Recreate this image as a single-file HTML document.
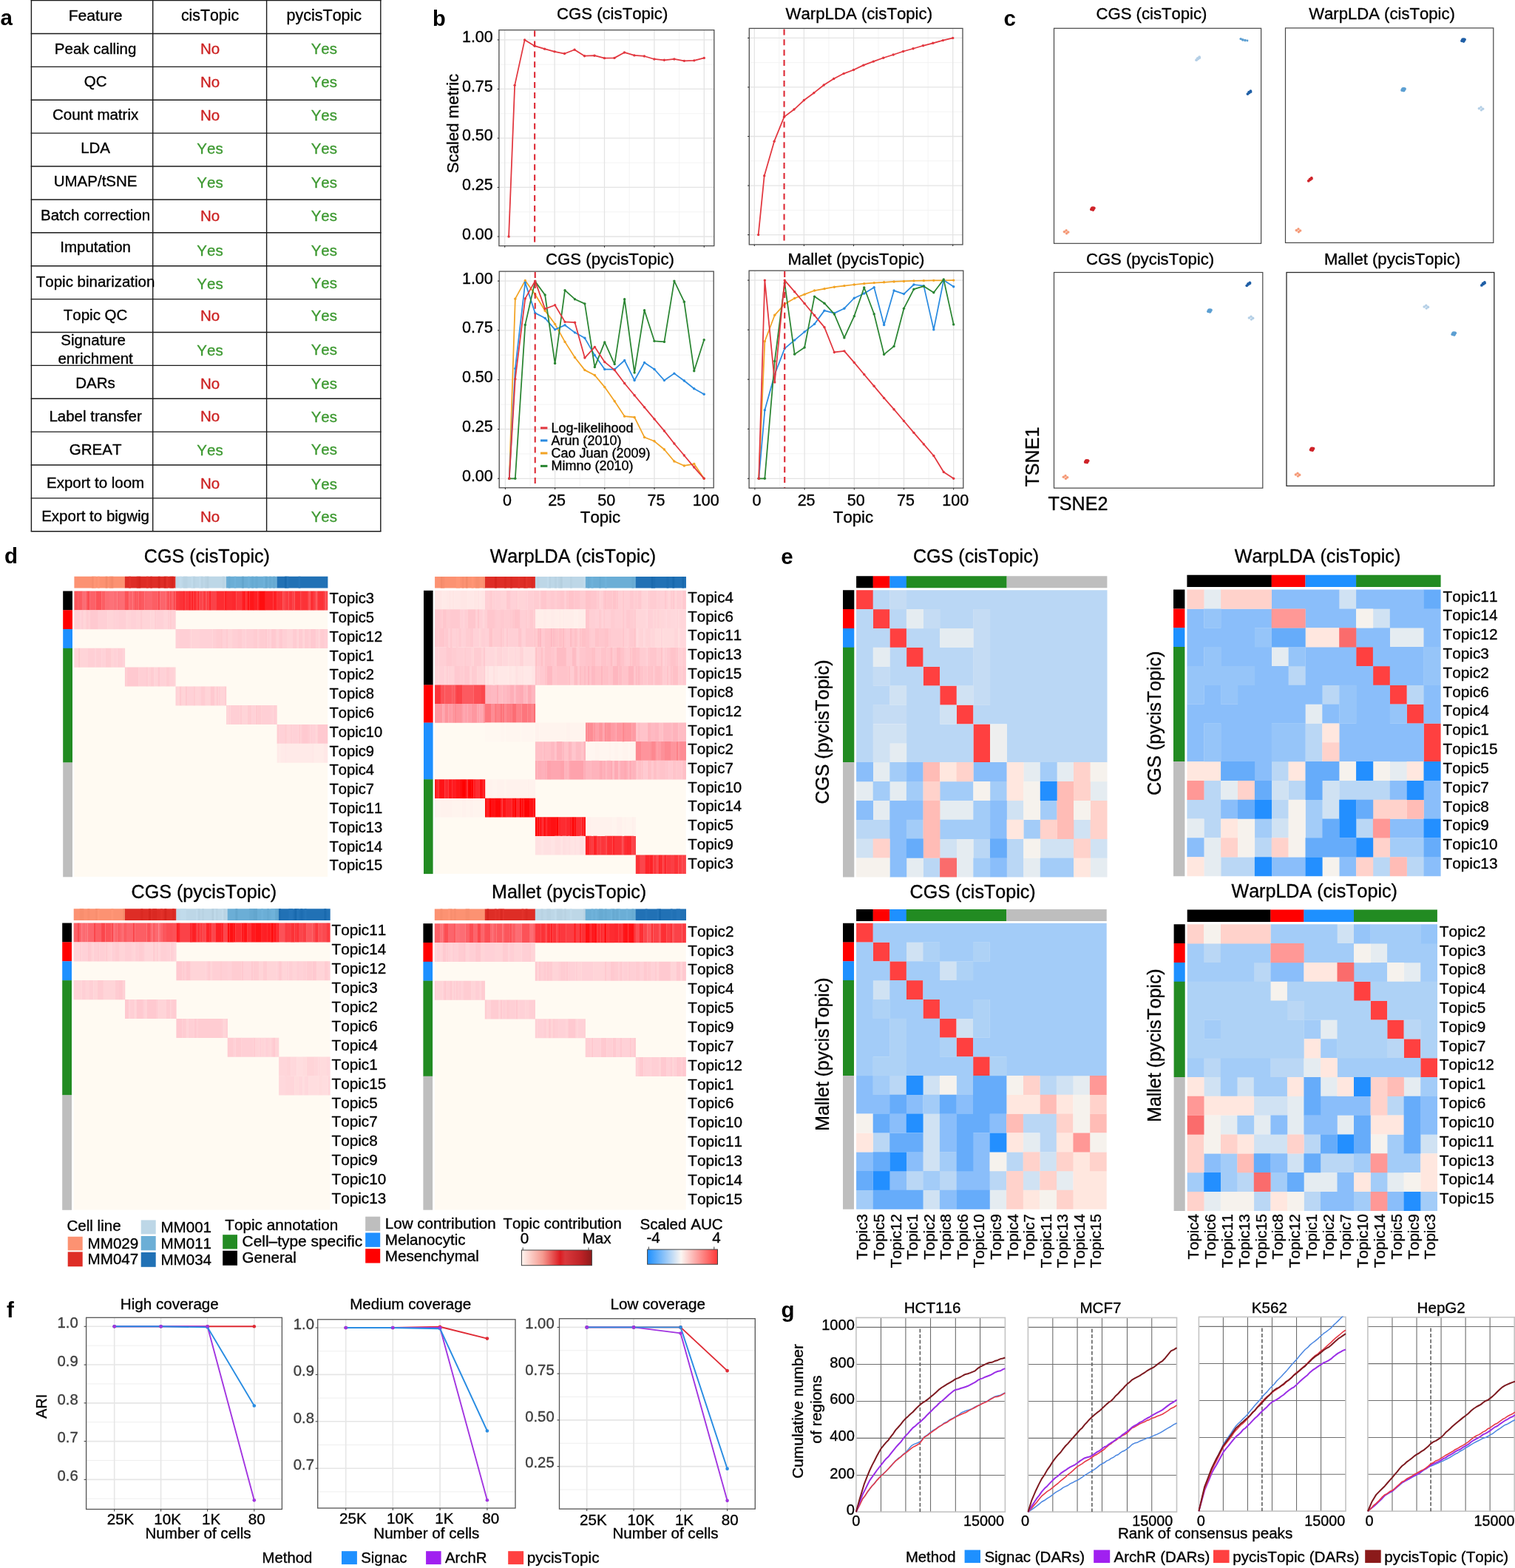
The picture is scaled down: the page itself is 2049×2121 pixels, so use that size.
<!DOCTYPE html>
<html lang="en"><head><meta charset="utf-8"><title>pycisTopic benchmark figure</title>
<style>
html,body{margin:0;padding:0;background:#fff}
body{width:2049px;height:2121px;overflow:hidden}
svg{display:block}
svg text{font-family:"Liberation Sans",sans-serif;font-kerning:none;stroke:#000;stroke-width:.35px;stroke-linejoin:round}
</style></head><body>
<svg width="2049" height="2121" viewBox="0 0 2049 2121">
<rect width="2049" height="2121" fill="#fff"/>
<g id="panel_a">
<text x="0.5" y="33.5" font-size="29.5" font-weight="bold" style="stroke:none">a</text>
<line x1="41.7" y1="0.6" x2="515.5" y2="0.6" stroke="#1a1a1a" stroke-width="1.4"/>
<line x1="41.7" y1="45.49" x2="515.5" y2="45.49" stroke="#1a1a1a" stroke-width="1.4"/>
<line x1="41.7" y1="90.37" x2="515.5" y2="90.37" stroke="#1a1a1a" stroke-width="1.4"/>
<line x1="41.7" y1="135.26" x2="515.5" y2="135.26" stroke="#1a1a1a" stroke-width="1.4"/>
<line x1="41.7" y1="180.15" x2="515.5" y2="180.15" stroke="#1a1a1a" stroke-width="1.4"/>
<line x1="41.7" y1="225.04" x2="515.5" y2="225.04" stroke="#1a1a1a" stroke-width="1.4"/>
<line x1="41.7" y1="269.93" x2="515.5" y2="269.93" stroke="#1a1a1a" stroke-width="1.4"/>
<line x1="41.7" y1="314.81" x2="515.5" y2="314.81" stroke="#1a1a1a" stroke-width="1.4"/>
<line x1="41.7" y1="359.7" x2="515.5" y2="359.7" stroke="#1a1a1a" stroke-width="1.4"/>
<line x1="41.7" y1="404.59" x2="515.5" y2="404.59" stroke="#1a1a1a" stroke-width="1.4"/>
<line x1="41.7" y1="449.47" x2="515.5" y2="449.47" stroke="#1a1a1a" stroke-width="1.4"/>
<line x1="41.7" y1="494.36" x2="515.5" y2="494.36" stroke="#1a1a1a" stroke-width="1.4"/>
<line x1="41.7" y1="539.25" x2="515.5" y2="539.25" stroke="#1a1a1a" stroke-width="1.4"/>
<line x1="41.7" y1="584.14" x2="515.5" y2="584.14" stroke="#1a1a1a" stroke-width="1.4"/>
<line x1="41.7" y1="629.02" x2="515.5" y2="629.02" stroke="#1a1a1a" stroke-width="1.4"/>
<line x1="41.7" y1="673.91" x2="515.5" y2="673.91" stroke="#1a1a1a" stroke-width="1.4"/>
<line x1="41.7" y1="718.8" x2="515.5" y2="718.8" stroke="#1a1a1a" stroke-width="1.4"/>
<line x1="42.4" y1="0" x2="42.4" y2="718.8" stroke="#1a1a1a" stroke-width="1.4"/>
<line x1="206.7" y1="0" x2="206.7" y2="718.8" stroke="#1a1a1a" stroke-width="1.4"/>
<line x1="360.6" y1="0" x2="360.6" y2="718.8" stroke="#1a1a1a" stroke-width="1.4"/>
<line x1="514.8" y1="0" x2="514.8" y2="718.8" stroke="#1a1a1a" stroke-width="1.4"/>
<text x="129.1" y="27.92" font-size="21.1" text-anchor="middle">Feature</text>
<text x="284" y="28.29" font-size="21.3" text-anchor="middle">cisTopic</text>
<text x="438.3" y="28.29" font-size="21.5" text-anchor="middle">pycisTopic</text>
<text x="129.1" y="72.6" font-size="20.5" text-anchor="middle">Peak calling</text>
<text x="284" y="72.6" font-size="20.5" text-anchor="middle" style="fill:#cc2222;stroke:#cc2222">No</text>
<text x="438.3" y="72.6" font-size="20.5" text-anchor="middle" style="fill:#3f9a33;stroke:#3f9a33">Yes</text>
<text x="129.1" y="116.53" font-size="20.5" text-anchor="middle">QC</text>
<text x="284" y="118.39" font-size="20.5" text-anchor="middle" style="fill:#cc2222;stroke:#cc2222">No</text>
<text x="438.3" y="118.39" font-size="20.5" text-anchor="middle" style="fill:#3f9a33;stroke:#3f9a33">Yes</text>
<text x="129.1" y="162.32" font-size="20.5" text-anchor="middle">Count matrix</text>
<text x="284" y="162.7" font-size="20.5" text-anchor="middle" style="fill:#cc2222;stroke:#cc2222">No</text>
<text x="438.3" y="162.7" font-size="20.5" text-anchor="middle" style="fill:#3f9a33;stroke:#3f9a33">Yes</text>
<text x="129.1" y="207" font-size="20.5" text-anchor="middle">LDA</text>
<text x="284" y="207.74" font-size="20.5" text-anchor="middle" style="fill:#3f9a33;stroke:#3f9a33">Yes</text>
<text x="438.3" y="208.49" font-size="20.5" text-anchor="middle" style="fill:#3f9a33;stroke:#3f9a33">Yes</text>
<text x="129.1" y="252.05" font-size="20.5" text-anchor="middle">UMAP/tSNE</text>
<text x="284" y="253.54" font-size="20.5" text-anchor="middle" style="fill:#3f9a33;stroke:#3f9a33">Yes</text>
<text x="438.3" y="253.54" font-size="20.5" text-anchor="middle" style="fill:#3f9a33;stroke:#3f9a33">Yes</text>
<text x="129.1" y="298.21" font-size="20.5" text-anchor="middle">Batch correction</text>
<text x="284" y="298.59" font-size="20.5" text-anchor="middle" style="fill:#cc2222;stroke:#cc2222">No</text>
<text x="438.3" y="298.59" font-size="20.5" text-anchor="middle" style="fill:#3f9a33;stroke:#3f9a33">Yes</text>
<text x="129.1" y="340.66" font-size="20.5" text-anchor="middle">Imputation</text>
<text x="284" y="345.5" font-size="20.5" text-anchor="middle" style="fill:#3f9a33;stroke:#3f9a33">Yes</text>
<text x="438.3" y="345.5" font-size="20.5" text-anchor="middle" style="fill:#3f9a33;stroke:#3f9a33">Yes</text>
<text x="129.1" y="388.31" font-size="20.5" text-anchor="middle">Topic binarization</text>
<text x="284" y="390.92" font-size="20.5" text-anchor="middle" style="fill:#3f9a33;stroke:#3f9a33">Yes</text>
<text x="438.3" y="390.17" font-size="20.5" text-anchor="middle" style="fill:#3f9a33;stroke:#3f9a33">Yes</text>
<text x="129.1" y="432.99" font-size="20.5" text-anchor="middle">Topic QC</text>
<text x="284" y="433.73" font-size="20.5" text-anchor="middle" style="fill:#cc2222;stroke:#cc2222">No</text>
<text x="438.3" y="433.73" font-size="20.5" text-anchor="middle" style="fill:#3f9a33;stroke:#3f9a33">Yes</text>
<text x="126.1" y="467.24" font-size="20.5" text-anchor="middle">Signature</text>
<text x="129.1" y="491.81" font-size="20.5" text-anchor="middle">enrichment</text>
<text x="284" y="481.01" font-size="20.5" text-anchor="middle" style="fill:#3f9a33;stroke:#3f9a33">Yes</text>
<text x="438.3" y="480.27" font-size="20.5" text-anchor="middle" style="fill:#3f9a33;stroke:#3f9a33">Yes</text>
<text x="129.1" y="524.94" font-size="20.5" text-anchor="middle">DARs</text>
<text x="284" y="525.69" font-size="20.5" text-anchor="middle" style="fill:#cc2222;stroke:#cc2222">No</text>
<text x="438.3" y="525.69" font-size="20.5" text-anchor="middle" style="fill:#3f9a33;stroke:#3f9a33">Yes</text>
<text x="129.1" y="569.62" font-size="20.5" text-anchor="middle">Label transfer</text>
<text x="284" y="570.36" font-size="20.5" text-anchor="middle" style="fill:#cc2222;stroke:#cc2222">No</text>
<text x="438.3" y="571.11" font-size="20.5" text-anchor="middle" style="fill:#3f9a33;stroke:#3f9a33">Yes</text>
<text x="129.1" y="615.04" font-size="20.5" text-anchor="middle">GREAT</text>
<text x="284" y="616.16" font-size="20.5" text-anchor="middle" style="fill:#3f9a33;stroke:#3f9a33">Yes</text>
<text x="438.3" y="615.41" font-size="20.5" text-anchor="middle" style="fill:#3f9a33;stroke:#3f9a33">Yes</text>
<text x="129.1" y="659.72" font-size="20.5" text-anchor="middle">Export to loom</text>
<text x="284" y="660.83" font-size="20.5" text-anchor="middle" style="fill:#cc2222;stroke:#cc2222">No</text>
<text x="438.3" y="661.58" font-size="20.5" text-anchor="middle" style="fill:#3f9a33;stroke:#3f9a33">Yes</text>
<text x="129.1" y="704.77" font-size="20.5" text-anchor="middle">Export to bigwig</text>
<text x="284" y="705.51" font-size="20.5" text-anchor="middle" style="fill:#cc2222;stroke:#cc2222">No</text>
<text x="438.3" y="706.25" font-size="20.5" text-anchor="middle" style="fill:#3f9a33;stroke:#3f9a33">Yes</text>
</g>
<g id="panel_b">
<text x="585" y="35" font-size="29" font-weight="bold" style="stroke:none">b</text>
<rect x="674.9" y="40.6" width="290.9" height="292" fill="#fff"/>
<line x1="716.4" y1="40.6" x2="716.4" y2="332.6" stroke="#f0f0f0" stroke-width="0.8"/>
<line x1="783.8" y1="40.6" x2="783.8" y2="332.6" stroke="#f0f0f0" stroke-width="0.8"/>
<line x1="851.2" y1="40.6" x2="851.2" y2="332.6" stroke="#f0f0f0" stroke-width="0.8"/>
<line x1="918.6" y1="40.6" x2="918.6" y2="332.6" stroke="#f0f0f0" stroke-width="0.8"/>
<line x1="674.9" y1="286.74" x2="965.8" y2="286.74" stroke="#f0f0f0" stroke-width="0.8"/>
<line x1="674.9" y1="220.21" x2="965.8" y2="220.21" stroke="#f0f0f0" stroke-width="0.8"/>
<line x1="674.9" y1="153.69" x2="965.8" y2="153.69" stroke="#f0f0f0" stroke-width="0.8"/>
<line x1="674.9" y1="87.16" x2="965.8" y2="87.16" stroke="#f0f0f0" stroke-width="0.8"/>
<line x1="682.7" y1="40.6" x2="682.7" y2="332.6" stroke="#e4e4e4" stroke-width="1.3"/>
<line x1="750.1" y1="40.6" x2="750.1" y2="332.6" stroke="#e4e4e4" stroke-width="1.3"/>
<line x1="817.5" y1="40.6" x2="817.5" y2="332.6" stroke="#e4e4e4" stroke-width="1.3"/>
<line x1="884.9" y1="40.6" x2="884.9" y2="332.6" stroke="#e4e4e4" stroke-width="1.3"/>
<line x1="952.3" y1="40.6" x2="952.3" y2="332.6" stroke="#e4e4e4" stroke-width="1.3"/>
<line x1="674.9" y1="320" x2="965.8" y2="320" stroke="#e4e4e4" stroke-width="1.3"/>
<line x1="674.9" y1="253.47" x2="965.8" y2="253.47" stroke="#e4e4e4" stroke-width="1.3"/>
<line x1="674.9" y1="186.95" x2="965.8" y2="186.95" stroke="#e4e4e4" stroke-width="1.3"/>
<line x1="674.9" y1="120.42" x2="965.8" y2="120.42" stroke="#e4e4e4" stroke-width="1.3"/>
<line x1="674.9" y1="53.9" x2="965.8" y2="53.9" stroke="#e4e4e4" stroke-width="1.3"/>
<polyline points="688.09,320 696.18,115.37 709.66,53.9 723.14,62.15 736.62,66.14 750.1,69.87 763.58,72.53 777.06,67.2 790.54,75.72 804.02,75.19 817.5,78.65 830.98,78.38 844.46,70.93 857.94,74.92 871.42,75.99 884.9,79.98 898.38,81.31 911.86,79.98 925.34,82.37 938.82,81.84 952.3,78.38" fill="none" stroke="#e2373f" stroke-width="1.75" stroke-linejoin="round"/>
<circle cx="688.09" cy="320" r="1.7" fill="#e2373f"/>
<circle cx="696.18" cy="115.37" r="1.7" fill="#e2373f"/>
<circle cx="709.66" cy="53.9" r="1.7" fill="#e2373f"/>
<circle cx="723.14" cy="62.15" r="1.7" fill="#e2373f"/>
<circle cx="736.62" cy="66.14" r="1.7" fill="#e2373f"/>
<circle cx="750.1" cy="69.87" r="1.7" fill="#e2373f"/>
<circle cx="763.58" cy="72.53" r="1.7" fill="#e2373f"/>
<circle cx="777.06" cy="67.2" r="1.7" fill="#e2373f"/>
<circle cx="790.54" cy="75.72" r="1.7" fill="#e2373f"/>
<circle cx="804.02" cy="75.19" r="1.7" fill="#e2373f"/>
<circle cx="817.5" cy="78.65" r="1.7" fill="#e2373f"/>
<circle cx="830.98" cy="78.38" r="1.7" fill="#e2373f"/>
<circle cx="844.46" cy="70.93" r="1.7" fill="#e2373f"/>
<circle cx="857.94" cy="74.92" r="1.7" fill="#e2373f"/>
<circle cx="871.42" cy="75.99" r="1.7" fill="#e2373f"/>
<circle cx="884.9" cy="79.98" r="1.7" fill="#e2373f"/>
<circle cx="898.38" cy="81.31" r="1.7" fill="#e2373f"/>
<circle cx="911.86" cy="79.98" r="1.7" fill="#e2373f"/>
<circle cx="925.34" cy="82.37" r="1.7" fill="#e2373f"/>
<circle cx="938.82" cy="81.84" r="1.7" fill="#e2373f"/>
<circle cx="952.3" cy="78.38" r="1.7" fill="#e2373f"/>
<line x1="723.14" y1="41.6" x2="723.14" y2="332.6" stroke="#dd2a35" stroke-width="2.1" stroke-dasharray="8 5.9"/>
<rect x="674.9" y="40.6" width="290.9" height="292" fill="none" stroke="#4d4d4d" stroke-width="1.3"/>
<line x1="682.7" y1="332.6" x2="682.7" y2="334.8" stroke="#333" stroke-width="1.1"/>
<line x1="750.1" y1="332.6" x2="750.1" y2="334.8" stroke="#333" stroke-width="1.1"/>
<line x1="817.5" y1="332.6" x2="817.5" y2="334.8" stroke="#333" stroke-width="1.1"/>
<line x1="884.9" y1="332.6" x2="884.9" y2="334.8" stroke="#333" stroke-width="1.1"/>
<line x1="952.3" y1="332.6" x2="952.3" y2="334.8" stroke="#333" stroke-width="1.1"/>
<line x1="672.7" y1="320" x2="674.9" y2="320" stroke="#333" stroke-width="1.1"/>
<line x1="672.7" y1="253.47" x2="674.9" y2="253.47" stroke="#333" stroke-width="1.1"/>
<line x1="672.7" y1="186.95" x2="674.9" y2="186.95" stroke="#333" stroke-width="1.1"/>
<line x1="672.7" y1="120.42" x2="674.9" y2="120.42" stroke="#333" stroke-width="1.1"/>
<line x1="672.7" y1="53.9" x2="674.9" y2="53.9" stroke="#333" stroke-width="1.1"/>
<text x="828.1" y="25.5" font-size="22.2" text-anchor="middle">CGS (cisTopic)</text>
<text x="666.8" y="323.5" font-size="21.5" text-anchor="end">0.00</text>
<text x="666.8" y="256.98" font-size="21.5" text-anchor="end">0.25</text>
<text x="666.8" y="190.45" font-size="21.5" text-anchor="end">0.50</text>
<text x="666.8" y="123.92" font-size="21.5" text-anchor="end">0.75</text>
<text x="666.8" y="57.4" font-size="21.5" text-anchor="end">1.00</text>
<text text-anchor="middle" transform="translate(620 167) rotate(-90)" font-size="22.2">Scaled metric</text>
<rect x="1013.3" y="38.4" width="288.7" height="292.5" fill="#fff"/>
<line x1="1053.85" y1="38.4" x2="1053.85" y2="330.9" stroke="#f0f0f0" stroke-width="0.8"/>
<line x1="1120.95" y1="38.4" x2="1120.95" y2="330.9" stroke="#f0f0f0" stroke-width="0.8"/>
<line x1="1188.05" y1="38.4" x2="1188.05" y2="330.9" stroke="#f0f0f0" stroke-width="0.8"/>
<line x1="1255.15" y1="38.4" x2="1255.15" y2="330.9" stroke="#f0f0f0" stroke-width="0.8"/>
<line x1="1013.3" y1="284.33" x2="1302" y2="284.33" stroke="#f0f0f0" stroke-width="0.8"/>
<line x1="1013.3" y1="217.78" x2="1302" y2="217.78" stroke="#f0f0f0" stroke-width="0.8"/>
<line x1="1013.3" y1="151.22" x2="1302" y2="151.22" stroke="#f0f0f0" stroke-width="0.8"/>
<line x1="1013.3" y1="84.67" x2="1302" y2="84.67" stroke="#f0f0f0" stroke-width="0.8"/>
<line x1="1020.3" y1="38.4" x2="1020.3" y2="330.9" stroke="#e4e4e4" stroke-width="1.3"/>
<line x1="1087.4" y1="38.4" x2="1087.4" y2="330.9" stroke="#e4e4e4" stroke-width="1.3"/>
<line x1="1154.5" y1="38.4" x2="1154.5" y2="330.9" stroke="#e4e4e4" stroke-width="1.3"/>
<line x1="1221.6" y1="38.4" x2="1221.6" y2="330.9" stroke="#e4e4e4" stroke-width="1.3"/>
<line x1="1288.7" y1="38.4" x2="1288.7" y2="330.9" stroke="#e4e4e4" stroke-width="1.3"/>
<line x1="1013.3" y1="317.6" x2="1302" y2="317.6" stroke="#e4e4e4" stroke-width="1.3"/>
<line x1="1013.3" y1="251.05" x2="1302" y2="251.05" stroke="#e4e4e4" stroke-width="1.3"/>
<line x1="1013.3" y1="184.5" x2="1302" y2="184.5" stroke="#e4e4e4" stroke-width="1.3"/>
<line x1="1013.3" y1="117.95" x2="1302" y2="117.95" stroke="#e4e4e4" stroke-width="1.3"/>
<line x1="1013.3" y1="51.4" x2="1302" y2="51.4" stroke="#e4e4e4" stroke-width="1.3"/>
<polyline points="1025.67,317.6 1033.72,237.74 1047.14,191.16 1060.56,158.15 1073.98,148.03 1087.4,135.52 1100.82,125.67 1114.24,115.02 1127.66,106.5 1141.08,99.58 1154.5,94.52 1167.92,88.14 1181.34,83.08 1194.76,78.29 1208.18,74.03 1221.6,69.5 1235.02,65.77 1248.44,61.78 1261.86,58.32 1275.28,54.59 1288.7,51.4" fill="none" stroke="#e2373f" stroke-width="1.75" stroke-linejoin="round"/>
<circle cx="1025.67" cy="317.6" r="1.7" fill="#e2373f"/>
<circle cx="1033.72" cy="237.74" r="1.7" fill="#e2373f"/>
<circle cx="1047.14" cy="191.16" r="1.7" fill="#e2373f"/>
<circle cx="1060.56" cy="158.15" r="1.7" fill="#e2373f"/>
<circle cx="1073.98" cy="148.03" r="1.7" fill="#e2373f"/>
<circle cx="1087.4" cy="135.52" r="1.7" fill="#e2373f"/>
<circle cx="1100.82" cy="125.67" r="1.7" fill="#e2373f"/>
<circle cx="1114.24" cy="115.02" r="1.7" fill="#e2373f"/>
<circle cx="1127.66" cy="106.5" r="1.7" fill="#e2373f"/>
<circle cx="1141.08" cy="99.58" r="1.7" fill="#e2373f"/>
<circle cx="1154.5" cy="94.52" r="1.7" fill="#e2373f"/>
<circle cx="1167.92" cy="88.14" r="1.7" fill="#e2373f"/>
<circle cx="1181.34" cy="83.08" r="1.7" fill="#e2373f"/>
<circle cx="1194.76" cy="78.29" r="1.7" fill="#e2373f"/>
<circle cx="1208.18" cy="74.03" r="1.7" fill="#e2373f"/>
<circle cx="1221.6" cy="69.5" r="1.7" fill="#e2373f"/>
<circle cx="1235.02" cy="65.77" r="1.7" fill="#e2373f"/>
<circle cx="1248.44" cy="61.78" r="1.7" fill="#e2373f"/>
<circle cx="1261.86" cy="58.32" r="1.7" fill="#e2373f"/>
<circle cx="1275.28" cy="54.59" r="1.7" fill="#e2373f"/>
<circle cx="1288.7" cy="51.4" r="1.7" fill="#e2373f"/>
<line x1="1060.56" y1="39.4" x2="1060.56" y2="330.9" stroke="#dd2a35" stroke-width="2.1" stroke-dasharray="8 5.9"/>
<rect x="1013.3" y="38.4" width="288.7" height="292.5" fill="none" stroke="#4d4d4d" stroke-width="1.3"/>
<line x1="1020.3" y1="330.9" x2="1020.3" y2="333.1" stroke="#333" stroke-width="1.1"/>
<line x1="1087.4" y1="330.9" x2="1087.4" y2="333.1" stroke="#333" stroke-width="1.1"/>
<line x1="1154.5" y1="330.9" x2="1154.5" y2="333.1" stroke="#333" stroke-width="1.1"/>
<line x1="1221.6" y1="330.9" x2="1221.6" y2="333.1" stroke="#333" stroke-width="1.1"/>
<line x1="1288.7" y1="330.9" x2="1288.7" y2="333.1" stroke="#333" stroke-width="1.1"/>
<line x1="1011.1" y1="317.6" x2="1013.3" y2="317.6" stroke="#333" stroke-width="1.1"/>
<line x1="1011.1" y1="251.05" x2="1013.3" y2="251.05" stroke="#333" stroke-width="1.1"/>
<line x1="1011.1" y1="184.5" x2="1013.3" y2="184.5" stroke="#333" stroke-width="1.1"/>
<line x1="1011.1" y1="117.95" x2="1013.3" y2="117.95" stroke="#333" stroke-width="1.1"/>
<line x1="1011.1" y1="51.4" x2="1013.3" y2="51.4" stroke="#333" stroke-width="1.1"/>
<text x="1161.8" y="25.5" font-size="22.2" text-anchor="middle">WarpLDA (cisTopic)</text>
<rect x="675.2" y="367.1" width="290" height="292.7" fill="#fff"/>
<line x1="717" y1="367.1" x2="717" y2="659.8" stroke="#f0f0f0" stroke-width="0.8"/>
<line x1="784.2" y1="367.1" x2="784.2" y2="659.8" stroke="#f0f0f0" stroke-width="0.8"/>
<line x1="851.4" y1="367.1" x2="851.4" y2="659.8" stroke="#f0f0f0" stroke-width="0.8"/>
<line x1="918.6" y1="367.1" x2="918.6" y2="659.8" stroke="#f0f0f0" stroke-width="0.8"/>
<line x1="675.2" y1="613.9" x2="965.2" y2="613.9" stroke="#f0f0f0" stroke-width="0.8"/>
<line x1="675.2" y1="547.1" x2="965.2" y2="547.1" stroke="#f0f0f0" stroke-width="0.8"/>
<line x1="675.2" y1="480.3" x2="965.2" y2="480.3" stroke="#f0f0f0" stroke-width="0.8"/>
<line x1="675.2" y1="413.5" x2="965.2" y2="413.5" stroke="#f0f0f0" stroke-width="0.8"/>
<line x1="683.4" y1="367.1" x2="683.4" y2="659.8" stroke="#e4e4e4" stroke-width="1.3"/>
<line x1="750.6" y1="367.1" x2="750.6" y2="659.8" stroke="#e4e4e4" stroke-width="1.3"/>
<line x1="817.8" y1="367.1" x2="817.8" y2="659.8" stroke="#e4e4e4" stroke-width="1.3"/>
<line x1="885" y1="367.1" x2="885" y2="659.8" stroke="#e4e4e4" stroke-width="1.3"/>
<line x1="952.2" y1="367.1" x2="952.2" y2="659.8" stroke="#e4e4e4" stroke-width="1.3"/>
<line x1="675.2" y1="647.3" x2="965.2" y2="647.3" stroke="#e4e4e4" stroke-width="1.3"/>
<line x1="675.2" y1="580.5" x2="965.2" y2="580.5" stroke="#e4e4e4" stroke-width="1.3"/>
<line x1="675.2" y1="513.7" x2="965.2" y2="513.7" stroke="#e4e4e4" stroke-width="1.3"/>
<line x1="675.2" y1="446.9" x2="965.2" y2="446.9" stroke="#e4e4e4" stroke-width="1.3"/>
<line x1="675.2" y1="380.1" x2="965.2" y2="380.1" stroke="#e4e4e4" stroke-width="1.3"/>
<polyline points="688.78,647.3 696.84,404.15 710.28,379.57 723.72,398.27 737.16,420.18 750.6,438.35 764.04,462.4 777.48,483.51 790.92,500.61 804.36,507.55 817.8,523.59 831.24,542.82 844.68,563.13 858.12,564.47 871.56,591.46 885,596.8 898.44,608.02 911.88,624.05 925.32,629.93 938.76,627.53 952.2,647.3" fill="none" stroke="#f2a324" stroke-width="1.75" stroke-linejoin="round"/>
<circle cx="688.78" cy="647.3" r="1.7" fill="#f2a324"/>
<circle cx="696.84" cy="404.15" r="1.7" fill="#f2a324"/>
<circle cx="710.28" cy="379.57" r="1.7" fill="#f2a324"/>
<circle cx="723.72" cy="398.27" r="1.7" fill="#f2a324"/>
<circle cx="737.16" cy="420.18" r="1.7" fill="#f2a324"/>
<circle cx="750.6" cy="438.35" r="1.7" fill="#f2a324"/>
<circle cx="764.04" cy="462.4" r="1.7" fill="#f2a324"/>
<circle cx="777.48" cy="483.51" r="1.7" fill="#f2a324"/>
<circle cx="790.92" cy="500.61" r="1.7" fill="#f2a324"/>
<circle cx="804.36" cy="507.55" r="1.7" fill="#f2a324"/>
<circle cx="817.8" cy="523.59" r="1.7" fill="#f2a324"/>
<circle cx="831.24" cy="542.82" r="1.7" fill="#f2a324"/>
<circle cx="844.68" cy="563.13" r="1.7" fill="#f2a324"/>
<circle cx="858.12" cy="564.47" r="1.7" fill="#f2a324"/>
<circle cx="871.56" cy="591.46" r="1.7" fill="#f2a324"/>
<circle cx="885" cy="596.8" r="1.7" fill="#f2a324"/>
<circle cx="898.44" cy="608.02" r="1.7" fill="#f2a324"/>
<circle cx="911.88" cy="624.05" r="1.7" fill="#f2a324"/>
<circle cx="925.32" cy="629.93" r="1.7" fill="#f2a324"/>
<circle cx="938.76" cy="627.53" r="1.7" fill="#f2a324"/>
<circle cx="952.2" cy="647.3" r="1.7" fill="#f2a324"/>
<polyline points="688.78,647.3 696.84,498.47 710.28,382.24 723.72,423.39 737.16,430.33 750.6,445.83 764.04,439.69 777.48,449.84 790.92,457.32 804.36,480.57 817.8,499.54 831.24,499.54 844.68,487.51 858.12,514.5 871.56,490.45 885,499.54 898.44,514.5 911.88,505.15 925.32,515.04 938.76,525.72 952.2,533.21" fill="none" stroke="#2b8be0" stroke-width="1.75" stroke-linejoin="round"/>
<circle cx="688.78" cy="647.3" r="1.7" fill="#2b8be0"/>
<circle cx="696.84" cy="498.47" r="1.7" fill="#2b8be0"/>
<circle cx="710.28" cy="382.24" r="1.7" fill="#2b8be0"/>
<circle cx="723.72" cy="423.39" r="1.7" fill="#2b8be0"/>
<circle cx="737.16" cy="430.33" r="1.7" fill="#2b8be0"/>
<circle cx="750.6" cy="445.83" r="1.7" fill="#2b8be0"/>
<circle cx="764.04" cy="439.69" r="1.7" fill="#2b8be0"/>
<circle cx="777.48" cy="449.84" r="1.7" fill="#2b8be0"/>
<circle cx="790.92" cy="457.32" r="1.7" fill="#2b8be0"/>
<circle cx="804.36" cy="480.57" r="1.7" fill="#2b8be0"/>
<circle cx="817.8" cy="499.54" r="1.7" fill="#2b8be0"/>
<circle cx="831.24" cy="499.54" r="1.7" fill="#2b8be0"/>
<circle cx="844.68" cy="487.51" r="1.7" fill="#2b8be0"/>
<circle cx="858.12" cy="514.5" r="1.7" fill="#2b8be0"/>
<circle cx="871.56" cy="490.45" r="1.7" fill="#2b8be0"/>
<circle cx="885" cy="499.54" r="1.7" fill="#2b8be0"/>
<circle cx="898.44" cy="514.5" r="1.7" fill="#2b8be0"/>
<circle cx="911.88" cy="505.15" r="1.7" fill="#2b8be0"/>
<circle cx="925.32" cy="515.04" r="1.7" fill="#2b8be0"/>
<circle cx="938.76" cy="525.72" r="1.7" fill="#2b8be0"/>
<circle cx="952.2" cy="533.21" r="1.7" fill="#2b8be0"/>
<polyline points="688.78,647.3 696.84,647.3 710.28,439.42 723.72,380.63 737.16,399.07 750.6,491.52 764.04,392.66 777.48,404.68 790.92,410.83 804.36,496.6 817.8,462.93 831.24,492.59 844.68,404.68 858.12,504.08 871.56,419.65 885,461.33 898.44,462.4 911.88,380.1 925.32,408.16 938.76,501.68 952.2,459.73" fill="none" stroke="#2a8532" stroke-width="1.75" stroke-linejoin="round"/>
<circle cx="688.78" cy="647.3" r="1.7" fill="#2a8532"/>
<circle cx="696.84" cy="647.3" r="1.7" fill="#2a8532"/>
<circle cx="710.28" cy="439.42" r="1.7" fill="#2a8532"/>
<circle cx="723.72" cy="380.63" r="1.7" fill="#2a8532"/>
<circle cx="737.16" cy="399.07" r="1.7" fill="#2a8532"/>
<circle cx="750.6" cy="491.52" r="1.7" fill="#2a8532"/>
<circle cx="764.04" cy="392.66" r="1.7" fill="#2a8532"/>
<circle cx="777.48" cy="404.68" r="1.7" fill="#2a8532"/>
<circle cx="790.92" cy="410.83" r="1.7" fill="#2a8532"/>
<circle cx="804.36" cy="496.6" r="1.7" fill="#2a8532"/>
<circle cx="817.8" cy="462.93" r="1.7" fill="#2a8532"/>
<circle cx="831.24" cy="492.59" r="1.7" fill="#2a8532"/>
<circle cx="844.68" cy="404.68" r="1.7" fill="#2a8532"/>
<circle cx="858.12" cy="504.08" r="1.7" fill="#2a8532"/>
<circle cx="871.56" cy="419.65" r="1.7" fill="#2a8532"/>
<circle cx="885" cy="461.33" r="1.7" fill="#2a8532"/>
<circle cx="898.44" cy="462.4" r="1.7" fill="#2a8532"/>
<circle cx="911.88" cy="380.1" r="1.7" fill="#2a8532"/>
<circle cx="925.32" cy="408.16" r="1.7" fill="#2a8532"/>
<circle cx="938.76" cy="501.68" r="1.7" fill="#2a8532"/>
<circle cx="952.2" cy="459.73" r="1.7" fill="#2a8532"/>
<polyline points="688.78,647.3 696.84,512.63 710.28,403.88 723.72,380.1 737.16,417.78 750.6,412.7 764.04,435.41 777.48,436.21 790.92,484.04 804.36,469.34 817.8,489.65 831.24,500.61 844.68,518.51 858.12,534.81 871.56,550.84 885,566.87 898.44,582.9 911.88,600.01 925.32,616.04 938.76,632.07 952.2,647.3" fill="none" stroke="#e2373f" stroke-width="1.75" stroke-linejoin="round"/>
<circle cx="688.78" cy="647.3" r="1.7" fill="#e2373f"/>
<circle cx="696.84" cy="512.63" r="1.7" fill="#e2373f"/>
<circle cx="710.28" cy="403.88" r="1.7" fill="#e2373f"/>
<circle cx="723.72" cy="380.1" r="1.7" fill="#e2373f"/>
<circle cx="737.16" cy="417.78" r="1.7" fill="#e2373f"/>
<circle cx="750.6" cy="412.7" r="1.7" fill="#e2373f"/>
<circle cx="764.04" cy="435.41" r="1.7" fill="#e2373f"/>
<circle cx="777.48" cy="436.21" r="1.7" fill="#e2373f"/>
<circle cx="790.92" cy="484.04" r="1.7" fill="#e2373f"/>
<circle cx="804.36" cy="469.34" r="1.7" fill="#e2373f"/>
<circle cx="817.8" cy="489.65" r="1.7" fill="#e2373f"/>
<circle cx="831.24" cy="500.61" r="1.7" fill="#e2373f"/>
<circle cx="844.68" cy="518.51" r="1.7" fill="#e2373f"/>
<circle cx="858.12" cy="534.81" r="1.7" fill="#e2373f"/>
<circle cx="871.56" cy="550.84" r="1.7" fill="#e2373f"/>
<circle cx="885" cy="566.87" r="1.7" fill="#e2373f"/>
<circle cx="898.44" cy="582.9" r="1.7" fill="#e2373f"/>
<circle cx="911.88" cy="600.01" r="1.7" fill="#e2373f"/>
<circle cx="925.32" cy="616.04" r="1.7" fill="#e2373f"/>
<circle cx="938.76" cy="632.07" r="1.7" fill="#e2373f"/>
<circle cx="952.2" cy="647.3" r="1.7" fill="#e2373f"/>
<line x1="723.72" y1="368.1" x2="723.72" y2="659.8" stroke="#dd2a35" stroke-width="2.1" stroke-dasharray="8 5.9"/>
<rect x="675.2" y="367.1" width="290" height="292.7" fill="none" stroke="#4d4d4d" stroke-width="1.3"/>
<line x1="683.4" y1="659.8" x2="683.4" y2="662" stroke="#333" stroke-width="1.1"/>
<line x1="750.6" y1="659.8" x2="750.6" y2="662" stroke="#333" stroke-width="1.1"/>
<line x1="817.8" y1="659.8" x2="817.8" y2="662" stroke="#333" stroke-width="1.1"/>
<line x1="885" y1="659.8" x2="885" y2="662" stroke="#333" stroke-width="1.1"/>
<line x1="952.2" y1="659.8" x2="952.2" y2="662" stroke="#333" stroke-width="1.1"/>
<line x1="673" y1="647.3" x2="675.2" y2="647.3" stroke="#333" stroke-width="1.1"/>
<line x1="673" y1="580.5" x2="675.2" y2="580.5" stroke="#333" stroke-width="1.1"/>
<line x1="673" y1="513.7" x2="675.2" y2="513.7" stroke="#333" stroke-width="1.1"/>
<line x1="673" y1="446.9" x2="675.2" y2="446.9" stroke="#333" stroke-width="1.1"/>
<line x1="673" y1="380.1" x2="675.2" y2="380.1" stroke="#333" stroke-width="1.1"/>
<text x="825" y="357.5" font-size="22.2" text-anchor="middle">CGS (pycisTopic)</text>
<text x="666.8" y="650.8" font-size="21.5" text-anchor="end">0.00</text>
<text x="666.8" y="584" font-size="21.5" text-anchor="end">0.25</text>
<text x="666.8" y="517.2" font-size="21.5" text-anchor="end">0.50</text>
<text x="666.8" y="450.4" font-size="21.5" text-anchor="end">0.75</text>
<text x="666.8" y="383.6" font-size="21.5" text-anchor="end">1.00</text>
<text x="685.9" y="684" font-size="21.5" text-anchor="middle">0</text>
<text x="753.1" y="684" font-size="21.5" text-anchor="middle">25</text>
<text x="820.3" y="684" font-size="21.5" text-anchor="middle">50</text>
<text x="887.5" y="684" font-size="21.5" text-anchor="middle">75</text>
<text x="954.7" y="684" font-size="21.5" text-anchor="middle">100</text>
<text x="812" y="707" font-size="22.2" text-anchor="middle">Topic</text>
<line x1="731" y1="578.9" x2="740.4" y2="578.9" stroke="#e2373f" stroke-width="3"/>
<text x="745.5" y="584.9" font-size="18">Log-likelihood</text>
<line x1="731" y1="595.9" x2="740.4" y2="595.9" stroke="#2b8be0" stroke-width="3"/>
<text x="745.5" y="601.9" font-size="18">Arun (2010)</text>
<line x1="731" y1="613" x2="740.4" y2="613" stroke="#f2a324" stroke-width="3"/>
<text x="745.5" y="619" font-size="18">Cao Juan (2009)</text>
<line x1="731" y1="630.4" x2="740.4" y2="630.4" stroke="#2a8532" stroke-width="3"/>
<text x="745.5" y="636.4" font-size="18">Mimno (2010)</text>
<rect x="1013.1" y="366.1" width="289.7" height="294.1" fill="#fff"/>
<line x1="1054.5" y1="366.1" x2="1054.5" y2="660.2" stroke="#f0f0f0" stroke-width="0.8"/>
<line x1="1121.7" y1="366.1" x2="1121.7" y2="660.2" stroke="#f0f0f0" stroke-width="0.8"/>
<line x1="1188.9" y1="366.1" x2="1188.9" y2="660.2" stroke="#f0f0f0" stroke-width="0.8"/>
<line x1="1256.1" y1="366.1" x2="1256.1" y2="660.2" stroke="#f0f0f0" stroke-width="0.8"/>
<line x1="1013.1" y1="613.77" x2="1302.8" y2="613.77" stroke="#f0f0f0" stroke-width="0.8"/>
<line x1="1013.1" y1="546.73" x2="1302.8" y2="546.73" stroke="#f0f0f0" stroke-width="0.8"/>
<line x1="1013.1" y1="479.68" x2="1302.8" y2="479.68" stroke="#f0f0f0" stroke-width="0.8"/>
<line x1="1013.1" y1="412.62" x2="1302.8" y2="412.62" stroke="#f0f0f0" stroke-width="0.8"/>
<line x1="1020.9" y1="366.1" x2="1020.9" y2="660.2" stroke="#e4e4e4" stroke-width="1.3"/>
<line x1="1088.1" y1="366.1" x2="1088.1" y2="660.2" stroke="#e4e4e4" stroke-width="1.3"/>
<line x1="1155.3" y1="366.1" x2="1155.3" y2="660.2" stroke="#e4e4e4" stroke-width="1.3"/>
<line x1="1222.5" y1="366.1" x2="1222.5" y2="660.2" stroke="#e4e4e4" stroke-width="1.3"/>
<line x1="1289.7" y1="366.1" x2="1289.7" y2="660.2" stroke="#e4e4e4" stroke-width="1.3"/>
<line x1="1013.1" y1="647.3" x2="1302.8" y2="647.3" stroke="#e4e4e4" stroke-width="1.3"/>
<line x1="1013.1" y1="580.25" x2="1302.8" y2="580.25" stroke="#e4e4e4" stroke-width="1.3"/>
<line x1="1013.1" y1="513.2" x2="1302.8" y2="513.2" stroke="#e4e4e4" stroke-width="1.3"/>
<line x1="1013.1" y1="446.15" x2="1302.8" y2="446.15" stroke="#e4e4e4" stroke-width="1.3"/>
<line x1="1013.1" y1="379.1" x2="1302.8" y2="379.1" stroke="#e4e4e4" stroke-width="1.3"/>
<polyline points="1026.28,647.3 1034.34,461.71 1047.78,426.3 1061.22,411.28 1074.66,403.51 1088.1,398.14 1101.54,393.05 1114.98,390.63 1128.42,388.22 1141.86,386.61 1155.3,385 1168.74,383.66 1182.18,382.59 1195.62,381.78 1209.06,380.98 1222.5,380.44 1235.94,379.9 1249.38,379.64 1262.82,379.37 1276.26,379.37 1289.7,379.1" fill="none" stroke="#f2a324" stroke-width="1.75" stroke-linejoin="round"/>
<circle cx="1026.28" cy="647.3" r="1.7" fill="#f2a324"/>
<circle cx="1034.34" cy="461.71" r="1.7" fill="#f2a324"/>
<circle cx="1047.78" cy="426.3" r="1.7" fill="#f2a324"/>
<circle cx="1061.22" cy="411.28" r="1.7" fill="#f2a324"/>
<circle cx="1074.66" cy="403.51" r="1.7" fill="#f2a324"/>
<circle cx="1088.1" cy="398.14" r="1.7" fill="#f2a324"/>
<circle cx="1101.54" cy="393.05" r="1.7" fill="#f2a324"/>
<circle cx="1114.98" cy="390.63" r="1.7" fill="#f2a324"/>
<circle cx="1128.42" cy="388.22" r="1.7" fill="#f2a324"/>
<circle cx="1141.86" cy="386.61" r="1.7" fill="#f2a324"/>
<circle cx="1155.3" cy="385" r="1.7" fill="#f2a324"/>
<circle cx="1168.74" cy="383.66" r="1.7" fill="#f2a324"/>
<circle cx="1182.18" cy="382.59" r="1.7" fill="#f2a324"/>
<circle cx="1195.62" cy="381.78" r="1.7" fill="#f2a324"/>
<circle cx="1209.06" cy="380.98" r="1.7" fill="#f2a324"/>
<circle cx="1222.5" cy="380.44" r="1.7" fill="#f2a324"/>
<circle cx="1235.94" cy="379.9" r="1.7" fill="#f2a324"/>
<circle cx="1249.38" cy="379.64" r="1.7" fill="#f2a324"/>
<circle cx="1262.82" cy="379.37" r="1.7" fill="#f2a324"/>
<circle cx="1276.26" cy="379.37" r="1.7" fill="#f2a324"/>
<circle cx="1289.7" cy="379.1" r="1.7" fill="#f2a324"/>
<polyline points="1026.28,647.3 1034.34,554.77 1047.78,506.5 1061.22,471.36 1074.66,460.1 1088.1,448.83 1101.54,438.37 1114.98,420.13 1128.42,423.62 1141.86,417.18 1155.3,403.24 1168.74,397.07 1182.18,388.76 1195.62,439.44 1209.06,393.05 1222.5,397.61 1235.94,385 1249.38,386.61 1262.82,445.88 1276.26,379.1 1289.7,387.68" fill="none" stroke="#2b8be0" stroke-width="1.75" stroke-linejoin="round"/>
<circle cx="1026.28" cy="647.3" r="1.7" fill="#2b8be0"/>
<circle cx="1034.34" cy="554.77" r="1.7" fill="#2b8be0"/>
<circle cx="1047.78" cy="506.5" r="1.7" fill="#2b8be0"/>
<circle cx="1061.22" cy="471.36" r="1.7" fill="#2b8be0"/>
<circle cx="1074.66" cy="460.1" r="1.7" fill="#2b8be0"/>
<circle cx="1088.1" cy="448.83" r="1.7" fill="#2b8be0"/>
<circle cx="1101.54" cy="438.37" r="1.7" fill="#2b8be0"/>
<circle cx="1114.98" cy="420.13" r="1.7" fill="#2b8be0"/>
<circle cx="1128.42" cy="423.62" r="1.7" fill="#2b8be0"/>
<circle cx="1141.86" cy="417.18" r="1.7" fill="#2b8be0"/>
<circle cx="1155.3" cy="403.24" r="1.7" fill="#2b8be0"/>
<circle cx="1168.74" cy="397.07" r="1.7" fill="#2b8be0"/>
<circle cx="1182.18" cy="388.76" r="1.7" fill="#2b8be0"/>
<circle cx="1195.62" cy="439.44" r="1.7" fill="#2b8be0"/>
<circle cx="1209.06" cy="393.05" r="1.7" fill="#2b8be0"/>
<circle cx="1222.5" cy="397.61" r="1.7" fill="#2b8be0"/>
<circle cx="1235.94" cy="385" r="1.7" fill="#2b8be0"/>
<circle cx="1249.38" cy="386.61" r="1.7" fill="#2b8be0"/>
<circle cx="1262.82" cy="445.88" r="1.7" fill="#2b8be0"/>
<circle cx="1276.26" cy="379.1" r="1.7" fill="#2b8be0"/>
<circle cx="1289.7" cy="387.68" r="1.7" fill="#2b8be0"/>
<polyline points="1026.28,647.3 1034.34,647.3 1047.78,488.53 1061.22,383.12 1074.66,479.14 1088.1,470.02 1101.54,401.09 1114.98,410.21 1128.42,424.96 1141.86,456.88 1155.3,427.64 1168.74,389.02 1182.18,424.69 1195.62,479.41 1209.06,468.41 1222.5,417.18 1235.94,391.17 1249.38,387.15 1262.82,395.73 1276.26,378.03 1289.7,438.91" fill="none" stroke="#2a8532" stroke-width="1.75" stroke-linejoin="round"/>
<circle cx="1026.28" cy="647.3" r="1.7" fill="#2a8532"/>
<circle cx="1034.34" cy="647.3" r="1.7" fill="#2a8532"/>
<circle cx="1047.78" cy="488.53" r="1.7" fill="#2a8532"/>
<circle cx="1061.22" cy="383.12" r="1.7" fill="#2a8532"/>
<circle cx="1074.66" cy="479.14" r="1.7" fill="#2a8532"/>
<circle cx="1088.1" cy="470.02" r="1.7" fill="#2a8532"/>
<circle cx="1101.54" cy="401.09" r="1.7" fill="#2a8532"/>
<circle cx="1114.98" cy="410.21" r="1.7" fill="#2a8532"/>
<circle cx="1128.42" cy="424.96" r="1.7" fill="#2a8532"/>
<circle cx="1141.86" cy="456.88" r="1.7" fill="#2a8532"/>
<circle cx="1155.3" cy="427.64" r="1.7" fill="#2a8532"/>
<circle cx="1168.74" cy="389.02" r="1.7" fill="#2a8532"/>
<circle cx="1182.18" cy="424.69" r="1.7" fill="#2a8532"/>
<circle cx="1195.62" cy="479.41" r="1.7" fill="#2a8532"/>
<circle cx="1209.06" cy="468.41" r="1.7" fill="#2a8532"/>
<circle cx="1222.5" cy="417.18" r="1.7" fill="#2a8532"/>
<circle cx="1235.94" cy="391.17" r="1.7" fill="#2a8532"/>
<circle cx="1249.38" cy="387.15" r="1.7" fill="#2a8532"/>
<circle cx="1262.82" cy="395.73" r="1.7" fill="#2a8532"/>
<circle cx="1276.26" cy="378.03" r="1.7" fill="#2a8532"/>
<circle cx="1289.7" cy="438.91" r="1.7" fill="#2a8532"/>
<polyline points="1026.28,647.3 1034.34,379.1 1047.78,516.95 1061.22,379.1 1074.66,394.66 1088.1,410.48 1101.54,426.57 1114.98,442.66 1128.42,476.46 1141.86,474.85 1155.3,490.4 1168.74,506.5 1182.18,522.32 1195.62,538.41 1209.06,553.7 1222.5,569.52 1235.94,585.35 1249.38,600.9 1262.82,616.46 1276.26,638.45 1289.7,647.3" fill="none" stroke="#e2373f" stroke-width="1.75" stroke-linejoin="round"/>
<circle cx="1026.28" cy="647.3" r="1.7" fill="#e2373f"/>
<circle cx="1034.34" cy="379.1" r="1.7" fill="#e2373f"/>
<circle cx="1047.78" cy="516.95" r="1.7" fill="#e2373f"/>
<circle cx="1061.22" cy="379.1" r="1.7" fill="#e2373f"/>
<circle cx="1074.66" cy="394.66" r="1.7" fill="#e2373f"/>
<circle cx="1088.1" cy="410.48" r="1.7" fill="#e2373f"/>
<circle cx="1101.54" cy="426.57" r="1.7" fill="#e2373f"/>
<circle cx="1114.98" cy="442.66" r="1.7" fill="#e2373f"/>
<circle cx="1128.42" cy="476.46" r="1.7" fill="#e2373f"/>
<circle cx="1141.86" cy="474.85" r="1.7" fill="#e2373f"/>
<circle cx="1155.3" cy="490.4" r="1.7" fill="#e2373f"/>
<circle cx="1168.74" cy="506.5" r="1.7" fill="#e2373f"/>
<circle cx="1182.18" cy="522.32" r="1.7" fill="#e2373f"/>
<circle cx="1195.62" cy="538.41" r="1.7" fill="#e2373f"/>
<circle cx="1209.06" cy="553.7" r="1.7" fill="#e2373f"/>
<circle cx="1222.5" cy="569.52" r="1.7" fill="#e2373f"/>
<circle cx="1235.94" cy="585.35" r="1.7" fill="#e2373f"/>
<circle cx="1249.38" cy="600.9" r="1.7" fill="#e2373f"/>
<circle cx="1262.82" cy="616.46" r="1.7" fill="#e2373f"/>
<circle cx="1276.26" cy="638.45" r="1.7" fill="#e2373f"/>
<circle cx="1289.7" cy="647.3" r="1.7" fill="#e2373f"/>
<line x1="1061.22" y1="367.1" x2="1061.22" y2="660.2" stroke="#dd2a35" stroke-width="2.1" stroke-dasharray="8 5.9"/>
<rect x="1013.1" y="366.1" width="289.7" height="294.1" fill="none" stroke="#4d4d4d" stroke-width="1.3"/>
<line x1="1020.9" y1="660.2" x2="1020.9" y2="662.4" stroke="#333" stroke-width="1.1"/>
<line x1="1088.1" y1="660.2" x2="1088.1" y2="662.4" stroke="#333" stroke-width="1.1"/>
<line x1="1155.3" y1="660.2" x2="1155.3" y2="662.4" stroke="#333" stroke-width="1.1"/>
<line x1="1222.5" y1="660.2" x2="1222.5" y2="662.4" stroke="#333" stroke-width="1.1"/>
<line x1="1289.7" y1="660.2" x2="1289.7" y2="662.4" stroke="#333" stroke-width="1.1"/>
<line x1="1010.9" y1="647.3" x2="1013.1" y2="647.3" stroke="#333" stroke-width="1.1"/>
<line x1="1010.9" y1="580.25" x2="1013.1" y2="580.25" stroke="#333" stroke-width="1.1"/>
<line x1="1010.9" y1="513.2" x2="1013.1" y2="513.2" stroke="#333" stroke-width="1.1"/>
<line x1="1010.9" y1="446.15" x2="1013.1" y2="446.15" stroke="#333" stroke-width="1.1"/>
<line x1="1010.9" y1="379.1" x2="1013.1" y2="379.1" stroke="#333" stroke-width="1.1"/>
<text x="1158" y="357.5" font-size="22.2" text-anchor="middle">Mallet (pycisTopic)</text>
<text x="1023.4" y="684" font-size="21.5" text-anchor="middle">0</text>
<text x="1090.6" y="684" font-size="21.5" text-anchor="middle">25</text>
<text x="1157.8" y="684" font-size="21.5" text-anchor="middle">50</text>
<text x="1225" y="684" font-size="21.5" text-anchor="middle">75</text>
<text x="1292.2" y="684" font-size="21.5" text-anchor="middle">100</text>
<text x="1154" y="707" font-size="22.2" text-anchor="middle">Topic</text>
</g>
<g id="panel_c">
<text x="1357.5" y="35" font-size="29.5" font-weight="bold" style="stroke:none">c</text>
<rect x="1425.5" y="38.3" width="280.1" height="291" fill="#fff" stroke="#474747" stroke-width="1.2"/>
<rect x="1738.5" y="37.9" width="281.3" height="290.5" fill="#fff" stroke="#474747" stroke-width="1.2"/>
<rect x="1425.5" y="368.5" width="282.3" height="291.7" fill="#fff" stroke="#474747" stroke-width="1.2"/>
<rect x="1740" y="368.5" width="280.8" height="288.8" fill="#fff" stroke="#2a2a2a" stroke-width="1.3"/>
<text x="1557.5" y="25.6" font-size="22.1" text-anchor="middle">CGS (cisTopic)</text>
<text x="1869" y="25.6" font-size="22.1" text-anchor="middle">WarpLDA (cisTopic)</text>
<text x="1555.5" y="357.6" font-size="22.1" text-anchor="middle">CGS (pycisTopic)</text>
<text x="1883" y="357.6" font-size="22.1" text-anchor="middle">Mallet (pycisTopic)</text>
<circle cx="1618.1" cy="81.2" r="1.9" fill="#b4cfe6"/>
<circle cx="1620.1" cy="79.2" r="2.3" fill="#b4cfe6"/>
<circle cx="1622.1" cy="77.2" r="1.9" fill="#b4cfe6"/>
<circle cx="1622.7" cy="78.6" r="1.4" fill="#b4cfe6"/>
<circle cx="1678.1" cy="52.6" r="1.7" fill="#5c9fd2"/>
<circle cx="1680.8" cy="53.8" r="1.9" fill="#5c9fd2"/>
<circle cx="1684" cy="54.6" r="1.8" fill="#5c9fd2"/>
<circle cx="1687" cy="55" r="1.4" fill="#5c9fd2"/>
<circle cx="1687.4" cy="127.1" r="1.9" fill="#1f5fa6"/>
<circle cx="1689.4" cy="125.1" r="2.3" fill="#1f5fa6"/>
<circle cx="1691.4" cy="123.1" r="1.9" fill="#1f5fa6"/>
<circle cx="1692" cy="124.5" r="1.4" fill="#1f5fa6"/>
<circle cx="1477.8" cy="282.3" r="3" fill="#cf2329"/>
<circle cx="1476" cy="283.3" r="2" fill="#cf2329"/>
<circle cx="1479.7" cy="281.5" r="2" fill="#cf2329"/>
<circle cx="1478.4" cy="284.1" r="1.8" fill="#cf2329"/>
<circle cx="1439.5" cy="313.6" r="1.8" fill="#f59a78"/>
<circle cx="1442.1" cy="311.8" r="1.7" fill="#f59a78"/>
<circle cx="1444.7" cy="314" r="1.8" fill="#f59a78"/>
<circle cx="1442.5" cy="315.7" r="1.7" fill="#f59a78"/>
<circle cx="1979" cy="54.3" r="3" fill="#1f5fa6"/>
<circle cx="1977.2" cy="55.3" r="2" fill="#1f5fa6"/>
<circle cx="1980.9" cy="53.5" r="2" fill="#1f5fa6"/>
<circle cx="1979.6" cy="56.1" r="1.8" fill="#1f5fa6"/>
<circle cx="1898" cy="121" r="3" fill="#5c9fd2"/>
<circle cx="1896.2" cy="122" r="2" fill="#5c9fd2"/>
<circle cx="1899.9" cy="120.2" r="2" fill="#5c9fd2"/>
<circle cx="1898.6" cy="122.8" r="1.8" fill="#5c9fd2"/>
<circle cx="2000.4" cy="146.8" r="1.8" fill="#b4cfe6"/>
<circle cx="2003" cy="145" r="1.7" fill="#b4cfe6"/>
<circle cx="2005.6" cy="147.2" r="1.8" fill="#b4cfe6"/>
<circle cx="2003.4" cy="148.9" r="1.7" fill="#b4cfe6"/>
<circle cx="1769.8" cy="244.7" r="1.9" fill="#cf2329"/>
<circle cx="1771.8" cy="242.7" r="2.3" fill="#cf2329"/>
<circle cx="1773.8" cy="240.7" r="1.9" fill="#cf2329"/>
<circle cx="1774.4" cy="242.1" r="1.4" fill="#cf2329"/>
<circle cx="1753.4" cy="311.6" r="1.8" fill="#f59a78"/>
<circle cx="1756" cy="309.8" r="1.7" fill="#f59a78"/>
<circle cx="1758.6" cy="312" r="1.8" fill="#f59a78"/>
<circle cx="1756.4" cy="313.7" r="1.7" fill="#f59a78"/>
<circle cx="1686.3" cy="386.3" r="1.9" fill="#1f5fa6"/>
<circle cx="1688.3" cy="384.3" r="2.3" fill="#1f5fa6"/>
<circle cx="1690.3" cy="382.3" r="1.9" fill="#1f5fa6"/>
<circle cx="1690.9" cy="383.7" r="1.4" fill="#1f5fa6"/>
<circle cx="1635.9" cy="420.2" r="3" fill="#5c9fd2"/>
<circle cx="1634.1" cy="421.2" r="2" fill="#5c9fd2"/>
<circle cx="1637.8" cy="419.4" r="2" fill="#5c9fd2"/>
<circle cx="1636.5" cy="422" r="1.8" fill="#5c9fd2"/>
<circle cx="1689.4" cy="430" r="1.8" fill="#b4cfe6"/>
<circle cx="1692" cy="428.2" r="1.7" fill="#b4cfe6"/>
<circle cx="1694.6" cy="430.4" r="1.8" fill="#b4cfe6"/>
<circle cx="1692.4" cy="432.1" r="1.7" fill="#b4cfe6"/>
<circle cx="1469.6" cy="624" r="3" fill="#cf2329"/>
<circle cx="1467.8" cy="625" r="2" fill="#cf2329"/>
<circle cx="1471.5" cy="623.2" r="2" fill="#cf2329"/>
<circle cx="1470.2" cy="625.8" r="1.8" fill="#cf2329"/>
<circle cx="1438.4" cy="645.3" r="1.8" fill="#f59a78"/>
<circle cx="1441" cy="643.5" r="1.7" fill="#f59a78"/>
<circle cx="1443.6" cy="645.7" r="1.8" fill="#f59a78"/>
<circle cx="1441.4" cy="647.4" r="1.7" fill="#f59a78"/>
<circle cx="2003.9" cy="385.9" r="1.9" fill="#1f5fa6"/>
<circle cx="2005.9" cy="383.9" r="2.3" fill="#1f5fa6"/>
<circle cx="2007.9" cy="381.9" r="1.9" fill="#1f5fa6"/>
<circle cx="2008.5" cy="383.3" r="1.4" fill="#1f5fa6"/>
<circle cx="1926.2" cy="415" r="1.8" fill="#b4cfe6"/>
<circle cx="1928.8" cy="413.2" r="1.7" fill="#b4cfe6"/>
<circle cx="1931.4" cy="415.4" r="1.8" fill="#b4cfe6"/>
<circle cx="1929.2" cy="417.1" r="1.7" fill="#b4cfe6"/>
<circle cx="1966.2" cy="451.3" r="3" fill="#5c9fd2"/>
<circle cx="1964.4" cy="452.3" r="2" fill="#5c9fd2"/>
<circle cx="1968.1" cy="450.5" r="2" fill="#5c9fd2"/>
<circle cx="1966.8" cy="453.1" r="1.8" fill="#5c9fd2"/>
<circle cx="1774.5" cy="607.5" r="3" fill="#cf2329"/>
<circle cx="1772.7" cy="608.5" r="2" fill="#cf2329"/>
<circle cx="1776.4" cy="606.7" r="2" fill="#cf2329"/>
<circle cx="1775.1" cy="609.3" r="1.8" fill="#cf2329"/>
<circle cx="1752.4" cy="642" r="1.8" fill="#f59a78"/>
<circle cx="1755" cy="640.2" r="1.7" fill="#f59a78"/>
<circle cx="1757.6" cy="642.4" r="1.8" fill="#f59a78"/>
<circle cx="1755.4" cy="644.1" r="1.7" fill="#f59a78"/>
<text transform="translate(1405.2 658.5) rotate(-90)" font-size="25.1">TSNE1</text>
<text x="1417.5" y="690" font-size="25.1">TSNE2</text>
</g>
<g id="panel_d">
<text x="6" y="762.2" font-size="29.5" font-weight="bold" style="stroke:none">d</text>
<path fill="#fc9272" d="M100.4 779.7h68.8v15.8h-68.8zM116.2 779.7h2.8v15.8h-2.8z"/>
<path fill="#f88e6e" d="M124.1 779.7h2.8v15.8h-2.8zM147.9 779.7h2.8v15.8h-2.8z"/>
<path fill="#ff9676" d="M126.8 779.7h2.8v15.8h-2.8zM132 779.7h2.8v15.8h-2.8z"/>
<path fill="#f48a6a" d="M142.6 779.7h2.8v15.8h-2.8zM150.5 779.7h2.8v15.8h-2.8z"/>
<path fill="#de2d26" d="M168.9 779.7h68.8v15.8h-68.8z"/>
<path fill="#e2312a" d="M174.2 779.7h2.8v15.8h-2.8zM197.9 779.7h2.8v15.8h-2.8zM224.3 779.7h2.8v15.8h-2.8z"/>
<path fill="#da2922" d="M184.8 779.7h2.8v15.8h-2.8zM203.2 779.7h2.8v15.8h-2.8zM229.6 779.7h2.8v15.8h-2.8z"/>
<path fill="#d6251e" d="M187.4 779.7h2.8v15.8h-2.8zM213.8 779.7h2.8v15.8h-2.8zM221.7 779.7h2.8v15.8h-2.8zM232.2 779.7h2.8v15.8h-2.8z"/>
<path fill="#bdd7e7" d="M237.5 779.7h68.8v15.8h-68.8zM237.5 779.7h2.8v15.8h-2.8zM245.4 779.7h2.8v15.8h-2.8zM284.9 779.7h2.8v15.8h-2.8zM287.6 779.7h2.8v15.8h-2.8z"/>
<path fill="#c1dbeb" d="M242.8 779.7h2.8v15.8h-2.8zM258.6 779.7h2.8v15.8h-2.8zM269.1 779.7h2.8v15.8h-2.8z"/>
<path fill="#b9d3e3" d="M248 779.7h2.8v15.8h-2.8zM250.7 779.7h2.8v15.8h-2.8zM261.2 779.7h2.8v15.8h-2.8zM271.8 779.7h2.8v15.8h-2.8zM277 779.7h2.8v15.8h-2.8zM300.7 779.7h2.8v15.8h-2.8z"/>
<path fill="#b5cfdf" d="M279.7 779.7h2.8v15.8h-2.8z"/>
<path fill="#6baed6" d="M306 779.7h68.8v15.8h-68.8zM332.4 779.7h2.8v15.8h-2.8zM361.4 779.7h2.8v15.8h-2.8zM366.7 779.7h2.8v15.8h-2.8z"/>
<path fill="#67aad2" d="M308.7 779.7h2.8v15.8h-2.8zM340.3 779.7h2.8v15.8h-2.8zM345.6 779.7h2.8v15.8h-2.8zM364 779.7h2.8v15.8h-2.8zM369.3 779.7h2.8v15.8h-2.8z"/>
<path fill="#6fb2da" d="M316.6 779.7h2.8v15.8h-2.8zM335 779.7h2.8v15.8h-2.8zM356.1 779.7h2.8v15.8h-2.8z"/>
<path fill="#63a6ce" d="M327.1 779.7h2.8v15.8h-2.8zM358.7 779.7h2.8v15.8h-2.8z"/>
<path fill="#2171b5" d="M374.6 779.7h68.8v15.8h-68.8zM395.6 779.7h2.8v15.8h-2.8zM406.2 779.7h2.8v15.8h-2.8zM424.6 779.7h2.8v15.8h-2.8z"/>
<path fill="#1969ad" d="M385.1 779.7h2.8v15.8h-2.8z"/>
<path fill="#2575b9" d="M387.7 779.7h2.8v15.8h-2.8zM403.6 779.7h2.8v15.8h-2.8z"/>
<path fill="#fffaf2" d="M100.4 799.5h342.7v386.6h-342.7z"/>
<path fill="#fc565c" d="M100.4 799.5h5.5v26h-5.5zM116.2 799.5h2.8v26h-2.8z"/>
<path fill="#fc5a60" d="M105.7 799.5h5.5v26h-5.5zM184.8 799.5h2.8v26h-2.8zM190 799.5h5.5v26h-5.5zM224.3 799.5h2.8v26h-2.8z"/>
<path fill="#fc6d74" d="M110.9 799.5h5.5v26h-5.5zM142.6 799.5h5.5v26h-5.5zM153.1 799.5h5.5v26h-5.5zM161 799.5h8.1v26h-8.1z"/>
<path fill="#fb4a50" d="M118.9 799.5h2.8v26h-2.8zM213.8 799.5h2.8v26h-2.8zM234.8 799.5h2.8v26h-2.8z"/>
<path fill="#fc6168" d="M121.5 799.5h8.1v26h-8.1zM179.5 799.5h2.8v26h-2.8zM195.3 799.5h2.8v26h-2.8z"/>
<path fill="#fc5258" d="M129.4 799.5h8.1v26h-8.1zM168.9 799.5h5.5v26h-5.5zM182.1 799.5h2.8v26h-2.8zM187.4 799.5h2.8v26h-2.8zM226.9 799.5h2.8v26h-2.8z"/>
<path fill="#fc5e64" d="M137.3 799.5h5.5v26h-5.5zM205.8 799.5h8.1v26h-8.1zM232.2 799.5h2.8v26h-2.8z"/>
<path fill="#fd7178" d="M147.9 799.5h5.5v26h-5.5z"/>
<path fill="#fc6970" d="M158.4 799.5h2.8v26h-2.8z"/>
<path fill="#fc656c" d="M174.2 799.5h5.5v26h-5.5zM197.9 799.5h8.1v26h-8.1zM216.4 799.5h5.5v26h-5.5zM221.7 799.5h2.8v26h-2.8z"/>
<path fill="#fc4e54" d="M229.6 799.5h2.8v26h-2.8zM416.7 799.5h2.8v26h-2.8zM427.3 799.5h2.8v26h-2.8z"/>
<path fill="#fc383e" d="M237.5 799.5h5.5v26h-5.5zM406.2 799.5h2.8v26h-2.8z"/>
<path fill="#fc3237" d="M242.8 799.5h5.5v26h-5.5zM374.6 799.5h8.1v26h-8.1zM408.8 799.5h8.1v26h-8.1zM429.9 799.5h8.1v26h-8.1z"/>
<path fill="#fd282e" d="M248 799.5h2.8v26h-2.8zM313.9 799.5h5.5v26h-5.5z"/>
<path fill="#fc353b" d="M250.7 799.5h5.5v26h-5.5zM274.4 799.5h2.8v26h-2.8zM319.2 799.5h8.1v26h-8.1zM390.4 799.5h5.5v26h-5.5z"/>
<path fill="#fe252b" d="M255.9 799.5h2.8v26h-2.8zM282.3 799.5h2.8v26h-2.8z"/>
<path fill="#fe2227" d="M258.6 799.5h2.8v26h-2.8zM348.2 799.5h2.8v26h-2.8zM358.7 799.5h2.8v26h-2.8zM361.4 799.5h8.1v26h-8.1z"/>
<path fill="#fd2c31" d="M261.2 799.5h2.8v26h-2.8zM266.5 799.5h2.8v26h-2.8zM292.8 799.5h2.8v26h-2.8zM295.5 799.5h8.1v26h-8.1zM306 799.5h8.1v26h-8.1zM332.4 799.5h2.8v26h-2.8z"/>
<path fill="#fd2f34" d="M263.8 799.5h2.8v26h-2.8zM398.3 799.5h8.1v26h-8.1zM419.4 799.5h5.5v26h-5.5z"/>
<path fill="#fb464c" d="M269.1 799.5h5.5v26h-5.5zM277 799.5h2.8v26h-2.8zM382.5 799.5h2.8v26h-2.8zM440.5 799.5h2.8v26h-2.8z"/>
<path fill="#fb3b41" d="M279.7 799.5h2.8v26h-2.8zM385.1 799.5h5.5v26h-5.5z"/>
<path fill="#fb4248" d="M284.9 799.5h8.1v26h-8.1zM395.6 799.5h2.8v26h-2.8zM437.8 799.5h2.8v26h-2.8z"/>
<path fill="#fe1f24" d="M303.4 799.5h2.8v26h-2.8zM342.9 799.5h5.5v26h-5.5zM369.3 799.5h5.5v26h-5.5z"/>
<path fill="#ff1c21" d="M327.1 799.5h5.5v26h-5.5z"/>
<path fill="#ff1316" d="M335 799.5h2.8v26h-2.8z"/>
<path fill="#ff161a" d="M337.7 799.5h5.5v26h-5.5z"/>
<path fill="#ff0d0f" d="M350.8 799.5h8.1v26h-8.1z"/>
<path fill="#fb3e44" d="M424.6 799.5h2.8v26h-2.8z"/>
<path fill="#ffcfd5" d="M100.4 825.3h5.5v26h-5.5zM105.7 825.3h2.8v26h-2.8zM110.9 825.3h2.8v26h-2.8zM118.9 825.3h2.8v26h-2.8zM132 825.3h8.1v26h-8.1zM139.9 825.3h5.5v26h-5.5zM153.1 825.3h2.8v26h-2.8zM161 825.3h8.1v26h-8.1zM208.5 825.3h2.8v26h-2.8zM226.9 825.3h2.8v26h-2.8zM242.8 851h5.5v26h-5.5zM248 851h2.8v26h-2.8zM250.7 851h5.5v26h-5.5zM287.6 851h5.5v26h-5.5zM313.9 851h8.1v26h-8.1zM332.4 851h8.1v26h-8.1zM340.3 851h2.8v26h-2.8zM361.4 851h2.8v26h-2.8zM382.5 851h5.5v26h-5.5zM416.7 851h2.8v26h-2.8zM427.3 851h2.8v26h-2.8zM437.8 851h5.5v26h-5.5zM118.9 876.8h8.1v26h-8.1zM129.4 876.8h5.5v26h-5.5zM134.7 876.8h2.8v26h-2.8zM158.4 876.8h2.8v26h-2.8zM161 876.8h2.8v26h-2.8zM163.7 876.8h2.8v26h-2.8zM187.4 902.6h5.5v26h-5.5zM192.7 902.6h5.5v26h-5.5zM295.5 928.4h2.8v26h-2.8zM311.3 954.1h2.8v26h-2.8zM313.9 954.1h5.5v26h-5.5zM319.2 954.1h5.5v26h-5.5zM353.5 954.1h2.8v26h-2.8zM356.1 954.1h5.5v26h-5.5zM361.4 954.1h5.5v26h-5.5zM369.3 954.1h2.8v26h-2.8zM371.9 954.1h2.8v26h-2.8zM393 979.9h2.8v26h-2.8zM406.2 979.9h2.8v26h-2.8zM419.4 979.9h2.8v26h-2.8z"/>
<path fill="#ffd1d7" d="M108.3 825.3h2.8v26h-2.8zM155.8 825.3h5.5v26h-5.5zM168.9 825.3h2.8v26h-2.8zM176.8 825.3h8.1v26h-8.1zM211.1 825.3h2.8v26h-2.8zM213.8 825.3h2.8v26h-2.8zM216.4 825.3h5.5v26h-5.5zM232.2 825.3h5.5v26h-5.5zM237.5 851h5.5v26h-5.5zM255.9 851h2.8v26h-2.8zM269.1 851h2.8v26h-2.8zM271.8 851h8.1v26h-8.1zM279.7 851h8.1v26h-8.1zM300.7 851h5.5v26h-5.5zM327.1 851h5.5v26h-5.5zM348.2 851h2.8v26h-2.8zM364 851h2.8v26h-2.8zM374.6 851h2.8v26h-2.8zM126.8 876.8h2.8v26h-2.8zM137.3 876.8h5.5v26h-5.5zM153.1 876.8h5.5v26h-5.5zM166.3 876.8h2.8v26h-2.8zM200.6 902.6h2.8v26h-2.8zM216.4 902.6h8.1v26h-8.1zM229.6 902.6h5.5v26h-5.5zM237.5 928.4h2.8v26h-2.8zM253.3 928.4h8.1v26h-8.1zM269.1 928.4h2.8v26h-2.8zM308.7 954.1h2.8v26h-2.8zM340.3 954.1h2.8v26h-2.8zM342.9 954.1h2.8v26h-2.8zM366.7 954.1h2.8v26h-2.8zM377.2 979.9h8.1v26h-8.1zM395.6 979.9h8.1v26h-8.1zM422 979.9h5.5v26h-5.5z"/>
<path fill="#ffd4d8" d="M113.6 825.3h2.8v26h-2.8zM145.2 825.3h8.1v26h-8.1zM171.6 825.3h5.5v26h-5.5zM184.8 825.3h5.5v26h-5.5zM192.7 825.3h5.5v26h-5.5zM197.9 825.3h5.5v26h-5.5zM258.6 851h5.5v26h-5.5zM263.8 851h2.8v26h-2.8zM266.5 851h2.8v26h-2.8zM308.7 851h5.5v26h-5.5zM387.7 851h8.1v26h-8.1zM400.9 851h2.8v26h-2.8zM408.8 851h2.8v26h-2.8zM429.9 851h2.8v26h-2.8zM100.4 876.8h2.8v26h-2.8zM103 876.8h2.8v26h-2.8zM108.3 876.8h8.1v26h-8.1zM116.2 876.8h2.8v26h-2.8zM150.5 876.8h2.8v26h-2.8zM208.5 902.6h5.5v26h-5.5zM234.8 902.6h2.8v26h-2.8zM240.1 928.4h2.8v26h-2.8zM245.4 928.4h5.5v26h-5.5zM263.8 928.4h5.5v26h-5.5zM277 928.4h8.1v26h-8.1zM290.2 928.4h2.8v26h-2.8zM298.1 928.4h5.5v26h-5.5zM306 954.1h2.8v26h-2.8zM327.1 954.1h8.1v26h-8.1zM387.7 979.9h5.5v26h-5.5zM427.3 979.9h2.8v26h-2.8z"/>
<path fill="#ffccd2" d="M116.2 825.3h2.8v26h-2.8zM190 825.3h2.8v26h-2.8zM229.6 825.3h2.8v26h-2.8zM292.8 851h5.5v26h-5.5zM306 851h2.8v26h-2.8zM321.8 851h5.5v26h-5.5zM342.9 851h5.5v26h-5.5zM350.8 851h8.1v26h-8.1zM371.9 851h2.8v26h-2.8zM395.6 851h5.5v26h-5.5zM403.6 851h5.5v26h-5.5zM411.5 851h5.5v26h-5.5zM432.6 851h5.5v26h-5.5zM142.6 876.8h8.1v26h-8.1zM168.9 902.6h2.8v26h-2.8zM197.9 902.6h2.8v26h-2.8zM203.2 902.6h2.8v26h-2.8zM205.8 902.6h2.8v26h-2.8zM224.3 902.6h5.5v26h-5.5zM261.2 928.4h2.8v26h-2.8zM271.8 928.4h5.5v26h-5.5zM292.8 928.4h2.8v26h-2.8zM303.4 928.4h2.8v26h-2.8zM324.5 954.1h2.8v26h-2.8zM335 954.1h5.5v26h-5.5zM348.2 954.1h5.5v26h-5.5zM374.6 979.9h2.8v26h-2.8zM385.1 979.9h2.8v26h-2.8zM403.6 979.9h2.8v26h-2.8zM416.7 979.9h2.8v26h-2.8z"/>
<path fill="#ffc9d0" d="M121.5 825.3h5.5v26h-5.5zM126.8 825.3h5.5v26h-5.5zM298.1 851h2.8v26h-2.8zM358.7 851h2.8v26h-2.8zM366.7 851h2.8v26h-2.8zM369.3 851h2.8v26h-2.8zM377.2 851h5.5v26h-5.5zM419.4 851h8.1v26h-8.1zM105.7 876.8h2.8v26h-2.8zM171.6 902.6h8.1v26h-8.1zM179.5 902.6h8.1v26h-8.1zM213.8 902.6h2.8v26h-2.8zM242.8 928.4h2.8v26h-2.8zM250.7 928.4h2.8v26h-2.8zM284.9 928.4h5.5v26h-5.5zM345.6 954.1h2.8v26h-2.8zM408.8 979.9h8.1v26h-8.1zM429.9 979.9h2.8v26h-2.8zM432.6 979.9h8.1v26h-8.1zM440.5 979.9h2.8v26h-2.8z"/>
<path fill="#ffd6da" d="M203.2 825.3h5.5v26h-5.5zM221.7 825.3h5.5v26h-5.5z"/>
<path fill="#ffeae8" d="M374.6 1005.7h2.8v26h-2.8zM379.8 1005.7h5.5v26h-5.5zM387.7 1005.7h2.8v26h-2.8zM390.4 1005.7h2.8v26h-2.8zM393 1005.7h2.8v26h-2.8zM395.6 1005.7h5.5v26h-5.5zM400.9 1005.7h8.1v26h-8.1zM408.8 1005.7h5.5v26h-5.5zM414.1 1005.7h8.1v26h-8.1z"/>
<path fill="#ffece9" d="M377.2 1005.7h2.8v26h-2.8zM424.6 1005.7h8.1v26h-8.1zM432.6 1005.7h5.5v26h-5.5z"/>
<path fill="#ffe8e7" d="M385.1 1005.7h2.8v26h-2.8zM422 1005.7h2.8v26h-2.8zM437.8 1005.7h2.8v26h-2.8zM440.5 1005.7h2.8v26h-2.8z"/>
<text x="445.5" y="816.1" font-size="20.2">Topic3</text>
<text x="445.5" y="841.91" font-size="20.2">Topic5</text>
<text x="445.5" y="867.73" font-size="20.2">Topic12</text>
<text x="445.5" y="893.54" font-size="20.2">Topic1</text>
<text x="445.5" y="919.35" font-size="20.2">Topic2</text>
<text x="445.5" y="945.17" font-size="20.2">Topic8</text>
<text x="445.5" y="970.98" font-size="20.2">Topic6</text>
<text x="445.5" y="996.79" font-size="20.2">Topic10</text>
<text x="445.5" y="1022.61" font-size="20.2">Topic9</text>
<text x="445.5" y="1048.42" font-size="20.2">Topic4</text>
<text x="445.5" y="1074.23" font-size="20.2">Topic7</text>
<text x="445.5" y="1100.05" font-size="20.2">Topic11</text>
<text x="445.5" y="1125.86" font-size="20.2">Topic13</text>
<text x="445.5" y="1151.67" font-size="20.2">Topic14</text>
<text x="445.5" y="1177.49" font-size="20.2">Topic15</text>
<rect x="85.2" y="799.5" width="12.8" height="25.97" fill="#000000"/>
<rect x="85.2" y="825.27" width="12.8" height="25.97" fill="#ff0000"/>
<rect x="85.2" y="851.05" width="12.8" height="25.97" fill="#1e90ff"/>
<rect x="85.2" y="876.82" width="12.8" height="154.84" fill="#228b22"/>
<rect x="85.2" y="1031.46" width="12.8" height="154.84" fill="#bebebe"/>
<text x="279.9" y="761.2" font-size="25.1" text-anchor="middle">CGS (cisTopic)</text>
<path fill="#fc9272" d="M588.1 780.1h68.2v15.4h-68.2zM614.2 780.1h2.8v15.4h-2.8zM622.1 780.1h2.8v15.4h-2.8zM650.8 780.1h2.8v15.4h-2.8z"/>
<path fill="#f48a6a" d="M595.9 780.1h2.8v15.4h-2.8zM629.9 780.1h2.8v15.4h-2.8z"/>
<path fill="#f88e6e" d="M598.5 780.1h2.8v15.4h-2.8zM624.7 780.1h2.8v15.4h-2.8zM643 780.1h2.8v15.4h-2.8zM645.6 780.1h2.8v15.4h-2.8zM653.4 780.1h2.8v15.4h-2.8z"/>
<path fill="#ff9676" d="M616.8 780.1h2.8v15.4h-2.8zM619.4 780.1h2.8v15.4h-2.8zM637.7 780.1h2.8v15.4h-2.8z"/>
<path fill="#de2d26" d="M656 780.1h68.2v15.4h-68.2zM692.6 780.1h2.8v15.4h-2.8zM713.5 780.1h2.8v15.4h-2.8zM716.1 780.1h2.8v15.4h-2.8zM721.3 780.1h2.8v15.4h-2.8z"/>
<path fill="#d6251e" d="M669.1 780.1h2.8v15.4h-2.8z"/>
<path fill="#da2922" d="M682.1 780.1h2.8v15.4h-2.8zM690 780.1h2.8v15.4h-2.8zM708.3 780.1h2.8v15.4h-2.8zM718.7 780.1h2.8v15.4h-2.8z"/>
<path fill="#e2312a" d="M700.4 780.1h2.8v15.4h-2.8zM710.9 780.1h2.8v15.4h-2.8z"/>
<path fill="#bdd7e7" d="M723.9 780.1h68.2v15.4h-68.2zM723.9 780.1h2.8v15.4h-2.8zM781.4 780.1h2.8v15.4h-2.8z"/>
<path fill="#b9d3e3" d="M726.6 780.1h2.8v15.4h-2.8zM742.2 780.1h2.8v15.4h-2.8zM750.1 780.1h2.8v15.4h-2.8zM755.3 780.1h2.8v15.4h-2.8zM771 780.1h2.8v15.4h-2.8z"/>
<path fill="#c1dbeb" d="M739.6 780.1h2.8v15.4h-2.8zM789.2 780.1h2.8v15.4h-2.8z"/>
<path fill="#b5cfdf" d="M757.9 780.1h2.8v15.4h-2.8z"/>
<path fill="#6baed6" d="M791.9 780.1h68.2v15.4h-68.2zM812.8 780.1h2.8v15.4h-2.8zM823.2 780.1h2.8v15.4h-2.8z"/>
<path fill="#67aad2" d="M794.5 780.1h2.8v15.4h-2.8zM810.1 780.1h2.8v15.4h-2.8zM854.6 780.1h2.8v15.4h-2.8z"/>
<path fill="#6fb2da" d="M799.7 780.1h2.8v15.4h-2.8zM818 780.1h2.8v15.4h-2.8z"/>
<path fill="#2171b5" d="M859.8 780.1h68.2v15.4h-68.2zM862.4 780.1h2.8v15.4h-2.8zM896.4 780.1h2.8v15.4h-2.8zM906.8 780.1h2.8v15.4h-2.8zM912 780.1h2.8v15.4h-2.8z"/>
<path fill="#1969ad" d="M880.7 780.1h2.8v15.4h-2.8zM909.4 780.1h2.8v15.4h-2.8zM922.5 780.1h2.8v15.4h-2.8z"/>
<path fill="#1d6db1" d="M883.3 780.1h2.8v15.4h-2.8zM901.6 780.1h2.8v15.4h-2.8z"/>
<path fill="#fffaf2" d="M588.1 798.8h339.6v383.1h-339.6z"/>
<path fill="#ffe6e5" d="M588.1 798.8h5.4v25.7h-5.4zM593.3 798.8h2.8v25.7h-2.8zM606.4 798.8h2.8v25.7h-2.8zM611.6 798.8h2.8v25.7h-2.8zM622.1 798.8h5.4v25.7h-5.4zM627.3 798.8h5.4v25.7h-5.4zM640.3 798.8h5.4v25.7h-5.4zM650.8 798.8h5.4v25.7h-5.4zM656 901h2.8v25.7h-2.8zM669.1 901h5.4v25.7h-5.4zM687.4 901h5.4v25.7h-5.4zM695.2 901h2.8v25.7h-2.8zM700.4 901h2.8v25.7h-2.8zM703 901h2.8v25.7h-2.8z"/>
<path fill="#ffe8e7" d="M595.9 798.8h2.8v25.7h-2.8zM603.8 798.8h2.8v25.7h-2.8zM609 798.8h2.8v25.7h-2.8zM614.2 798.8h8v25.7h-8zM632.5 798.8h8v25.7h-8zM648.2 798.8h2.8v25.7h-2.8zM661.2 901h5.4v25.7h-5.4zM674.3 901h5.4v25.7h-5.4zM679.5 901h8v25.7h-8zM692.6 901h2.8v25.7h-2.8zM708.3 901h8v25.7h-8zM716.1 901h2.8v25.7h-2.8z"/>
<path fill="#ffeae8" d="M598.5 798.8h2.8v25.7h-2.8zM601.2 798.8h2.8v25.7h-2.8z"/>
<path fill="#ffe4e4" d="M645.6 798.8h2.8v25.7h-2.8zM705.7 901h2.8v25.7h-2.8zM718.7 901h5.4v25.7h-5.4zM731.8 1130.8h2.8v25.7h-2.8zM744.8 1130.8h5.4v25.7h-5.4zM757.9 1130.8h2.8v25.7h-2.8zM771 1130.8h5.4v25.7h-5.4zM778.8 1130.8h5.4v25.7h-5.4zM789.2 1130.8h2.8v25.7h-2.8z"/>
<path fill="#ffcfd5" d="M656 798.8h5.4v25.7h-5.4zM666.5 798.8h2.8v25.7h-2.8zM697.8 798.8h2.8v25.7h-2.8zM713.5 798.8h8v25.7h-8zM729.2 798.8h2.8v25.7h-2.8zM763.1 798.8h2.8v25.7h-2.8zM812.8 798.8h2.8v25.7h-2.8zM836.3 798.8h5.4v25.7h-5.4zM844.1 798.8h8v25.7h-8zM875.5 798.8h2.8v25.7h-2.8zM888.5 798.8h5.4v25.7h-5.4zM914.6 798.8h8v25.7h-8zM627.3 824.3h5.4v25.7h-5.4zM656 824.3h2.8v25.7h-2.8zM703 824.3h8v25.7h-8zM713.5 824.3h2.8v25.7h-2.8zM797.1 824.3h8v25.7h-8zM831 824.3h5.4v25.7h-5.4zM836.3 824.3h5.4v25.7h-5.4zM844.1 824.3h2.8v25.7h-2.8zM616.8 849.9h2.8v25.7h-2.8zM650.8 849.9h5.4v25.7h-5.4zM687.4 849.9h5.4v25.7h-5.4zM692.6 849.9h2.8v25.7h-2.8zM695.2 849.9h5.4v25.7h-5.4zM844.1 849.9h5.4v25.7h-5.4zM593.3 875.4h8v25.7h-8zM601.2 875.4h2.8v25.7h-2.8zM616.8 875.4h8v25.7h-8zM624.7 875.4h2.8v25.7h-2.8zM629.9 875.4h8v25.7h-8zM872.8 875.4h2.8v25.7h-2.8zM917.3 875.4h5.4v25.7h-5.4zM603.8 901h2.8v25.7h-2.8zM653.4 901h2.8v25.7h-2.8z"/>
<path fill="#ffccd2" d="M661.2 798.8h5.4v25.7h-5.4zM721.3 798.8h2.8v25.7h-2.8zM723.9 798.8h5.4v25.7h-5.4zM739.6 798.8h5.4v25.7h-5.4zM750.1 798.8h2.8v25.7h-2.8zM784 798.8h8v25.7h-8zM857.2 798.8h2.8v25.7h-2.8zM859.8 798.8h2.8v25.7h-2.8zM878.1 798.8h2.8v25.7h-2.8zM880.7 798.8h8v25.7h-8zM906.8 798.8h2.8v25.7h-2.8zM595.9 824.3h2.8v25.7h-2.8zM603.8 824.3h5.4v25.7h-5.4zM671.7 824.3h5.4v25.7h-5.4zM682.1 824.3h5.4v25.7h-5.4zM687.4 824.3h2.8v25.7h-2.8zM710.9 824.3h2.8v25.7h-2.8zM721.3 824.3h2.8v25.7h-2.8zM815.4 824.3h2.8v25.7h-2.8zM825.8 824.3h2.8v25.7h-2.8zM828.4 824.3h2.8v25.7h-2.8zM851.9 824.3h5.4v25.7h-5.4zM619.4 849.9h5.4v25.7h-5.4zM629.9 849.9h5.4v25.7h-5.4zM666.5 849.9h5.4v25.7h-5.4zM671.7 849.9h5.4v25.7h-5.4zM679.5 849.9h2.8v25.7h-2.8zM781.4 849.9h2.8v25.7h-2.8zM799.7 849.9h5.4v25.7h-5.4zM825.8 849.9h8v25.7h-8zM833.7 849.9h8v25.7h-8zM849.3 849.9h2.8v25.7h-2.8zM611.6 875.4h5.4v25.7h-5.4zM627.3 875.4h2.8v25.7h-2.8zM640.3 875.4h5.4v25.7h-5.4zM645.6 875.4h5.4v25.7h-5.4zM734.4 875.4h2.8v25.7h-2.8zM781.4 875.4h2.8v25.7h-2.8zM846.7 875.4h5.4v25.7h-5.4zM865 875.4h8v25.7h-8zM888.5 875.4h5.4v25.7h-5.4zM899 875.4h2.8v25.7h-2.8zM922.5 875.4h5.4v25.7h-5.4zM622.1 901h5.4v25.7h-5.4zM637.7 901h8v25.7h-8zM726.6 901h2.8v25.7h-2.8zM771 901h5.4v25.7h-5.4zM896.4 901h5.4v25.7h-5.4zM904.2 901h2.8v25.7h-2.8zM917.3 901h5.4v25.7h-5.4z"/>
<path fill="#ffd1d7" d="M669.1 798.8h8v25.7h-8zM690 798.8h8v25.7h-8zM710.9 798.8h2.8v25.7h-2.8zM810.1 798.8h2.8v25.7h-2.8zM893.7 798.8h5.4v25.7h-5.4zM901.6 798.8h2.8v25.7h-2.8zM622.1 824.3h5.4v25.7h-5.4zM643 824.3h2.8v25.7h-2.8zM648.2 824.3h5.4v25.7h-5.4zM804.9 824.3h5.4v25.7h-5.4zM812.8 824.3h2.8v25.7h-2.8zM818 824.3h8v25.7h-8zM875.5 824.3h8v25.7h-8zM888.5 824.3h2.8v25.7h-2.8zM606.4 849.9h2.8v25.7h-2.8zM611.6 849.9h5.4v25.7h-5.4zM624.7 849.9h5.4v25.7h-5.4zM640.3 849.9h8v25.7h-8zM656 849.9h5.4v25.7h-5.4zM682.1 849.9h2.8v25.7h-2.8zM705.7 849.9h5.4v25.7h-5.4zM588.1 875.4h2.8v25.7h-2.8zM590.7 875.4h2.8v25.7h-2.8zM896.4 875.4h2.8v25.7h-2.8zM593.3 901h5.4v25.7h-5.4zM598.5 901h2.8v25.7h-2.8zM606.4 901h2.8v25.7h-2.8z"/>
<path fill="#ffd4d8" d="M676.9 798.8h8v25.7h-8zM700.4 798.8h5.4v25.7h-5.4zM705.7 798.8h5.4v25.7h-5.4zM867.6 798.8h5.4v25.7h-5.4zM872.8 798.8h2.8v25.7h-2.8zM904.2 798.8h2.8v25.7h-2.8zM912 798.8h2.8v25.7h-2.8zM653.4 824.3h2.8v25.7h-2.8zM883.3 824.3h5.4v25.7h-5.4zM891.1 824.3h2.8v25.7h-2.8zM648.2 849.9h2.8v25.7h-2.8zM865 849.9h5.4v25.7h-5.4zM872.8 849.9h8v25.7h-8zM637.7 875.4h2.8v25.7h-2.8zM650.8 875.4h2.8v25.7h-2.8zM676.9 875.4h2.8v25.7h-2.8zM703 875.4h5.4v25.7h-5.4zM588.1 901h5.4v25.7h-5.4zM601.2 901h2.8v25.7h-2.8zM609 901h5.4v25.7h-5.4zM635.1 901h2.8v25.7h-2.8zM645.6 901h8v25.7h-8z"/>
<path fill="#ffc9d0" d="M684.8 798.8h5.4v25.7h-5.4zM744.8 798.8h5.4v25.7h-5.4zM752.7 798.8h5.4v25.7h-5.4zM807.5 798.8h2.8v25.7h-2.8zM841.5 798.8h2.8v25.7h-2.8zM851.9 798.8h5.4v25.7h-5.4zM862.4 798.8h5.4v25.7h-5.4zM899 798.8h2.8v25.7h-2.8zM909.4 798.8h2.8v25.7h-2.8zM922.5 798.8h5.4v25.7h-5.4zM588.1 824.3h8v25.7h-8zM609 824.3h5.4v25.7h-5.4zM614.2 824.3h5.4v25.7h-5.4zM619.4 824.3h2.8v25.7h-2.8zM669.1 824.3h2.8v25.7h-2.8zM676.9 824.3h5.4v25.7h-5.4zM690 824.3h2.8v25.7h-2.8zM716.1 824.3h5.4v25.7h-5.4zM810.1 824.3h2.8v25.7h-2.8zM841.5 824.3h2.8v25.7h-2.8zM846.7 824.3h5.4v25.7h-5.4zM857.2 824.3h2.8v25.7h-2.8zM590.7 849.9h2.8v25.7h-2.8zM601.2 849.9h5.4v25.7h-5.4zM609 849.9h2.8v25.7h-2.8zM635.1 849.9h5.4v25.7h-5.4zM684.8 849.9h2.8v25.7h-2.8zM710.9 849.9h8v25.7h-8zM718.7 849.9h2.8v25.7h-2.8zM723.9 849.9h2.8v25.7h-2.8zM731.8 849.9h2.8v25.7h-2.8zM734.4 849.9h2.8v25.7h-2.8zM765.7 849.9h5.4v25.7h-5.4zM797.1 849.9h2.8v25.7h-2.8zM823.2 849.9h2.8v25.7h-2.8zM851.9 849.9h2.8v25.7h-2.8zM854.6 849.9h2.8v25.7h-2.8zM603.8 875.4h5.4v25.7h-5.4zM609 875.4h2.8v25.7h-2.8zM653.4 875.4h2.8v25.7h-2.8zM726.6 875.4h5.4v25.7h-5.4zM750.1 875.4h2.8v25.7h-2.8zM765.7 875.4h5.4v25.7h-5.4zM771 875.4h2.8v25.7h-2.8zM778.8 875.4h2.8v25.7h-2.8zM804.9 875.4h8v25.7h-8zM828.4 875.4h2.8v25.7h-2.8zM844.1 875.4h2.8v25.7h-2.8zM875.5 875.4h2.8v25.7h-2.8zM901.6 875.4h5.4v25.7h-5.4zM614.2 901h8v25.7h-8zM627.3 901h8v25.7h-8zM729.2 901h8v25.7h-8zM781.4 901h2.8v25.7h-2.8zM883.3 901h2.8v25.7h-2.8zM922.5 901h2.8v25.7h-2.8zM925.1 901h2.8v25.7h-2.8zM870.2 1028.7h5.4v25.7h-5.4zM880.7 1028.7h2.8v25.7h-2.8zM904.2 1028.7h2.8v25.7h-2.8zM906.8 1028.7h2.8v25.7h-2.8z"/>
<path fill="#ffc6cd" d="M731.8 798.8h2.8v25.7h-2.8zM734.4 798.8h5.4v25.7h-5.4zM757.9 798.8h5.4v25.7h-5.4zM765.7 798.8h2.8v25.7h-2.8zM776.2 798.8h8v25.7h-8zM799.7 798.8h2.8v25.7h-2.8zM802.3 798.8h2.8v25.7h-2.8zM804.9 798.8h2.8v25.7h-2.8zM815.4 798.8h2.8v25.7h-2.8zM820.6 798.8h2.8v25.7h-2.8zM823.2 798.8h5.4v25.7h-5.4zM833.7 798.8h2.8v25.7h-2.8zM598.5 824.3h5.4v25.7h-5.4zM632.5 824.3h2.8v25.7h-2.8zM635.1 824.3h8v25.7h-8zM645.6 824.3h2.8v25.7h-2.8zM658.6 824.3h5.4v25.7h-5.4zM663.9 824.3h5.4v25.7h-5.4zM692.6 824.3h2.8v25.7h-2.8zM791.9 824.3h5.4v25.7h-5.4zM588.1 849.9h2.8v25.7h-2.8zM593.3 849.9h5.4v25.7h-5.4zM598.5 849.9h2.8v25.7h-2.8zM676.9 849.9h2.8v25.7h-2.8zM700.4 849.9h5.4v25.7h-5.4zM721.3 849.9h2.8v25.7h-2.8zM763.1 849.9h2.8v25.7h-2.8zM773.6 849.9h2.8v25.7h-2.8zM810.1 849.9h8v25.7h-8zM841.5 849.9h2.8v25.7h-2.8zM744.8 875.4h5.4v25.7h-5.4zM784 875.4h2.8v25.7h-2.8zM786.6 875.4h5.4v25.7h-5.4zM820.6 875.4h5.4v25.7h-5.4zM831 875.4h2.8v25.7h-2.8zM878.1 875.4h2.8v25.7h-2.8zM880.7 875.4h8v25.7h-8zM914.6 875.4h2.8v25.7h-2.8zM723.9 901h2.8v25.7h-2.8zM747.5 901h5.4v25.7h-5.4zM857.2 901h2.8v25.7h-2.8zM870.2 901h5.4v25.7h-5.4zM773.6 1003.1h5.4v25.7h-5.4zM888.5 1028.7h2.8v25.7h-2.8zM899 1028.7h2.8v25.7h-2.8zM901.6 1028.7h2.8v25.7h-2.8zM914.6 1028.7h8v25.7h-8z"/>
<path fill="#ffc3ca" d="M768.3 798.8h2.8v25.7h-2.8zM771 798.8h5.4v25.7h-5.4zM791.9 798.8h8v25.7h-8zM818 798.8h2.8v25.7h-2.8zM828.4 798.8h5.4v25.7h-5.4zM695.2 824.3h8v25.7h-8zM661.2 849.9h5.4v25.7h-5.4zM737 849.9h5.4v25.7h-5.4zM742.2 849.9h2.8v25.7h-2.8zM752.7 849.9h2.8v25.7h-2.8zM778.8 849.9h2.8v25.7h-2.8zM784 849.9h2.8v25.7h-2.8zM791.9 849.9h5.4v25.7h-5.4zM804.9 849.9h2.8v25.7h-2.8zM807.5 849.9h2.8v25.7h-2.8zM818 849.9h2.8v25.7h-2.8zM820.6 849.9h2.8v25.7h-2.8zM857.2 849.9h2.8v25.7h-2.8zM737 875.4h8v25.7h-8zM791.9 875.4h8v25.7h-8zM812.8 875.4h8v25.7h-8zM838.9 875.4h5.4v25.7h-5.4zM851.9 875.4h2.8v25.7h-2.8zM859.8 875.4h5.4v25.7h-5.4zM893.7 875.4h2.8v25.7h-2.8zM906.8 875.4h8v25.7h-8zM737 901h2.8v25.7h-2.8zM752.7 901h5.4v25.7h-5.4zM757.9 901h5.4v25.7h-5.4zM763.1 901h5.4v25.7h-5.4zM786.6 901h2.8v25.7h-2.8zM791.9 901h2.8v25.7h-2.8zM797.1 901h2.8v25.7h-2.8zM823.2 901h5.4v25.7h-5.4zM841.5 901h8v25.7h-8zM865 901h5.4v25.7h-5.4zM875.5 901h5.4v25.7h-5.4zM893.7 901h2.8v25.7h-2.8zM901.6 901h2.8v25.7h-2.8zM906.8 901h2.8v25.7h-2.8zM859.8 977.6h2.8v25.7h-2.8zM865 977.6h5.4v25.7h-5.4zM870.2 977.6h5.4v25.7h-5.4zM750.1 1003.1h2.8v25.7h-2.8zM763.1 1003.1h5.4v25.7h-5.4zM786.6 1003.1h2.8v25.7h-2.8zM859.8 1028.7h2.8v25.7h-2.8zM867.6 1028.7h2.8v25.7h-2.8zM891.1 1028.7h8v25.7h-8zM909.4 1028.7h2.8v25.7h-2.8zM912 1028.7h2.8v25.7h-2.8z"/>
<path fill="#ffece9" d="M723.9 824.3h2.8v25.7h-2.8zM734.4 824.3h2.8v25.7h-2.8zM737 824.3h2.8v25.7h-2.8zM744.8 824.3h2.8v25.7h-2.8zM747.5 824.3h2.8v25.7h-2.8zM755.3 824.3h2.8v25.7h-2.8zM760.5 824.3h2.8v25.7h-2.8z"/>
<path fill="#ffeeea" d="M726.6 824.3h5.4v25.7h-5.4zM731.8 824.3h2.8v25.7h-2.8zM739.6 824.3h5.4v25.7h-5.4zM750.1 824.3h5.4v25.7h-5.4zM757.9 824.3h2.8v25.7h-2.8zM763.1 824.3h8v25.7h-8zM771 824.3h5.4v25.7h-5.4zM781.4 824.3h8v25.7h-8zM789.2 824.3h2.8v25.7h-2.8z"/>
<path fill="#fff0ec" d="M776.2 824.3h5.4v25.7h-5.4zM656 1054.2h2.8v25.7h-2.8zM713.5 1054.2h2.8v25.7h-2.8zM794.5 1105.3h5.4v25.7h-5.4zM833.7 1105.3h8v25.7h-8zM854.6 1105.3h2.8v25.7h-2.8z"/>
<path fill="#ffd6da" d="M859.8 824.3h8v25.7h-8zM867.6 824.3h5.4v25.7h-5.4zM893.7 824.3h5.4v25.7h-5.4zM901.6 824.3h5.4v25.7h-5.4zM914.6 824.3h2.8v25.7h-2.8zM919.9 824.3h5.4v25.7h-5.4zM925.1 824.3h2.8v25.7h-2.8zM862.4 849.9h2.8v25.7h-2.8zM880.7 849.9h5.4v25.7h-5.4zM893.7 849.9h2.8v25.7h-2.8zM912 849.9h5.4v25.7h-5.4zM671.7 875.4h5.4v25.7h-5.4z"/>
<path fill="#ffd8dc" d="M872.8 824.3h2.8v25.7h-2.8zM899 824.3h2.8v25.7h-2.8zM906.8 824.3h2.8v25.7h-2.8zM909.4 824.3h5.4v25.7h-5.4zM917.3 824.3h2.8v25.7h-2.8zM859.8 849.9h2.8v25.7h-2.8zM870.2 849.9h2.8v25.7h-2.8zM919.9 849.9h8v25.7h-8zM656 875.4h5.4v25.7h-5.4zM661.2 875.4h8v25.7h-8zM679.5 875.4h5.4v25.7h-5.4zM684.8 875.4h2.8v25.7h-2.8zM695.2 875.4h2.8v25.7h-2.8z"/>
<path fill="#febcc4" d="M726.6 849.9h2.8v25.7h-2.8zM747.5 849.9h2.8v25.7h-2.8zM760.5 849.9h2.8v25.7h-2.8zM771 849.9h2.8v25.7h-2.8zM752.7 875.4h8v25.7h-8zM760.5 875.4h5.4v25.7h-5.4zM773.6 875.4h2.8v25.7h-2.8zM776.2 875.4h2.8v25.7h-2.8zM825.8 875.4h2.8v25.7h-2.8zM833.7 875.4h2.8v25.7h-2.8zM836.3 875.4h2.8v25.7h-2.8zM776.2 901h5.4v25.7h-5.4zM784 901h2.8v25.7h-2.8zM789.2 901h2.8v25.7h-2.8zM836.3 901h5.4v25.7h-5.4zM859.8 901h2.8v25.7h-2.8zM674.3 926.5h5.4v25.7h-5.4zM695.2 926.5h2.8v25.7h-2.8zM710.9 926.5h2.8v25.7h-2.8zM862.4 977.6h2.8v25.7h-2.8zM917.3 977.6h8v25.7h-8zM734.4 1003.1h2.8v25.7h-2.8zM778.8 1003.1h8v25.7h-8zM828.4 1028.7h2.8v25.7h-2.8zM925.1 1028.7h2.8v25.7h-2.8z"/>
<path fill="#feb9c2" d="M729.2 849.9h2.8v25.7h-2.8zM744.8 849.9h2.8v25.7h-2.8zM739.6 901h8v25.7h-8zM799.7 901h5.4v25.7h-5.4zM862.4 901h2.8v25.7h-2.8zM663.9 926.5h8v25.7h-8zM679.5 926.5h2.8v25.7h-2.8zM682.1 926.5h2.8v25.7h-2.8zM880.7 977.6h5.4v25.7h-5.4zM906.8 977.6h2.8v25.7h-2.8zM925.1 977.6h2.8v25.7h-2.8zM744.8 1003.1h5.4v25.7h-5.4zM760.5 1003.1h2.8v25.7h-2.8zM771 1003.1h2.8v25.7h-2.8zM836.3 1028.7h2.8v25.7h-2.8z"/>
<path fill="#ffc0c7" d="M750.1 849.9h2.8v25.7h-2.8zM755.3 849.9h5.4v25.7h-5.4zM776.2 849.9h2.8v25.7h-2.8zM786.6 849.9h5.4v25.7h-5.4zM723.9 875.4h2.8v25.7h-2.8zM731.8 875.4h2.8v25.7h-2.8zM799.7 875.4h5.4v25.7h-5.4zM854.6 875.4h5.4v25.7h-5.4zM768.3 901h2.8v25.7h-2.8zM804.9 901h8v25.7h-8zM815.4 901h8v25.7h-8zM880.7 901h2.8v25.7h-2.8zM885.9 901h8v25.7h-8zM909.4 901h5.4v25.7h-5.4zM914.6 901h2.8v25.7h-2.8zM891.1 977.6h5.4v25.7h-5.4zM723.9 1003.1h8v25.7h-8zM731.8 1003.1h2.8v25.7h-2.8zM737 1003.1h8v25.7h-8zM862.4 1028.7h5.4v25.7h-5.4zM875.5 1028.7h5.4v25.7h-5.4zM883.3 1028.7h5.4v25.7h-5.4zM922.5 1028.7h2.8v25.7h-2.8z"/>
<path fill="#ffdbdd" d="M885.9 849.9h8v25.7h-8zM896.4 849.9h8v25.7h-8zM904.2 849.9h8v25.7h-8zM669.1 875.4h2.8v25.7h-2.8zM687.4 875.4h8v25.7h-8zM697.8 875.4h5.4v25.7h-5.4zM721.3 875.4h2.8v25.7h-2.8z"/>
<path fill="#ffdddf" d="M917.3 849.9h2.8v25.7h-2.8zM708.3 875.4h8v25.7h-8zM716.1 875.4h5.4v25.7h-5.4z"/>
<path fill="#ffe1e2" d="M658.6 901h2.8v25.7h-2.8zM666.5 901h2.8v25.7h-2.8zM697.8 901h2.8v25.7h-2.8zM723.9 1130.8h8v25.7h-8zM734.4 1130.8h2.8v25.7h-2.8zM737 1130.8h8v25.7h-8zM765.7 1130.8h2.8v25.7h-2.8zM776.2 1130.8h2.8v25.7h-2.8z"/>
<path fill="#feb6bf" d="M794.5 901h2.8v25.7h-2.8zM812.8 901h2.8v25.7h-2.8zM828.4 901h8v25.7h-8zM849.3 901h5.4v25.7h-5.4zM854.6 901h2.8v25.7h-2.8zM656 926.5h8v25.7h-8zM684.8 926.5h5.4v25.7h-5.4zM708.3 926.5h2.8v25.7h-2.8zM718.7 926.5h5.4v25.7h-5.4zM885.9 977.6h2.8v25.7h-2.8zM888.5 977.6h2.8v25.7h-2.8zM896.4 977.6h5.4v25.7h-5.4zM901.6 977.6h5.4v25.7h-5.4zM768.3 1003.1h2.8v25.7h-2.8zM791.9 1028.7h8v25.7h-8zM818 1028.7h2.8v25.7h-2.8zM849.3 1028.7h2.8v25.7h-2.8z"/>
<path fill="#fc353b" d="M588.1 926.5h8v25.7h-8zM812.8 1130.8h5.4v25.7h-5.4zM838.9 1130.8h2.8v25.7h-2.8z"/>
<path fill="#fc5258" d="M595.9 926.5h5.4v25.7h-5.4z"/>
<path fill="#fc565c" d="M601.2 926.5h5.4v25.7h-5.4zM606.4 926.5h5.4v25.7h-5.4zM614.2 926.5h2.8v25.7h-2.8z"/>
<path fill="#fc5a60" d="M611.6 926.5h2.8v25.7h-2.8zM624.7 926.5h8v25.7h-8zM632.5 926.5h2.8v25.7h-2.8zM635.1 926.5h5.4v25.7h-5.4z"/>
<path fill="#fb4248" d="M616.8 926.5h5.4v25.7h-5.4zM854.6 1130.8h5.4v25.7h-5.4zM888.5 1156.4h2.8v25.7h-2.8zM922.5 1156.4h2.8v25.7h-2.8zM925.1 1156.4h2.8v25.7h-2.8z"/>
<path fill="#fb3b41" d="M622.1 926.5h2.8v25.7h-2.8zM799.7 1130.8h2.8v25.7h-2.8zM807.5 1130.8h5.4v25.7h-5.4zM896.4 1156.4h2.8v25.7h-2.8zM917.3 1156.4h5.4v25.7h-5.4z"/>
<path fill="#fc4e54" d="M640.3 926.5h5.4v25.7h-5.4zM645.6 926.5h5.4v25.7h-5.4z"/>
<path fill="#fb464c" d="M650.8 926.5h5.4v25.7h-5.4zM841.5 1130.8h2.8v25.7h-2.8zM865 1156.4h8v25.7h-8z"/>
<path fill="#feadb7" d="M671.7 926.5h2.8v25.7h-2.8zM690 926.5h5.4v25.7h-5.4zM697.8 926.5h5.4v25.7h-5.4zM726.6 1028.7h5.4v25.7h-5.4zM737 1028.7h2.8v25.7h-2.8zM789.2 1028.7h2.8v25.7h-2.8zM815.4 1028.7h2.8v25.7h-2.8zM838.9 1028.7h5.4v25.7h-5.4zM846.7 1028.7h2.8v25.7h-2.8z"/>
<path fill="#feaab4" d="M703 926.5h5.4v25.7h-5.4zM713.5 926.5h5.4v25.7h-5.4zM723.9 1028.7h2.8v25.7h-2.8zM768.3 1028.7h2.8v25.7h-2.8zM810.1 1028.7h5.4v25.7h-5.4zM825.8 1028.7h2.8v25.7h-2.8zM831 1028.7h5.4v25.7h-5.4zM851.9 1028.7h2.8v25.7h-2.8z"/>
<path fill="#fe97a0" d="M588.1 952h5.4v25.7h-5.4zM593.3 952h2.8v25.7h-2.8zM595.9 952h2.8v25.7h-2.8zM637.7 952h8v25.7h-8zM833.7 977.6h8v25.7h-8z"/>
<path fill="#fea6b0" d="M598.5 952h2.8v25.7h-2.8zM648.2 952h5.4v25.7h-5.4zM744.8 1028.7h8v25.7h-8zM752.7 1028.7h5.4v25.7h-5.4zM844.1 1028.7h2.8v25.7h-2.8z"/>
<path fill="#fe949c" d="M601.2 952h5.4v25.7h-5.4zM611.6 952h2.8v25.7h-2.8zM616.8 952h5.4v25.7h-5.4zM802.3 977.6h2.8v25.7h-2.8zM812.8 977.6h2.8v25.7h-2.8zM846.7 977.6h2.8v25.7h-2.8zM849.3 977.6h5.4v25.7h-5.4zM867.6 1003.1h2.8v25.7h-2.8zM870.2 1003.1h2.8v25.7h-2.8zM872.8 1003.1h5.4v25.7h-5.4zM885.9 1003.1h2.8v25.7h-2.8zM906.8 1003.1h8v25.7h-8zM917.3 1003.1h2.8v25.7h-2.8z"/>
<path fill="#fe9ba4" d="M606.4 952h5.4v25.7h-5.4zM825.8 977.6h5.4v25.7h-5.4zM854.6 977.6h5.4v25.7h-5.4zM888.5 1003.1h5.4v25.7h-5.4z"/>
<path fill="#fd8c94" d="M614.2 952h2.8v25.7h-2.8zM663.9 952h2.8v25.7h-2.8zM666.5 952h2.8v25.7h-2.8zM791.9 977.6h2.8v25.7h-2.8zM797.1 977.6h5.4v25.7h-5.4zM818 977.6h2.8v25.7h-2.8zM919.9 1003.1h5.4v25.7h-5.4z"/>
<path fill="#fd9098" d="M622.1 952h2.8v25.7h-2.8zM653.4 952h2.8v25.7h-2.8zM810.1 977.6h2.8v25.7h-2.8zM820.6 977.6h5.4v25.7h-5.4zM844.1 977.6h2.8v25.7h-2.8zM878.1 1003.1h2.8v25.7h-2.8zM893.7 1003.1h5.4v25.7h-5.4z"/>
<path fill="#fe9fa8" d="M624.7 952h2.8v25.7h-2.8zM632.5 952h5.4v25.7h-5.4zM804.9 977.6h5.4v25.7h-5.4zM831 977.6h2.8v25.7h-2.8z"/>
<path fill="#fea2ac" d="M627.3 952h5.4v25.7h-5.4zM645.6 952h2.8v25.7h-2.8zM815.4 977.6h2.8v25.7h-2.8zM739.6 1028.7h5.4v25.7h-5.4zM757.9 1028.7h5.4v25.7h-5.4zM771 1028.7h8v25.7h-8zM778.8 1028.7h2.8v25.7h-2.8zM781.4 1028.7h8v25.7h-8z"/>
<path fill="#fd757c" d="M656 952h8v25.7h-8zM669.1 952h2.8v25.7h-2.8zM679.5 952h2.8v25.7h-2.8zM705.7 952h8v25.7h-8z"/>
<path fill="#fd8188" d="M671.7 952h5.4v25.7h-5.4zM697.8 952h8v25.7h-8zM914.6 1003.1h2.8v25.7h-2.8z"/>
<path fill="#fd7178" d="M676.9 952h2.8v25.7h-2.8z"/>
<path fill="#fd848c" d="M682.1 952h2.8v25.7h-2.8zM718.7 952h2.8v25.7h-2.8z"/>
<path fill="#fd7d84" d="M684.8 952h5.4v25.7h-5.4z"/>
<path fill="#fd7980" d="M690 952h2.8v25.7h-2.8zM713.5 952h5.4v25.7h-5.4z"/>
<path fill="#fc6d74" d="M692.6 952h2.8v25.7h-2.8zM695.2 952h2.8v25.7h-2.8zM721.3 952h2.8v25.7h-2.8z"/>
<path fill="#fff8f1" d="M656 977.6h5.4v25.7h-5.4zM661.2 977.6h2.8v25.7h-2.8zM663.9 977.6h5.4v25.7h-5.4zM669.1 977.6h8v25.7h-8zM682.1 977.6h2.8v25.7h-2.8zM703 977.6h2.8v25.7h-2.8zM721.3 977.6h2.8v25.7h-2.8z"/>
<path fill="#fff6f0" d="M676.9 977.6h5.4v25.7h-5.4zM684.8 977.6h5.4v25.7h-5.4zM690 977.6h8v25.7h-8zM697.8 977.6h5.4v25.7h-5.4zM705.7 977.6h8v25.7h-8zM713.5 977.6h8v25.7h-8zM791.9 1003.1h8v25.7h-8zM799.7 1003.1h5.4v25.7h-5.4zM810.1 1003.1h5.4v25.7h-5.4zM815.4 1003.1h8v25.7h-8zM825.8 1003.1h5.4v25.7h-5.4zM836.3 1003.1h5.4v25.7h-5.4zM849.3 1003.1h2.8v25.7h-2.8z"/>
<path fill="#fff2ed" d="M723.9 977.6h5.4v25.7h-5.4zM765.7 977.6h5.4v25.7h-5.4zM661.2 1054.2h5.4v25.7h-5.4zM671.7 1054.2h5.4v25.7h-5.4zM676.9 1054.2h2.8v25.7h-2.8zM679.5 1054.2h2.8v25.7h-2.8zM684.8 1054.2h2.8v25.7h-2.8zM687.4 1054.2h8v25.7h-8zM695.2 1054.2h5.4v25.7h-5.4zM700.4 1054.2h2.8v25.7h-2.8zM703 1054.2h2.8v25.7h-2.8zM705.7 1054.2h2.8v25.7h-2.8zM708.3 1054.2h2.8v25.7h-2.8zM710.9 1054.2h2.8v25.7h-2.8zM716.1 1054.2h8v25.7h-8zM588.1 1079.7h2.8v25.7h-2.8zM595.9 1079.7h2.8v25.7h-2.8zM598.5 1079.7h5.4v25.7h-5.4zM603.8 1079.7h2.8v25.7h-2.8zM606.4 1079.7h5.4v25.7h-5.4zM624.7 1079.7h5.4v25.7h-5.4zM635.1 1079.7h5.4v25.7h-5.4zM799.7 1105.3h2.8v25.7h-2.8zM802.3 1105.3h8v25.7h-8zM810.1 1105.3h8v25.7h-8zM818 1105.3h2.8v25.7h-2.8zM820.6 1105.3h8v25.7h-8zM844.1 1105.3h2.8v25.7h-2.8zM857.2 1105.3h2.8v25.7h-2.8z"/>
<path fill="#fff4ee" d="M729.2 977.6h5.4v25.7h-5.4zM734.4 977.6h8v25.7h-8zM742.2 977.6h5.4v25.7h-5.4zM747.5 977.6h2.8v25.7h-2.8zM750.1 977.6h8v25.7h-8zM757.9 977.6h8v25.7h-8zM771 977.6h2.8v25.7h-2.8zM773.6 977.6h2.8v25.7h-2.8zM776.2 977.6h2.8v25.7h-2.8zM778.8 977.6h2.8v25.7h-2.8zM781.4 977.6h8v25.7h-8zM789.2 977.6h2.8v25.7h-2.8zM804.9 1003.1h5.4v25.7h-5.4zM823.2 1003.1h2.8v25.7h-2.8zM831 1003.1h5.4v25.7h-5.4zM841.5 1003.1h5.4v25.7h-5.4zM846.7 1003.1h2.8v25.7h-2.8zM851.9 1003.1h5.4v25.7h-5.4zM857.2 1003.1h2.8v25.7h-2.8zM658.6 1054.2h2.8v25.7h-2.8zM666.5 1054.2h5.4v25.7h-5.4zM682.1 1054.2h2.8v25.7h-2.8zM590.7 1079.7h5.4v25.7h-5.4zM611.6 1079.7h2.8v25.7h-2.8zM614.2 1079.7h5.4v25.7h-5.4zM619.4 1079.7h2.8v25.7h-2.8zM622.1 1079.7h2.8v25.7h-2.8zM629.9 1079.7h2.8v25.7h-2.8zM632.5 1079.7h2.8v25.7h-2.8zM640.3 1079.7h5.4v25.7h-5.4zM645.6 1079.7h2.8v25.7h-2.8zM648.2 1079.7h8v25.7h-8zM791.9 1105.3h2.8v25.7h-2.8zM828.4 1105.3h5.4v25.7h-5.4zM841.5 1105.3h2.8v25.7h-2.8zM846.7 1105.3h5.4v25.7h-5.4zM851.9 1105.3h2.8v25.7h-2.8z"/>
<path fill="#fd8890" d="M794.5 977.6h2.8v25.7h-2.8zM841.5 977.6h2.8v25.7h-2.8zM859.8 1003.1h5.4v25.7h-5.4zM865 1003.1h2.8v25.7h-2.8zM880.7 1003.1h5.4v25.7h-5.4zM899 1003.1h8v25.7h-8zM925.1 1003.1h2.8v25.7h-2.8z"/>
<path fill="#feb3bc" d="M875.5 977.6h5.4v25.7h-5.4zM909.4 977.6h5.4v25.7h-5.4zM914.6 977.6h2.8v25.7h-2.8zM752.7 1003.1h5.4v25.7h-5.4zM757.9 1003.1h2.8v25.7h-2.8zM789.2 1003.1h2.8v25.7h-2.8zM763.1 1028.7h5.4v25.7h-5.4zM799.7 1028.7h8v25.7h-8zM807.5 1028.7h2.8v25.7h-2.8zM854.6 1028.7h2.8v25.7h-2.8zM857.2 1028.7h2.8v25.7h-2.8z"/>
<path fill="#feb0ba" d="M731.8 1028.7h5.4v25.7h-5.4zM820.6 1028.7h5.4v25.7h-5.4z"/>
<path fill="#ff1013" d="M588.1 1054.2h2.8v25.7h-2.8zM648.2 1054.2h2.8v25.7h-2.8zM663.9 1079.7h5.4v25.7h-5.4zM716.1 1079.7h5.4v25.7h-5.4zM734.4 1105.3h2.8v25.7h-2.8zM744.8 1105.3h5.4v25.7h-5.4zM750.1 1105.3h2.8v25.7h-2.8z"/>
<path fill="#fd282e" d="M590.7 1054.2h2.8v25.7h-2.8zM601.2 1054.2h2.8v25.7h-2.8zM765.7 1105.3h5.4v25.7h-5.4zM846.7 1130.8h8v25.7h-8zM899 1156.4h2.8v25.7h-2.8z"/>
<path fill="#ff1316" d="M593.3 1054.2h8v25.7h-8zM616.8 1054.2h5.4v25.7h-5.4zM650.8 1054.2h2.8v25.7h-2.8zM679.5 1079.7h2.8v25.7h-2.8zM682.1 1079.7h2.8v25.7h-2.8zM789.2 1105.3h2.8v25.7h-2.8z"/>
<path fill="#fe252b" d="M603.8 1054.2h2.8v25.7h-2.8zM676.9 1079.7h2.8v25.7h-2.8zM690 1079.7h2.8v25.7h-2.8zM697.8 1079.7h5.4v25.7h-5.4zM731.8 1105.3h2.8v25.7h-2.8zM755.3 1105.3h2.8v25.7h-2.8zM844.1 1130.8h2.8v25.7h-2.8zM872.8 1156.4h5.4v25.7h-5.4z"/>
<path fill="#ff161a" d="M606.4 1054.2h5.4v25.7h-5.4zM653.4 1054.2h2.8v25.7h-2.8zM729.2 1105.3h2.8v25.7h-2.8zM739.6 1105.3h5.4v25.7h-5.4z"/>
<path fill="#ff1c21" d="M611.6 1054.2h5.4v25.7h-5.4zM640.3 1054.2h2.8v25.7h-2.8zM658.6 1079.7h2.8v25.7h-2.8zM737 1105.3h2.8v25.7h-2.8zM771 1105.3h2.8v25.7h-2.8zM786.6 1105.3h2.8v25.7h-2.8z"/>
<path fill="#ff0304" d="M622.1 1054.2h2.8v25.7h-2.8zM637.7 1054.2h2.8v25.7h-2.8zM708.3 1079.7h8v25.7h-8zM723.9 1105.3h2.8v25.7h-2.8zM752.7 1105.3h2.8v25.7h-2.8zM773.6 1105.3h2.8v25.7h-2.8z"/>
<path fill="#ff0000" d="M624.7 1054.2h5.4v25.7h-5.4zM632.5 1054.2h2.8v25.7h-2.8zM635.1 1054.2h2.8v25.7h-2.8zM661.2 1079.7h2.8v25.7h-2.8zM695.2 1079.7h2.8v25.7h-2.8zM703 1079.7h2.8v25.7h-2.8z"/>
<path fill="#fe1f24" d="M629.9 1054.2h2.8v25.7h-2.8zM891.1 1156.4h2.8v25.7h-2.8z"/>
<path fill="#fd2c31" d="M643 1054.2h5.4v25.7h-5.4zM757.9 1105.3h8v25.7h-8zM820.6 1130.8h5.4v25.7h-5.4zM893.7 1156.4h2.8v25.7h-2.8z"/>
<path fill="#ff0d0f" d="M656 1079.7h2.8v25.7h-2.8zM692.6 1079.7h2.8v25.7h-2.8zM705.7 1079.7h2.8v25.7h-2.8zM726.6 1105.3h2.8v25.7h-2.8zM776.2 1105.3h2.8v25.7h-2.8z"/>
<path fill="#ff0608" d="M669.1 1079.7h2.8v25.7h-2.8zM671.7 1079.7h5.4v25.7h-5.4z"/>
<path fill="#fe2227" d="M684.8 1079.7h5.4v25.7h-5.4zM791.9 1130.8h5.4v25.7h-5.4zM802.3 1130.8h5.4v25.7h-5.4zM828.4 1130.8h2.8v25.7h-2.8zM878.1 1156.4h5.4v25.7h-5.4z"/>
<path fill="#ff090b" d="M721.3 1079.7h2.8v25.7h-2.8z"/>
<path fill="#fd2f34" d="M778.8 1105.3h8v25.7h-8zM825.8 1130.8h2.8v25.7h-2.8z"/>
<path fill="#ffdfe0" d="M750.1 1130.8h5.4v25.7h-5.4zM755.3 1130.8h2.8v25.7h-2.8zM760.5 1130.8h5.4v25.7h-5.4zM768.3 1130.8h2.8v25.7h-2.8zM784 1130.8h5.4v25.7h-5.4z"/>
<path fill="#fc3237" d="M797.1 1130.8h2.8v25.7h-2.8zM831 1130.8h8v25.7h-8zM859.8 1156.4h5.4v25.7h-5.4zM912 1156.4h5.4v25.7h-5.4z"/>
<path fill="#fb3e44" d="M818 1130.8h2.8v25.7h-2.8zM906.8 1156.4h5.4v25.7h-5.4z"/>
<path fill="#fc383e" d="M883.3 1156.4h2.8v25.7h-2.8zM885.9 1156.4h2.8v25.7h-2.8zM901.6 1156.4h5.4v25.7h-5.4z"/>
<text x="930.3" y="815" font-size="20.5">Topic4</text>
<text x="930.3" y="840.68" font-size="20.5">Topic6</text>
<text x="930.3" y="866.36" font-size="20.5">Topic11</text>
<text x="930.3" y="892.04" font-size="20.5">Topic13</text>
<text x="930.3" y="917.72" font-size="20.5">Topic15</text>
<text x="930.3" y="943.4" font-size="20.5">Topic8</text>
<text x="930.3" y="969.08" font-size="20.5">Topic12</text>
<text x="930.3" y="994.76" font-size="20.5">Topic1</text>
<text x="930.3" y="1020.44" font-size="20.5">Topic2</text>
<text x="930.3" y="1046.12" font-size="20.5">Topic7</text>
<text x="930.3" y="1071.8" font-size="20.5">Topic10</text>
<text x="930.3" y="1097.48" font-size="20.5">Topic14</text>
<text x="930.3" y="1123.16" font-size="20.5">Topic5</text>
<text x="930.3" y="1148.84" font-size="20.5">Topic9</text>
<text x="930.3" y="1174.52" font-size="20.5">Topic3</text>
<rect x="573" y="798.8" width="12.6" height="127.9" fill="#000000"/>
<rect x="573" y="926.5" width="12.6" height="51.28" fill="#ff0000"/>
<rect x="573" y="977.58" width="12.6" height="76.82" fill="#1e90ff"/>
<rect x="573" y="1054.2" width="12.6" height="127.9" fill="#228b22"/>
<text x="774.9" y="761.2" font-size="25.1" text-anchor="middle">WarpLDA (cisTopic)</text>
<path fill="#fc9272" d="M99.7 1229.3h69.6v15.7h-69.6zM99.7 1229.3h2.9v15.7h-2.9zM115.7 1229.3h2.9v15.7h-2.9zM163.7 1229.3h2.9v15.7h-2.9z"/>
<path fill="#f88e6e" d="M107.7 1229.3h2.9v15.7h-2.9zM110.4 1229.3h2.9v15.7h-2.9zM118.4 1229.3h2.9v15.7h-2.9zM129 1229.3h2.9v15.7h-2.9z"/>
<path fill="#ff9676" d="M131.7 1229.3h2.9v15.7h-2.9zM150.4 1229.3h2.9v15.7h-2.9z"/>
<path fill="#f48a6a" d="M166.4 1229.3h2.9v15.7h-2.9z"/>
<path fill="#de2d26" d="M169 1229.3h69.6v15.7h-69.6zM185 1229.3h2.9v15.7h-2.9zM195.7 1229.3h2.9v15.7h-2.9zM211.7 1229.3h2.9v15.7h-2.9z"/>
<path fill="#da2922" d="M190.4 1229.3h2.9v15.7h-2.9zM206.4 1229.3h2.9v15.7h-2.9zM209 1229.3h2.9v15.7h-2.9zM233 1229.3h2.9v15.7h-2.9z"/>
<path fill="#d6251e" d="M201 1229.3h2.9v15.7h-2.9zM222.4 1229.3h2.9v15.7h-2.9z"/>
<path fill="#e2312a" d="M217 1229.3h2.9v15.7h-2.9z"/>
<path fill="#bdd7e7" d="M238.4 1229.3h69.6v15.7h-69.6zM257 1229.3h2.9v15.7h-2.9zM270.4 1229.3h2.9v15.7h-2.9zM275.7 1229.3h2.9v15.7h-2.9zM283.7 1229.3h2.9v15.7h-2.9zM294.4 1229.3h2.9v15.7h-2.9zM297.1 1229.3h2.9v15.7h-2.9z"/>
<path fill="#c1dbeb" d="M243.7 1229.3h2.9v15.7h-2.9zM246.4 1229.3h2.9v15.7h-2.9zM249 1229.3h2.9v15.7h-2.9zM265 1229.3h2.9v15.7h-2.9zM289.1 1229.3h2.9v15.7h-2.9zM299.7 1229.3h2.9v15.7h-2.9z"/>
<path fill="#b9d3e3" d="M267.7 1229.3h2.9v15.7h-2.9zM273.1 1229.3h2.9v15.7h-2.9zM291.7 1229.3h2.9v15.7h-2.9zM302.4 1229.3h2.9v15.7h-2.9z"/>
<path fill="#b5cfdf" d="M286.4 1229.3h2.9v15.7h-2.9z"/>
<path fill="#6baed6" d="M307.7 1229.3h69.6v15.7h-69.6zM329.1 1229.3h2.9v15.7h-2.9zM334.4 1229.3h2.9v15.7h-2.9zM355.7 1229.3h2.9v15.7h-2.9z"/>
<path fill="#63a6ce" d="M318.4 1229.3h2.9v15.7h-2.9zM342.4 1229.3h2.9v15.7h-2.9zM345.1 1229.3h2.9v15.7h-2.9zM374.4 1229.3h2.9v15.7h-2.9z"/>
<path fill="#67aad2" d="M337.1 1229.3h2.9v15.7h-2.9zM339.7 1229.3h2.9v15.7h-2.9zM361.1 1229.3h2.9v15.7h-2.9zM371.7 1229.3h2.9v15.7h-2.9z"/>
<path fill="#6fb2da" d="M353.1 1229.3h2.9v15.7h-2.9zM366.4 1229.3h2.9v15.7h-2.9zM369.1 1229.3h2.9v15.7h-2.9z"/>
<path fill="#2171b5" d="M377.1 1229.3h69.6v15.7h-69.6zM387.7 1229.3h2.9v15.7h-2.9zM403.7 1229.3h2.9v15.7h-2.9z"/>
<path fill="#1d6db1" d="M377.1 1229.3h2.9v15.7h-2.9zM406.4 1229.3h2.9v15.7h-2.9z"/>
<path fill="#2575b9" d="M390.4 1229.3h2.9v15.7h-2.9zM393.1 1229.3h2.9v15.7h-2.9zM401.1 1229.3h2.9v15.7h-2.9zM411.7 1229.3h2.9v15.7h-2.9z"/>
<path fill="#1969ad" d="M398.4 1229.3h2.9v15.7h-2.9zM438.4 1229.3h2.9v15.7h-2.9z"/>
<path fill="#fffaf2" d="M99.7 1248.5h346.7v388.1h-346.7z"/>
<path fill="#fc6168" d="M99.7 1248.5h5.5v26.1h-5.5zM155.7 1248.5h2.9v26.1h-2.9zM217 1248.5h2.9v26.1h-2.9z"/>
<path fill="#fb4a50" d="M105 1248.5h2.9v26.1h-2.9zM150.4 1248.5h2.9v26.1h-2.9zM435.7 1248.5h5.5v26.1h-5.5z"/>
<path fill="#fc656c" d="M107.7 1248.5h2.9v26.1h-2.9zM118.4 1248.5h8.2v26.1h-8.2zM171.7 1248.5h5.5v26.1h-5.5zM177 1248.5h2.9v26.1h-2.9z"/>
<path fill="#fc6d74" d="M110.4 1248.5h2.9v26.1h-2.9zM115.7 1248.5h2.9v26.1h-2.9zM153 1248.5h2.9v26.1h-2.9zM203.7 1248.5h2.9v26.1h-2.9z"/>
<path fill="#fc6970" d="M113 1248.5h2.9v26.1h-2.9zM163.7 1248.5h2.9v26.1h-2.9zM209 1248.5h5.5v26.1h-5.5z"/>
<path fill="#fb464c" d="M126.4 1248.5h2.9v26.1h-2.9zM137 1248.5h5.5v26.1h-5.5zM179.7 1248.5h2.9v26.1h-2.9zM273.1 1248.5h5.5v26.1h-5.5zM286.4 1248.5h5.5v26.1h-5.5zM302.4 1248.5h5.5v26.1h-5.5zM403.7 1248.5h5.5v26.1h-5.5z"/>
<path fill="#fc5e64" d="M129 1248.5h8.2v26.1h-8.2zM158.4 1248.5h5.5v26.1h-5.5zM166.4 1248.5h2.9v26.1h-2.9zM182.4 1248.5h2.9v26.1h-2.9zM185 1248.5h5.5v26.1h-5.5zM190.4 1248.5h2.9v26.1h-2.9zM193 1248.5h5.5v26.1h-5.5z"/>
<path fill="#fc5258" d="M142.4 1248.5h8.2v26.1h-8.2zM198.4 1248.5h5.5v26.1h-5.5zM233 1248.5h2.9v26.1h-2.9zM235.7 1248.5h2.9v26.1h-2.9zM377.1 1248.5h8.2v26.1h-8.2z"/>
<path fill="#fc5a60" d="M169 1248.5h2.9v26.1h-2.9zM206.4 1248.5h2.9v26.1h-2.9z"/>
<path fill="#fd7178" d="M214.4 1248.5h2.9v26.1h-2.9z"/>
<path fill="#fc565c" d="M219.7 1248.5h5.5v26.1h-5.5zM414.4 1248.5h8.2v26.1h-8.2z"/>
<path fill="#fc4e54" d="M225 1248.5h8.2v26.1h-8.2zM422.4 1248.5h2.9v26.1h-2.9zM430.4 1248.5h5.5v26.1h-5.5z"/>
<path fill="#fe1f24" d="M238.4 1248.5h2.9v26.1h-2.9zM259.7 1248.5h5.5v26.1h-5.5zM291.7 1248.5h8.2v26.1h-8.2zM355.7 1248.5h5.5v26.1h-5.5z"/>
<path fill="#fe252b" d="M241 1248.5h2.9v26.1h-2.9zM374.4 1248.5h2.9v26.1h-2.9z"/>
<path fill="#fb4248" d="M243.7 1248.5h8.2v26.1h-8.2zM251.7 1248.5h5.5v26.1h-5.5z"/>
<path fill="#fd282e" d="M257 1248.5h2.9v26.1h-2.9z"/>
<path fill="#fb3e44" d="M265 1248.5h2.9v26.1h-2.9zM387.7 1248.5h5.5v26.1h-5.5zM409.1 1248.5h5.5v26.1h-5.5zM425.1 1248.5h2.9v26.1h-2.9z"/>
<path fill="#fd2f34" d="M267.7 1248.5h2.9v26.1h-2.9zM334.4 1248.5h5.5v26.1h-5.5zM401.1 1248.5h2.9v26.1h-2.9z"/>
<path fill="#fc383e" d="M270.4 1248.5h2.9v26.1h-2.9zM443.7 1248.5h2.9v26.1h-2.9z"/>
<path fill="#fe2227" d="M278.4 1248.5h5.5v26.1h-5.5zM299.7 1248.5h2.9v26.1h-2.9zM353.1 1248.5h2.9v26.1h-2.9z"/>
<path fill="#fd2c31" d="M283.7 1248.5h2.9v26.1h-2.9zM318.4 1248.5h8.2v26.1h-8.2z"/>
<path fill="#ff0d0f" d="M307.7 1248.5h2.9v26.1h-2.9z"/>
<path fill="#ff1013" d="M310.4 1248.5h5.5v26.1h-5.5z"/>
<path fill="#ff161a" d="M315.7 1248.5h2.9v26.1h-2.9zM329.1 1248.5h2.9v26.1h-2.9z"/>
<path fill="#ff191e" d="M326.4 1248.5h2.9v26.1h-2.9zM339.7 1248.5h5.5v26.1h-5.5z"/>
<path fill="#ff1316" d="M331.7 1248.5h2.9v26.1h-2.9zM345.1 1248.5h5.5v26.1h-5.5zM350.4 1248.5h2.9v26.1h-2.9z"/>
<path fill="#ff1c21" d="M361.1 1248.5h5.5v26.1h-5.5zM369.1 1248.5h5.5v26.1h-5.5z"/>
<path fill="#ff090b" d="M366.4 1248.5h2.9v26.1h-2.9z"/>
<path fill="#fb3b41" d="M385.1 1248.5h2.9v26.1h-2.9zM441.1 1248.5h2.9v26.1h-2.9z"/>
<path fill="#fc3237" d="M393.1 1248.5h5.5v26.1h-5.5z"/>
<path fill="#fc353b" d="M398.4 1248.5h2.9v26.1h-2.9zM427.7 1248.5h2.9v26.1h-2.9z"/>
<path fill="#ffd4d8" d="M99.7 1274.4h8.2v26.1h-8.2zM123.7 1274.4h2.9v26.1h-2.9zM145 1274.4h5.5v26.1h-5.5zM161 1274.4h8.2v26.1h-8.2zM179.7 1274.4h2.9v26.1h-2.9zM209 1274.4h2.9v26.1h-2.9zM257 1300.2h8.2v26.1h-8.2zM265 1300.2h5.5v26.1h-5.5zM270.4 1300.2h2.9v26.1h-2.9zM273.1 1300.2h5.5v26.1h-5.5zM283.7 1300.2h2.9v26.1h-2.9zM350.4 1300.2h5.5v26.1h-5.5zM361.1 1300.2h8.2v26.1h-8.2zM369.1 1300.2h5.5v26.1h-5.5zM382.4 1300.2h5.5v26.1h-5.5zM395.7 1300.2h5.5v26.1h-5.5zM427.7 1300.2h2.9v26.1h-2.9zM430.4 1300.2h8.2v26.1h-8.2zM99.7 1326.1h5.5v26.1h-5.5zM105 1326.1h5.5v26.1h-5.5zM115.7 1326.1h5.5v26.1h-5.5zM126.4 1326.1h5.5v26.1h-5.5zM139.7 1326.1h8.2v26.1h-8.2zM147.7 1326.1h8.2v26.1h-8.2zM182.4 1352h2.9v26.1h-2.9zM195.7 1352h2.9v26.1h-2.9zM214.4 1352h2.9v26.1h-2.9zM217 1352h2.9v26.1h-2.9zM219.7 1352h5.5v26.1h-5.5zM251.7 1377.9h2.9v26.1h-2.9zM302.4 1377.9h2.9v26.1h-2.9zM345.1 1403.7h5.5v26.1h-5.5zM353.1 1403.7h5.5v26.1h-5.5zM363.7 1403.7h2.9v26.1h-2.9zM371.7 1403.7h2.9v26.1h-2.9zM374.4 1403.7h2.9v26.1h-2.9zM387.7 1429.6h5.5v26.1h-5.5zM414.4 1429.6h8.2v26.1h-8.2zM422.4 1429.6h2.9v26.1h-2.9z"/>
<path fill="#ffcfd5" d="M107.7 1274.4h2.9v26.1h-2.9zM126.4 1274.4h5.5v26.1h-5.5zM134.4 1274.4h8.2v26.1h-8.2zM153 1274.4h2.9v26.1h-2.9zM169 1274.4h8.2v26.1h-8.2zM182.4 1274.4h5.5v26.1h-5.5zM193 1274.4h2.9v26.1h-2.9zM211.7 1274.4h2.9v26.1h-2.9zM217 1274.4h5.5v26.1h-5.5zM222.4 1274.4h2.9v26.1h-2.9zM230.4 1274.4h2.9v26.1h-2.9zM249 1300.2h2.9v26.1h-2.9zM286.4 1300.2h2.9v26.1h-2.9zM289.1 1300.2h8.2v26.1h-8.2zM299.7 1300.2h5.5v26.1h-5.5zM305.1 1300.2h2.9v26.1h-2.9zM379.7 1300.2h2.9v26.1h-2.9zM390.4 1300.2h5.5v26.1h-5.5zM401.1 1300.2h2.9v26.1h-2.9zM409.1 1300.2h5.5v26.1h-5.5zM110.4 1326.1h5.5v26.1h-5.5zM121 1326.1h5.5v26.1h-5.5zM166.4 1326.1h2.9v26.1h-2.9zM177 1352h5.5v26.1h-5.5zM193 1352h2.9v26.1h-2.9zM211.7 1352h2.9v26.1h-2.9zM230.4 1352h2.9v26.1h-2.9zM254.4 1377.9h8.2v26.1h-8.2zM265 1377.9h2.9v26.1h-2.9zM299.7 1377.9h2.9v26.1h-2.9zM305.1 1377.9h2.9v26.1h-2.9zM326.4 1403.7h2.9v26.1h-2.9zM329.1 1403.7h5.5v26.1h-5.5zM334.4 1403.7h8.2v26.1h-8.2zM366.4 1403.7h2.9v26.1h-2.9z"/>
<path fill="#ffd1d7" d="M110.4 1274.4h8.2v26.1h-8.2zM150.4 1274.4h2.9v26.1h-2.9zM177 1274.4h2.9v26.1h-2.9zM225 1274.4h5.5v26.1h-5.5zM233 1274.4h2.9v26.1h-2.9zM278.4 1300.2h2.9v26.1h-2.9zM307.7 1300.2h5.5v26.1h-5.5zM329.1 1300.2h5.5v26.1h-5.5zM334.4 1300.2h5.5v26.1h-5.5zM374.4 1300.2h2.9v26.1h-2.9zM387.7 1300.2h2.9v26.1h-2.9zM403.7 1300.2h5.5v26.1h-5.5zM443.7 1300.2h2.9v26.1h-2.9zM174.4 1352h2.9v26.1h-2.9zM315.7 1403.7h2.9v26.1h-2.9zM350.4 1403.7h2.9v26.1h-2.9zM358.4 1403.7h5.5v26.1h-5.5z"/>
<path fill="#ffc9d0" d="M118.4 1274.4h2.9v26.1h-2.9zM238.4 1300.2h8.2v26.1h-8.2zM251.7 1300.2h5.5v26.1h-5.5zM326.4 1300.2h2.9v26.1h-2.9zM339.7 1300.2h2.9v26.1h-2.9zM377.1 1300.2h2.9v26.1h-2.9zM422.4 1300.2h5.5v26.1h-5.5zM161 1326.1h5.5v26.1h-5.5zM169 1352h5.5v26.1h-5.5zM185 1352h8.2v26.1h-8.2zM198.4 1352h5.5v26.1h-5.5zM203.7 1352h8.2v26.1h-8.2zM238.4 1377.9h8.2v26.1h-8.2zM262.4 1377.9h2.9v26.1h-2.9zM369.1 1403.7h2.9v26.1h-2.9z"/>
<path fill="#ffccd2" d="M121 1274.4h2.9v26.1h-2.9zM131.7 1274.4h2.9v26.1h-2.9zM142.4 1274.4h2.9v26.1h-2.9zM155.7 1274.4h5.5v26.1h-5.5zM187.7 1274.4h5.5v26.1h-5.5zM206.4 1274.4h2.9v26.1h-2.9zM246.4 1300.2h2.9v26.1h-2.9zM281.1 1300.2h2.9v26.1h-2.9zM297.1 1300.2h2.9v26.1h-2.9zM313.1 1300.2h2.9v26.1h-2.9zM315.7 1300.2h5.5v26.1h-5.5zM321.1 1300.2h5.5v26.1h-5.5zM342.4 1300.2h5.5v26.1h-5.5zM347.7 1300.2h2.9v26.1h-2.9zM355.7 1300.2h5.5v26.1h-5.5zM414.4 1300.2h8.2v26.1h-8.2zM438.4 1300.2h5.5v26.1h-5.5zM131.7 1326.1h8.2v26.1h-8.2zM155.7 1326.1h5.5v26.1h-5.5zM225 1352h5.5v26.1h-5.5zM233 1352h2.9v26.1h-2.9zM235.7 1352h2.9v26.1h-2.9zM246.4 1377.9h5.5v26.1h-5.5zM267.7 1377.9h8.2v26.1h-8.2zM275.7 1377.9h5.5v26.1h-5.5zM281.1 1377.9h5.5v26.1h-5.5zM286.4 1377.9h5.5v26.1h-5.5zM291.7 1377.9h5.5v26.1h-5.5zM297.1 1377.9h2.9v26.1h-2.9zM307.7 1403.7h8.2v26.1h-8.2zM318.4 1403.7h8.2v26.1h-8.2zM342.4 1403.7h2.9v26.1h-2.9z"/>
<path fill="#ffd6da" d="M195.7 1274.4h2.9v26.1h-2.9zM198.4 1274.4h8.2v26.1h-8.2zM214.4 1274.4h2.9v26.1h-2.9zM235.7 1274.4h2.9v26.1h-2.9zM377.1 1429.6h8.2v26.1h-8.2zM385.1 1429.6h2.9v26.1h-2.9zM425.1 1429.6h5.5v26.1h-5.5zM385.1 1455.5h8.2v26.1h-8.2zM393.1 1455.5h5.5v26.1h-5.5zM443.7 1455.5h2.9v26.1h-2.9z"/>
<path fill="#ffd8dc" d="M393.1 1429.6h5.5v26.1h-5.5zM398.4 1429.6h2.9v26.1h-2.9zM430.4 1429.6h2.9v26.1h-2.9zM441.1 1429.6h5.5v26.1h-5.5zM377.1 1455.5h8.2v26.1h-8.2zM403.7 1455.5h5.5v26.1h-5.5zM411.7 1455.5h2.9v26.1h-2.9zM414.4 1455.5h2.9v26.1h-2.9z"/>
<path fill="#ffdddf" d="M401.1 1429.6h8.2v26.1h-8.2zM409.1 1455.5h2.9v26.1h-2.9zM417.1 1455.5h8.2v26.1h-8.2zM425.1 1455.5h5.5v26.1h-5.5zM435.7 1455.5h8.2v26.1h-8.2z"/>
<path fill="#ffdbdd" d="M409.1 1429.6h5.5v26.1h-5.5zM433.1 1429.6h2.9v26.1h-2.9zM435.7 1429.6h5.5v26.1h-5.5zM398.4 1455.5h5.5v26.1h-5.5zM430.4 1455.5h5.5v26.1h-5.5z"/>
<text x="448.6" y="1265.3" font-size="20.7">Topic11</text>
<text x="448.6" y="1291.21" font-size="20.7">Topic14</text>
<text x="448.6" y="1317.13" font-size="20.7">Topic12</text>
<text x="448.6" y="1343.04" font-size="20.7">Topic3</text>
<text x="448.6" y="1368.95" font-size="20.7">Topic2</text>
<text x="448.6" y="1394.87" font-size="20.7">Topic6</text>
<text x="448.6" y="1420.78" font-size="20.7">Topic4</text>
<text x="448.6" y="1446.69" font-size="20.7">Topic1</text>
<text x="448.6" y="1472.61" font-size="20.7">Topic15</text>
<text x="448.6" y="1498.52" font-size="20.7">Topic5</text>
<text x="448.6" y="1524.43" font-size="20.7">Topic7</text>
<text x="448.6" y="1550.35" font-size="20.7">Topic8</text>
<text x="448.6" y="1576.26" font-size="20.7">Topic9</text>
<text x="448.6" y="1602.17" font-size="20.7">Topic10</text>
<text x="448.6" y="1628.09" font-size="20.7">Topic13</text>
<rect x="84.2" y="1248.5" width="12.8" height="26.07" fill="#000000"/>
<rect x="84.2" y="1274.37" width="12.8" height="26.07" fill="#ff0000"/>
<rect x="84.2" y="1300.25" width="12.8" height="26.07" fill="#1e90ff"/>
<rect x="84.2" y="1326.12" width="12.8" height="155.44" fill="#228b22"/>
<rect x="84.2" y="1481.36" width="12.8" height="155.44" fill="#bebebe"/>
<text x="275.9" y="1214.8" font-size="25.1" text-anchor="middle">CGS (pycisTopic)</text>
<path fill="#fc9272" d="M587.8 1229.5h68.3v15.5h-68.3zM587.8 1229.5h2.8v15.5h-2.8zM603.5 1229.5h2.8v15.5h-2.8zM621.8 1229.5h2.8v15.5h-2.8zM627 1229.5h2.8v15.5h-2.8zM653.2 1229.5h2.8v15.5h-2.8z"/>
<path fill="#f88e6e" d="M595.6 1229.5h2.8v15.5h-2.8zM608.7 1229.5h2.8v15.5h-2.8zM613.9 1229.5h2.8v15.5h-2.8zM629.6 1229.5h2.8v15.5h-2.8zM632.2 1229.5h2.8v15.5h-2.8z"/>
<path fill="#ff9676" d="M606.1 1229.5h2.8v15.5h-2.8z"/>
<path fill="#de2d26" d="M655.8 1229.5h68.3v15.5h-68.3zM666.2 1229.5h2.8v15.5h-2.8zM681.9 1229.5h2.8v15.5h-2.8zM684.5 1229.5h2.8v15.5h-2.8zM702.8 1229.5h2.8v15.5h-2.8zM718.5 1229.5h2.8v15.5h-2.8z"/>
<path fill="#d6251e" d="M658.4 1229.5h2.8v15.5h-2.8z"/>
<path fill="#e2312a" d="M668.9 1229.5h2.8v15.5h-2.8zM674.1 1229.5h2.8v15.5h-2.8zM679.3 1229.5h2.8v15.5h-2.8zM705.5 1229.5h2.8v15.5h-2.8z"/>
<path fill="#da2922" d="M676.7 1229.5h2.8v15.5h-2.8zM710.7 1229.5h2.8v15.5h-2.8z"/>
<path fill="#bdd7e7" d="M723.8 1229.5h68.3v15.5h-68.3zM726.4 1229.5h2.8v15.5h-2.8zM734.2 1229.5h2.8v15.5h-2.8zM773.4 1229.5h2.8v15.5h-2.8z"/>
<path fill="#b9d3e3" d="M731.6 1229.5h2.8v15.5h-2.8zM739.4 1229.5h2.8v15.5h-2.8zM742.1 1229.5h2.8v15.5h-2.8zM752.5 1229.5h2.8v15.5h-2.8zM755.1 1229.5h2.8v15.5h-2.8zM757.8 1229.5h2.8v15.5h-2.8zM763 1229.5h2.8v15.5h-2.8zM789.1 1229.5h2.8v15.5h-2.8z"/>
<path fill="#c1dbeb" d="M749.9 1229.5h2.8v15.5h-2.8zM770.8 1229.5h2.8v15.5h-2.8z"/>
<path fill="#6baed6" d="M791.7 1229.5h68.3v15.5h-68.3zM838.8 1229.5h2.8v15.5h-2.8zM841.4 1229.5h2.8v15.5h-2.8zM857.1 1229.5h2.8v15.5h-2.8z"/>
<path fill="#6fb2da" d="M799.6 1229.5h2.8v15.5h-2.8zM804.8 1229.5h2.8v15.5h-2.8zM825.7 1229.5h2.8v15.5h-2.8zM836.2 1229.5h2.8v15.5h-2.8zM846.6 1229.5h2.8v15.5h-2.8z"/>
<path fill="#67aad2" d="M810 1229.5h2.8v15.5h-2.8zM812.7 1229.5h2.8v15.5h-2.8zM817.9 1229.5h2.8v15.5h-2.8zM828.3 1229.5h2.8v15.5h-2.8zM833.6 1229.5h2.8v15.5h-2.8zM854.5 1229.5h2.8v15.5h-2.8z"/>
<path fill="#2171b5" d="M859.7 1229.5h68.3v15.5h-68.3zM864.9 1229.5h2.8v15.5h-2.8zM893.7 1229.5h2.8v15.5h-2.8zM896.3 1229.5h2.8v15.5h-2.8zM909.4 1229.5h2.8v15.5h-2.8z"/>
<path fill="#2575b9" d="M872.8 1229.5h2.8v15.5h-2.8zM888.5 1229.5h2.8v15.5h-2.8zM906.8 1229.5h2.8v15.5h-2.8zM914.6 1229.5h2.8v15.5h-2.8zM917.2 1229.5h2.8v15.5h-2.8z"/>
<path fill="#1969ad" d="M891.1 1229.5h2.8v15.5h-2.8z"/>
<path fill="#fffaf2" d="M587.8 1249.2h339.9v387.3h-339.9z"/>
<path fill="#fc6168" d="M587.8 1249.2h5.4v26h-5.4zM593 1249.2h2.8v26h-2.8zM629.6 1249.2h5.4v26h-5.4zM650.6 1249.2h2.8v26h-2.8z"/>
<path fill="#fd7178" d="M595.6 1249.2h2.8v26h-2.8zM616.6 1249.2h5.4v26h-5.4z"/>
<path fill="#fc656c" d="M598.3 1249.2h2.8v26h-2.8zM606.1 1249.2h8v26h-8zM640.1 1249.2h5.4v26h-5.4zM666.2 1249.2h2.8v26h-2.8z"/>
<path fill="#fc4e54" d="M600.9 1249.2h5.4v26h-5.4zM634.9 1249.2h5.4v26h-5.4zM655.8 1249.2h5.4v26h-5.4zM661 1249.2h2.8v26h-2.8zM689.8 1249.2h2.8v26h-2.8zM859.7 1249.2h5.4v26h-5.4z"/>
<path fill="#fc5a60" d="M613.9 1249.2h2.8v26h-2.8zM671.5 1249.2h8v26h-8zM721.1 1249.2h2.8v26h-2.8z"/>
<path fill="#fc6d74" d="M621.8 1249.2h8v26h-8zM697.6 1249.2h8v26h-8zM715.9 1249.2h5.4v26h-5.4z"/>
<path fill="#fb464c" d="M645.3 1249.2h5.4v26h-5.4zM736.8 1249.2h2.8v26h-2.8zM752.5 1249.2h2.8v26h-2.8zM870.2 1249.2h5.4v26h-5.4z"/>
<path fill="#fc5e64" d="M653.2 1249.2h2.8v26h-2.8zM668.9 1249.2h2.8v26h-2.8zM692.4 1249.2h5.4v26h-5.4z"/>
<path fill="#fc6970" d="M663.6 1249.2h2.8v26h-2.8zM679.3 1249.2h2.8v26h-2.8z"/>
<path fill="#fc565c" d="M681.9 1249.2h8v26h-8zM875.4 1249.2h5.4v26h-5.4zM891.1 1249.2h2.8v26h-2.8z"/>
<path fill="#fc5258" d="M705.5 1249.2h2.8v26h-2.8zM708.1 1249.2h2.8v26h-2.8zM710.7 1249.2h5.4v26h-5.4zM909.4 1249.2h2.8v26h-2.8z"/>
<path fill="#fc383e" d="M723.8 1249.2h8v26h-8zM757.8 1249.2h5.4v26h-5.4zM763 1249.2h2.8v26h-2.8z"/>
<path fill="#fc3237" d="M731.6 1249.2h5.4v26h-5.4zM747.3 1249.2h2.8v26h-2.8zM749.9 1249.2h2.8v26h-2.8zM786.5 1249.2h5.4v26h-5.4zM857.1 1249.2h2.8v26h-2.8zM880.6 1249.2h2.8v26h-2.8zM906.8 1249.2h2.8v26h-2.8z"/>
<path fill="#fd2c31" d="M739.4 1249.2h5.4v26h-5.4zM755.1 1249.2h2.8v26h-2.8zM815.3 1249.2h2.8v26h-2.8zM823.1 1249.2h8v26h-8z"/>
<path fill="#fe2227" d="M744.7 1249.2h2.8v26h-2.8zM783.9 1249.2h2.8v26h-2.8z"/>
<path fill="#fb3e44" d="M765.6 1249.2h8v26h-8zM773.4 1249.2h2.8v26h-2.8zM778.7 1249.2h5.4v26h-5.4zM901.6 1249.2h5.4v26h-5.4z"/>
<path fill="#ff1c21" d="M776.1 1249.2h2.8v26h-2.8z"/>
<path fill="#ff1013" d="M791.7 1249.2h5.4v26h-5.4zM804.8 1249.2h2.8v26h-2.8zM817.9 1249.2h2.8v26h-2.8zM851.9 1249.2h5.4v26h-5.4z"/>
<path fill="#fe252b" d="M797 1249.2h2.8v26h-2.8zM812.7 1249.2h2.8v26h-2.8z"/>
<path fill="#ff191e" d="M799.6 1249.2h5.4v26h-5.4z"/>
<path fill="#fd2f34" d="M807.4 1249.2h5.4v26h-5.4zM820.5 1249.2h2.8v26h-2.8zM836.2 1249.2h5.4v26h-5.4zM864.9 1249.2h5.4v26h-5.4zM893.7 1249.2h8v26h-8z"/>
<path fill="#fd282e" d="M831 1249.2h5.4v26h-5.4z"/>
<path fill="#fe1f24" d="M841.4 1249.2h2.8v26h-2.8z"/>
<path fill="#ff1316" d="M844 1249.2h5.4v26h-5.4z"/>
<path fill="#ff161a" d="M849.3 1249.2h2.8v26h-2.8z"/>
<path fill="#fb4248" d="M883.3 1249.2h8v26h-8zM912 1249.2h5.4v26h-5.4zM917.2 1249.2h5.4v26h-5.4z"/>
<path fill="#fb3b41" d="M922.5 1249.2h5.4v26h-5.4z"/>
<path fill="#ffd4d8" d="M587.8 1275h2.8v26h-2.8zM595.6 1275h2.8v26h-2.8zM608.7 1275h2.8v26h-2.8zM629.6 1275h5.4v26h-5.4zM650.6 1275h5.4v26h-5.4zM668.9 1275h8v26h-8zM676.7 1275h2.8v26h-2.8zM687.2 1275h2.8v26h-2.8zM695 1275h2.8v26h-2.8zM697.6 1275h5.4v26h-5.4zM702.8 1275h2.8v26h-2.8zM718.5 1275h5.4v26h-5.4zM726.4 1300.8h2.8v26h-2.8zM747.3 1300.8h8v26h-8zM781.3 1300.8h5.4v26h-5.4zM802.2 1300.8h5.4v26h-5.4zM807.4 1300.8h8v26h-8zM815.3 1300.8h2.8v26h-2.8zM888.5 1300.8h2.8v26h-2.8zM906.8 1300.8h8v26h-8zM919.9 1300.8h2.8v26h-2.8zM590.4 1326.7h8v26h-8zM611.3 1326.7h2.8v26h-2.8zM637.5 1326.7h5.4v26h-5.4zM647.9 1326.7h2.8v26h-2.8zM658.4 1352.5h2.8v26h-2.8zM661 1352.5h2.8v26h-2.8zM674.1 1352.5h2.8v26h-2.8zM700.2 1352.5h2.8v26h-2.8zM710.7 1352.5h5.4v26h-5.4zM739.4 1378.3h2.8v26h-2.8zM744.7 1378.3h2.8v26h-2.8zM765.6 1378.3h2.8v26h-2.8zM778.7 1378.3h2.8v26h-2.8zM891.1 1429.9h2.8v26h-2.8zM909.4 1429.9h2.8v26h-2.8z"/>
<path fill="#ffd1d7" d="M590.4 1275h5.4v26h-5.4zM613.9 1275h2.8v26h-2.8zM616.6 1275h2.8v26h-2.8zM655.8 1275h5.4v26h-5.4zM661 1275h8v26h-8zM770.8 1300.8h8v26h-8zM786.5 1300.8h5.4v26h-5.4zM791.7 1300.8h5.4v26h-5.4zM797 1300.8h5.4v26h-5.4zM820.5 1300.8h5.4v26h-5.4zM841.4 1300.8h2.8v26h-2.8zM864.9 1300.8h5.4v26h-5.4zM880.6 1300.8h2.8v26h-2.8zM883.3 1300.8h2.8v26h-2.8zM598.3 1326.7h2.8v26h-2.8zM603.5 1326.7h2.8v26h-2.8zM624.4 1326.7h2.8v26h-2.8zM702.8 1352.5h8v26h-8zM726.4 1378.3h5.4v26h-5.4zM731.6 1378.3h2.8v26h-2.8zM755.1 1378.3h8v26h-8zM763 1378.3h2.8v26h-2.8zM781.3 1378.3h8v26h-8zM802.2 1404.1h5.4v26h-5.4zM807.4 1404.1h5.4v26h-5.4zM833.6 1404.1h5.4v26h-5.4zM841.4 1404.1h2.8v26h-2.8zM844 1404.1h8v26h-8zM859.7 1429.9h2.8v26h-2.8zM872.8 1429.9h8v26h-8zM901.6 1429.9h5.4v26h-5.4z"/>
<path fill="#ffc9d0" d="M598.3 1275h5.4v26h-5.4zM627 1275h2.8v26h-2.8zM642.7 1275h8v26h-8zM723.8 1300.8h2.8v26h-2.8zM729 1300.8h2.8v26h-2.8zM739.4 1300.8h2.8v26h-2.8zM765.6 1300.8h2.8v26h-2.8zM817.9 1300.8h2.8v26h-2.8zM825.7 1300.8h5.4v26h-5.4zM838.8 1300.8h2.8v26h-2.8zM870.2 1300.8h5.4v26h-5.4zM891.1 1300.8h8v26h-8zM898.9 1300.8h8v26h-8zM914.6 1300.8h5.4v26h-5.4zM922.5 1300.8h5.4v26h-5.4zM600.9 1326.7h2.8v26h-2.8zM608.7 1326.7h2.8v26h-2.8zM676.7 1352.5h2.8v26h-2.8zM697.6 1352.5h2.8v26h-2.8zM742.1 1378.3h2.8v26h-2.8zM768.2 1378.3h5.4v26h-5.4zM773.4 1378.3h5.4v26h-5.4zM799.6 1404.1h2.8v26h-2.8zM812.7 1404.1h8v26h-8zM828.3 1404.1h5.4v26h-5.4zM838.8 1404.1h2.8v26h-2.8zM851.9 1404.1h2.8v26h-2.8zM857.1 1404.1h2.8v26h-2.8zM864.9 1429.9h5.4v26h-5.4zM893.7 1429.9h8v26h-8zM914.6 1429.9h5.4v26h-5.4zM922.5 1429.9h5.4v26h-5.4z"/>
<path fill="#ffccd2" d="M603.5 1275h2.8v26h-2.8zM619.2 1275h8v26h-8zM679.3 1275h8v26h-8zM715.9 1275h2.8v26h-2.8zM734.2 1300.8h5.4v26h-5.4zM742.1 1300.8h5.4v26h-5.4zM757.8 1300.8h8v26h-8zM831 1300.8h5.4v26h-5.4zM849.3 1300.8h2.8v26h-2.8zM859.7 1300.8h5.4v26h-5.4zM875.4 1300.8h5.4v26h-5.4zM885.9 1300.8h2.8v26h-2.8zM616.6 1326.7h2.8v26h-2.8zM627 1326.7h5.4v26h-5.4zM632.2 1326.7h5.4v26h-5.4zM650.6 1326.7h2.8v26h-2.8zM653.2 1326.7h2.8v26h-2.8zM655.8 1352.5h2.8v26h-2.8zM663.6 1352.5h5.4v26h-5.4zM668.9 1352.5h5.4v26h-5.4zM684.5 1352.5h5.4v26h-5.4zM721.1 1352.5h2.8v26h-2.8zM747.3 1378.3h2.8v26h-2.8zM906.8 1429.9h2.8v26h-2.8zM919.9 1429.9h2.8v26h-2.8z"/>
<path fill="#ffcfd5" d="M606.1 1275h2.8v26h-2.8zM611.3 1275h2.8v26h-2.8zM634.9 1275h2.8v26h-2.8zM637.5 1275h2.8v26h-2.8zM640.1 1275h2.8v26h-2.8zM689.8 1275h5.4v26h-5.4zM705.5 1275h2.8v26h-2.8zM708.1 1275h8v26h-8zM731.6 1300.8h2.8v26h-2.8zM755.1 1300.8h2.8v26h-2.8zM768.2 1300.8h2.8v26h-2.8zM778.7 1300.8h2.8v26h-2.8zM836.2 1300.8h2.8v26h-2.8zM844 1300.8h5.4v26h-5.4zM851.9 1300.8h8v26h-8zM587.8 1326.7h2.8v26h-2.8zM606.1 1326.7h2.8v26h-2.8zM613.9 1326.7h2.8v26h-2.8zM619.2 1326.7h5.4v26h-5.4zM642.7 1326.7h5.4v26h-5.4zM679.3 1352.5h5.4v26h-5.4zM689.8 1352.5h2.8v26h-2.8zM692.4 1352.5h5.4v26h-5.4zM715.9 1352.5h5.4v26h-5.4zM723.8 1378.3h2.8v26h-2.8zM734.2 1378.3h5.4v26h-5.4zM749.9 1378.3h5.4v26h-5.4zM789.1 1378.3h2.8v26h-2.8zM791.7 1404.1h8v26h-8zM820.5 1404.1h8v26h-8zM854.5 1404.1h2.8v26h-2.8zM862.3 1429.9h2.8v26h-2.8zM870.2 1429.9h2.8v26h-2.8zM880.6 1429.9h8v26h-8zM888.5 1429.9h2.8v26h-2.8zM912 1429.9h2.8v26h-2.8z"/>
<text x="930.3" y="1266.7" font-size="20.7">Topic2</text>
<text x="930.3" y="1292.56" font-size="20.7">Topic3</text>
<text x="930.3" y="1318.42" font-size="20.7">Topic8</text>
<text x="930.3" y="1344.28" font-size="20.7">Topic4</text>
<text x="930.3" y="1370.14" font-size="20.7">Topic5</text>
<text x="930.3" y="1396" font-size="20.7">Topic9</text>
<text x="930.3" y="1421.86" font-size="20.7">Topic7</text>
<text x="930.3" y="1447.72" font-size="20.7">Topic12</text>
<text x="930.3" y="1473.58" font-size="20.7">Topic1</text>
<text x="930.3" y="1499.44" font-size="20.7">Topic6</text>
<text x="930.3" y="1525.3" font-size="20.7">Topic10</text>
<text x="930.3" y="1551.16" font-size="20.7">Topic11</text>
<text x="930.3" y="1577.02" font-size="20.7">Topic13</text>
<text x="930.3" y="1602.88" font-size="20.7">Topic14</text>
<text x="930.3" y="1628.74" font-size="20.7">Topic15</text>
<rect x="572.4" y="1249.2" width="12.7" height="26.02" fill="#000000"/>
<rect x="572.4" y="1275.02" width="12.7" height="26.02" fill="#ff0000"/>
<rect x="572.4" y="1300.84" width="12.7" height="26.02" fill="#1e90ff"/>
<rect x="572.4" y="1326.66" width="12.7" height="129.3" fill="#228b22"/>
<rect x="572.4" y="1455.76" width="12.7" height="180.94" fill="#bebebe"/>
<text x="769.6" y="1214.8" font-size="25.1" text-anchor="middle">Mallet (pycisTopic)</text>
<text x="90.4" y="1665.4" font-size="20.6">Cell line</text>
<rect x="91.7" y="1672.8" width="20" height="18.6" fill="#fc9272"/>
<text x="118.6" y="1689.2" font-size="20.6">MM029</text>
<rect x="91.7" y="1693.4" width="20" height="19.8" fill="#de2d26"/>
<text x="118.6" y="1709.8" font-size="20.6">MM047</text>
<rect x="190.7" y="1650.4" width="20" height="19" fill="#bdd7e7"/>
<text x="217.4" y="1667" font-size="20.6">MM001</text>
<rect x="190.7" y="1672" width="20" height="19.3" fill="#6baed6"/>
<text x="217.4" y="1689.2" font-size="20.6">MM011</text>
<rect x="190.7" y="1694" width="20" height="19.8" fill="#2171b5"/>
<text x="217.4" y="1710.6" font-size="20.6">MM034</text>
<text x="304.3" y="1664.1" font-size="20.7">Topic annotation</text>
<rect x="301.2" y="1670.2" width="19.8" height="19.3" fill="#228b22"/>
<text x="327.6" y="1686.2" font-size="20.9">Cell–type specific</text>
<rect x="301.2" y="1691.8" width="19.8" height="19.9" fill="#000000"/>
<text x="327.6" y="1707.7" font-size="20.6">General</text>
<rect x="494.2" y="1645.7" width="20" height="19.5" fill="#bebebe"/>
<text x="520.8" y="1662.3" font-size="20.6">Low contribution</text>
<rect x="494.2" y="1667.5" width="20" height="19.3" fill="#1e90ff"/>
<text x="520.8" y="1683.6" font-size="20.6">Melanocytic</text>
<rect x="494.2" y="1689.2" width="20" height="19.3" fill="#ff0000"/>
<text x="520.8" y="1705.8" font-size="20.6">Mesenchymal</text>
<text x="680.6" y="1662.3" font-size="20.3">Topic contribution</text>
<text x="709.6" y="1682.1" font-size="20.6" text-anchor="middle">0</text>
<text x="787.7" y="1682.1" font-size="20.6">Max</text>
<defs><linearGradient id="gr1" x1="0" x2="1" y1="0" y2="0"><stop offset="0" stop-color="#fff5f0"/><stop offset="0.3" stop-color="#f59a90"/><stop offset="0.55" stop-color="#dc1c22"/><stop offset="0.62" stop-color="#d9383c"/><stop offset="0.85" stop-color="#bd2226"/><stop offset="1" stop-color="#8e1a1a"/></linearGradient><linearGradient id="gr2" x1="0" x2="1" y1="0" y2="0"><stop offset="0" stop-color="#1e90ff"/><stop offset="0.48" stop-color="#fbf6f2"/><stop offset="1" stop-color="#ff3838"/></linearGradient></defs>
<rect x="705.4" y="1691" width="95" height="20.7" fill="url(#gr1)" stroke="#444" stroke-width="1"/>
<line x1="707.2" y1="1687.5" x2="707.2" y2="1691" stroke="#444" stroke-width="1"/>
<line x1="796" y1="1687.5" x2="796" y2="1691" stroke="#444" stroke-width="1"/>
<text x="865.5" y="1662.9" font-size="20.6">Scaled AUC</text>
<text x="874.4" y="1680.7" font-size="20.6">-4</text>
<text x="968.9" y="1680.7" font-size="20.6" text-anchor="middle">4</text>
<rect x="875.6" y="1690.1" width="94.9" height="20.1" fill="url(#gr2)" stroke="#444" stroke-width="1"/>
<line x1="877.4" y1="1686.5" x2="877.4" y2="1690" stroke="#444" stroke-width="1"/>
<line x1="965.8" y1="1686.5" x2="965.8" y2="1690" stroke="#444" stroke-width="1"/>
</g>
<g id="panel_e">
<path fill="#ff4040" d="M1158.1 798.2h22.9v26.1h-22.9zM1180.7 824.1h22.9v26.1h-22.9zM1203.3 850h22.9v26.1h-22.9zM1225.9 875.8h22.9v26.1h-22.9zM1248.5 901.7h22.9v26.1h-22.9zM1271.1 927.6h22.9v26.1h-22.9zM1293.7 953.5h22.9v26.1h-22.9zM1316.3 979.4h22.9v26.1h-22.9zM1316.3 1005.2h22.9v26.1h-22.9zM1834.1 875.1h23.1v26.1h-23.1zM1856.9 900.9h23.1v26.1h-23.1zM1879.8 926.7h23.1v26.1h-23.1zM1902.7 952.6h23.1v26.1h-23.1zM1925.5 978.4h23.1v26.1h-23.1zM1925.5 1004.2h23.1v26.1h-23.1zM1158.1 1248.7h22.8v26h-22.8zM1180.7 1274.5h22.8v26h-22.8zM1203.2 1300.3h22.8v26h-22.8zM1225.8 1326.1h22.8v26h-22.8zM1248.3 1351.9h22.8v26h-22.8zM1270.9 1377.7h22.8v26h-22.8zM1293.5 1403.5h22.8v26h-22.8zM1316 1429.3h22.8v26h-22.8zM1831 1327.8h22.8v26.1h-22.8zM1853.6 1353.6h22.8v26.1h-22.8zM1876.1 1379.4h22.8v26.1h-22.8zM1898.6 1405.3h22.8v26.1h-22.8zM1921.2 1431.1h22.8v26.1h-22.8z"/>
<path fill="#bad7f5" d="M1180.7 798.2h22.9v26.1h-22.9zM1225.9 798.2h22.9v26.1h-22.9zM1248.5 798.2h22.9v26.1h-22.9zM1271.1 798.2h22.9v26.1h-22.9zM1293.7 798.2h22.9v26.1h-22.9zM1316.3 798.2h22.9v26.1h-22.9zM1339 798.2h22.9v26.1h-22.9zM1361.6 798.2h22.9v26.1h-22.9zM1384.2 798.2h22.9v26.1h-22.9zM1406.8 798.2h22.9v26.1h-22.9zM1429.4 798.2h22.9v26.1h-22.9zM1452 798.2h22.9v26.1h-22.9zM1474.6 798.2h22.9v26.1h-22.9zM1158.1 824.1h22.9v26.1h-22.9zM1203.3 824.1h22.9v26.1h-22.9zM1271.1 824.1h22.9v26.1h-22.9zM1293.7 824.1h22.9v26.1h-22.9zM1339 824.1h22.9v26.1h-22.9zM1361.6 824.1h22.9v26.1h-22.9zM1384.2 824.1h22.9v26.1h-22.9zM1406.8 824.1h22.9v26.1h-22.9zM1429.4 824.1h22.9v26.1h-22.9zM1452 824.1h22.9v26.1h-22.9zM1474.6 824.1h22.9v26.1h-22.9zM1158.1 850h22.9v26.1h-22.9zM1180.7 850h22.9v26.1h-22.9zM1225.9 850h22.9v26.1h-22.9zM1248.5 850h22.9v26.1h-22.9zM1339 850h22.9v26.1h-22.9zM1361.6 850h22.9v26.1h-22.9zM1384.2 850h22.9v26.1h-22.9zM1406.8 850h22.9v26.1h-22.9zM1429.4 850h22.9v26.1h-22.9zM1452 850h22.9v26.1h-22.9zM1474.6 850h22.9v26.1h-22.9zM1158.1 875.8h22.9v26.1h-22.9zM1203.3 875.8h22.9v26.1h-22.9zM1248.5 875.8h22.9v26.1h-22.9zM1271.1 875.8h22.9v26.1h-22.9zM1293.7 875.8h22.9v26.1h-22.9zM1339 875.8h22.9v26.1h-22.9zM1361.6 875.8h22.9v26.1h-22.9zM1384.2 875.8h22.9v26.1h-22.9zM1406.8 875.8h22.9v26.1h-22.9zM1429.4 875.8h22.9v26.1h-22.9zM1452 875.8h22.9v26.1h-22.9zM1474.6 875.8h22.9v26.1h-22.9zM1158.1 901.7h22.9v26.1h-22.9zM1203.3 901.7h22.9v26.1h-22.9zM1225.9 901.7h22.9v26.1h-22.9zM1271.1 901.7h22.9v26.1h-22.9zM1293.7 901.7h22.9v26.1h-22.9zM1339 901.7h22.9v26.1h-22.9zM1361.6 901.7h22.9v26.1h-22.9zM1384.2 901.7h22.9v26.1h-22.9zM1406.8 901.7h22.9v26.1h-22.9zM1429.4 901.7h22.9v26.1h-22.9zM1452 901.7h22.9v26.1h-22.9zM1474.6 901.7h22.9v26.1h-22.9zM1158.1 927.6h22.9v26.1h-22.9zM1180.7 927.6h22.9v26.1h-22.9zM1225.9 927.6h22.9v26.1h-22.9zM1248.5 927.6h22.9v26.1h-22.9zM1339 927.6h22.9v26.1h-22.9zM1361.6 927.6h22.9v26.1h-22.9zM1384.2 927.6h22.9v26.1h-22.9zM1406.8 927.6h22.9v26.1h-22.9zM1429.4 927.6h22.9v26.1h-22.9zM1452 927.6h22.9v26.1h-22.9zM1474.6 927.6h22.9v26.1h-22.9zM1158.1 953.5h22.9v26.1h-22.9zM1225.9 953.5h22.9v26.1h-22.9zM1248.5 953.5h22.9v26.1h-22.9zM1316.3 953.5h22.9v26.1h-22.9zM1339 953.5h22.9v26.1h-22.9zM1361.6 953.5h22.9v26.1h-22.9zM1384.2 953.5h22.9v26.1h-22.9zM1406.8 953.5h22.9v26.1h-22.9zM1429.4 953.5h22.9v26.1h-22.9zM1452 953.5h22.9v26.1h-22.9zM1474.6 953.5h22.9v26.1h-22.9zM1158.1 979.4h22.9v26.1h-22.9zM1225.9 979.4h22.9v26.1h-22.9zM1248.5 979.4h22.9v26.1h-22.9zM1271.1 979.4h22.9v26.1h-22.9zM1293.7 979.4h22.9v26.1h-22.9zM1361.6 979.4h22.9v26.1h-22.9zM1384.2 979.4h22.9v26.1h-22.9zM1406.8 979.4h22.9v26.1h-22.9zM1429.4 979.4h22.9v26.1h-22.9zM1452 979.4h22.9v26.1h-22.9zM1474.6 979.4h22.9v26.1h-22.9zM1158.1 1005.2h22.9v26.1h-22.9zM1225.9 1005.2h22.9v26.1h-22.9zM1248.5 1005.2h22.9v26.1h-22.9zM1271.1 1005.2h22.9v26.1h-22.9zM1293.7 1005.2h22.9v26.1h-22.9zM1361.6 1005.2h22.9v26.1h-22.9zM1384.2 1005.2h22.9v26.1h-22.9zM1406.8 1005.2h22.9v26.1h-22.9zM1429.4 1005.2h22.9v26.1h-22.9zM1452 1005.2h22.9v26.1h-22.9zM1474.6 1005.2h22.9v26.1h-22.9zM1158.1 1108.8h22.9v26.1h-22.9zM1180.7 1108.8h22.9v26.1h-22.9zM1316.3 1134.6h22.9v26.1h-22.9zM1361.6 1134.6h22.9v26.1h-22.9zM1248.5 1160.5h22.9v26.1h-22.9zM1361.6 1160.5h22.9v26.1h-22.9zM1742.6 900.9h23.1v26.1h-23.1zM1788.3 926.7h23.1v26.1h-23.1zM1902.7 926.7h23.1v26.1h-23.1zM1765.5 978.4h23.1v26.1h-23.1zM1765.5 1004.2h23.1v26.1h-23.1zM1719.7 1030h23.1v26.1h-23.1zM1628.3 1055.9h23.1v26.1h-23.1zM1742.6 1055.9h23.1v26.1h-23.1zM1811.2 1055.9h23.1v26.1h-23.1zM1834.1 1055.9h23.1v26.1h-23.1zM1856.9 1055.9h23.1v26.1h-23.1zM1605.4 1081.7h23.1v26.1h-23.1zM1628.3 1081.7h23.1v26.1h-23.1zM1719.7 1081.7h23.1v26.1h-23.1zM1628.3 1107.5h23.1v26.1h-23.1zM1834.1 1107.5h23.1v26.1h-23.1zM1696.9 1133.3h23.1v26.1h-23.1zM1651.1 1159.2h23.1v26.1h-23.1zM1674 1159.2h23.1v26.1h-23.1zM1856.9 1159.2h23.1v26.1h-23.1zM1902.7 1159.2h23.1v26.1h-23.1zM1203.2 1455h22.8v26h-22.8zM1406.3 1455h22.8v26h-22.8zM1383.7 1506.6h22.8v26h-22.8zM1406.3 1506.6h22.8v26h-22.8zM1180.7 1532.4h22.8v26h-22.8zM1406.3 1532.4h22.8v26h-22.8zM1361.1 1558.2h22.8v26h-22.8zM1225.8 1584h22.8v26h-22.8zM1270.9 1584h22.8v26h-22.8zM1338.6 1584h22.8v26h-22.8zM1628.2 1276.1h22.8v26.1h-22.8zM1695.8 1302h22.8v26.1h-22.8zM1740.9 1353.6h22.8v26.1h-22.8zM1898.6 1379.4h22.8v26.1h-22.8zM1876.1 1405.3h22.8v26.1h-22.8zM1628.2 1431.1h22.8v26.1h-22.8zM1718.4 1431.1h22.8v26.1h-22.8zM1740.9 1431.1h22.8v26.1h-22.8zM1876.1 1482.7h22.8v26.1h-22.8zM1763.4 1534.4h22.8v26.1h-22.8zM1786 1560.2h22.8v26.1h-22.8zM1808.5 1560.2h22.8v26.1h-22.8zM1673.3 1586h22.8v26.1h-22.8zM1695.8 1611.9h22.8v26.1h-22.8zM1763.4 1611.9h22.8v26.1h-22.8z"/>
<path fill="#c5dcf4" d="M1203.3 798.2h22.9v26.1h-22.9zM1248.5 824.1h22.9v26.1h-22.9zM1316.3 824.1h22.9v26.1h-22.9zM1316.3 850h22.9v26.1h-22.9zM1316.3 875.8h22.9v26.1h-22.9zM1180.7 901.7h22.9v26.1h-22.9zM1316.3 901.7h22.9v26.1h-22.9zM1316.3 927.6h22.9v26.1h-22.9zM1180.7 953.5h22.9v26.1h-22.9zM1203.3 953.5h22.9v26.1h-22.9z"/>
<path fill="#e5ecf1" d="M1225.9 824.1h22.9v26.1h-22.9zM1271.1 850h22.9v26.1h-22.9zM1293.7 850h22.9v26.1h-22.9zM1180.7 875.8h22.9v26.1h-22.9zM1203.3 1005.2h22.9v26.1h-22.9zM1180.7 1031.1h22.9v26.1h-22.9zM1384.2 1031.1h22.9v26.1h-22.9zM1429.4 1031.1h22.9v26.1h-22.9zM1158.1 1057h22.9v26.1h-22.9zM1203.3 1057h22.9v26.1h-22.9zM1474.6 1057h22.9v26.1h-22.9zM1180.7 1082.9h22.9v26.1h-22.9zM1271.1 1082.9h22.9v26.1h-22.9zM1293.7 1082.9h22.9v26.1h-22.9zM1293.7 1134.6h22.9v26.1h-22.9zM1225.9 1160.5h22.9v26.1h-22.9zM1293.7 1160.5h22.9v26.1h-22.9zM1384.2 1160.5h22.9v26.1h-22.9zM1474.6 1160.5h22.9v26.1h-22.9zM1628.3 797.6h23.1v26.1h-23.1zM1879.8 849.3h23.1v26.1h-23.1zM1902.7 849.3h23.1v26.1h-23.1zM1719.7 875.1h23.1v26.1h-23.1zM1765.5 952.6h23.1v26.1h-23.1zM1879.8 1030h23.1v26.1h-23.1zM1651.1 1055.9h23.1v26.1h-23.1zM1605.4 1107.5h23.1v26.1h-23.1zM1628.3 1133.3h23.1v26.1h-23.1zM1628.3 1159.2h23.1v26.1h-23.1zM1451.4 1455h22.8v26h-22.8zM1383.7 1532.4h22.8v26h-22.8zM1428.8 1584h22.8v26h-22.8zM1338.6 1609.8h22.8v26h-22.8zM1853.6 1276.1h22.8v26.1h-22.8zM1898.6 1302h22.8v26.1h-22.8zM1786 1379.4h22.8v26.1h-22.8zM1763.4 1431.1h22.8v26.1h-22.8zM1786 1456.9h22.8v26.1h-22.8zM1898.6 1456.9h22.8v26.1h-22.8zM1740.9 1482.7h22.8v26.1h-22.8zM1650.8 1508.6h22.8v26.1h-22.8zM1695.8 1508.6h22.8v26.1h-22.8zM1740.9 1508.6h22.8v26.1h-22.8zM1808.5 1508.6h22.8v26.1h-22.8zM1763.4 1586h22.8v26.1h-22.8zM1786 1586h22.8v26.1h-22.8zM1876.1 1586h22.8v26.1h-22.8zM1628.2 1611.9h22.8v26.1h-22.8z"/>
<path fill="#d0e2f3" d="M1203.3 927.6h22.9v26.1h-22.9zM1293.7 927.6h22.9v26.1h-22.9zM1271.1 953.5h22.9v26.1h-22.9zM1180.7 979.4h22.9v26.1h-22.9zM1203.3 979.4h22.9v26.1h-22.9zM1180.7 1005.2h22.9v26.1h-22.9zM1361.6 1082.9h22.9v26.1h-22.9zM1452 1108.8h22.9v26.1h-22.9zM1158.1 1134.6h22.9v26.1h-22.9zM1271.1 1134.6h22.9v26.1h-22.9zM1406.8 1134.6h22.9v26.1h-22.9zM1429.4 1134.6h22.9v26.1h-22.9zM1474.6 1134.6h22.9v26.1h-22.9zM1811.2 797.6h23.1v26.1h-23.1zM1856.9 823.4h23.1v26.1h-23.1zM1719.7 1055.9h23.1v26.1h-23.1zM1788.3 1055.9h23.1v26.1h-23.1zM1788.3 1081.7h23.1v26.1h-23.1zM1719.7 1107.5h23.1v26.1h-23.1zM1225.8 1274.5h22.8v26h-22.8zM1270.9 1300.3h22.8v26h-22.8zM1180.7 1326.1h22.8v26h-22.8zM1293.5 1377.7h22.8v26h-22.8zM1248.3 1455h22.8v26h-22.8zM1428.8 1455h22.8v26h-22.8zM1248.3 1506.6h22.8v26h-22.8zM1248.3 1532.4h22.8v26h-22.8zM1248.3 1558.2h22.8v26h-22.8zM1406.3 1558.2h22.8v26h-22.8zM1383.7 1584h22.8v26h-22.8zM1248.3 1609.8h22.8v26h-22.8zM1808.5 1250.3h22.8v26.1h-22.8zM1628.2 1456.9h22.8v26.1h-22.8zM1673.3 1456.9h22.8v26.1h-22.8zM1695.8 1482.7h22.8v26.1h-22.8zM1718.4 1482.7h22.8v26.1h-22.8zM1695.8 1534.4h22.8v26.1h-22.8zM1718.4 1534.4h22.8v26.1h-22.8zM1921.2 1534.4h22.8v26.1h-22.8zM1740.9 1560.2h22.8v26.1h-22.8z"/>
<path fill="#eeefef" d="M1339 979.4h22.9v26.1h-22.9zM1339 1005.2h22.9v26.1h-22.9z"/>
<path fill="#8abefa" d="M1158.1 1031.1h22.9v26.1h-22.9zM1225.9 1031.1h22.9v26.1h-22.9zM1316.3 1031.1h22.9v26.1h-22.9zM1339 1031.1h22.9v26.1h-22.9zM1158.1 1082.9h22.9v26.1h-22.9zM1203.3 1082.9h22.9v26.1h-22.9zM1225.9 1082.9h22.9v26.1h-22.9zM1339 1082.9h22.9v26.1h-22.9zM1203.3 1108.8h22.9v26.1h-22.9zM1339 1108.8h22.9v26.1h-22.9zM1203.3 1134.6h22.9v26.1h-22.9zM1203.3 1160.5h22.9v26.1h-22.9zM1339 1160.5h22.9v26.1h-22.9zM1719.7 797.6h23.1v26.1h-23.1zM1742.6 797.6h23.1v26.1h-23.1zM1765.5 797.6h23.1v26.1h-23.1zM1788.3 797.6h23.1v26.1h-23.1zM1834.1 797.6h23.1v26.1h-23.1zM1856.9 797.6h23.1v26.1h-23.1zM1879.8 797.6h23.1v26.1h-23.1zM1902.7 797.6h23.1v26.1h-23.1zM1605.4 823.4h23.1v26.1h-23.1zM1651.1 823.4h23.1v26.1h-23.1zM1674 823.4h23.1v26.1h-23.1zM1696.9 823.4h23.1v26.1h-23.1zM1765.5 823.4h23.1v26.1h-23.1zM1788.3 823.4h23.1v26.1h-23.1zM1811.2 823.4h23.1v26.1h-23.1zM1879.8 823.4h23.1v26.1h-23.1zM1902.7 823.4h23.1v26.1h-23.1zM1925.5 823.4h23.1v26.1h-23.1zM1605.4 849.3h23.1v26.1h-23.1zM1628.3 849.3h23.1v26.1h-23.1zM1651.1 849.3h23.1v26.1h-23.1zM1674 849.3h23.1v26.1h-23.1zM1834.1 849.3h23.1v26.1h-23.1zM1856.9 849.3h23.1v26.1h-23.1zM1925.5 849.3h23.1v26.1h-23.1zM1605.4 875.1h23.1v26.1h-23.1zM1651.1 875.1h23.1v26.1h-23.1zM1674 875.1h23.1v26.1h-23.1zM1696.9 875.1h23.1v26.1h-23.1zM1765.5 875.1h23.1v26.1h-23.1zM1788.3 875.1h23.1v26.1h-23.1zM1811.2 875.1h23.1v26.1h-23.1zM1856.9 875.1h23.1v26.1h-23.1zM1879.8 875.1h23.1v26.1h-23.1zM1902.7 875.1h23.1v26.1h-23.1zM1696.9 900.9h23.1v26.1h-23.1zM1719.7 900.9h23.1v26.1h-23.1zM1765.5 900.9h23.1v26.1h-23.1zM1788.3 900.9h23.1v26.1h-23.1zM1811.2 900.9h23.1v26.1h-23.1zM1834.1 900.9h23.1v26.1h-23.1zM1879.8 900.9h23.1v26.1h-23.1zM1902.7 900.9h23.1v26.1h-23.1zM1628.3 926.7h23.1v26.1h-23.1zM1674 926.7h23.1v26.1h-23.1zM1696.9 926.7h23.1v26.1h-23.1zM1719.7 926.7h23.1v26.1h-23.1zM1742.6 926.7h23.1v26.1h-23.1zM1765.5 926.7h23.1v26.1h-23.1zM1834.1 926.7h23.1v26.1h-23.1zM1856.9 926.7h23.1v26.1h-23.1zM1925.5 926.7h23.1v26.1h-23.1zM1605.4 952.6h23.1v26.1h-23.1zM1628.3 952.6h23.1v26.1h-23.1zM1651.1 952.6h23.1v26.1h-23.1zM1674 952.6h23.1v26.1h-23.1zM1696.9 952.6h23.1v26.1h-23.1zM1719.7 952.6h23.1v26.1h-23.1zM1742.6 952.6h23.1v26.1h-23.1zM1788.3 952.6h23.1v26.1h-23.1zM1834.1 952.6h23.1v26.1h-23.1zM1856.9 952.6h23.1v26.1h-23.1zM1925.5 952.6h23.1v26.1h-23.1zM1605.4 978.4h23.1v26.1h-23.1zM1651.1 978.4h23.1v26.1h-23.1zM1674 978.4h23.1v26.1h-23.1zM1696.9 978.4h23.1v26.1h-23.1zM1811.2 978.4h23.1v26.1h-23.1zM1834.1 978.4h23.1v26.1h-23.1zM1856.9 978.4h23.1v26.1h-23.1zM1879.8 978.4h23.1v26.1h-23.1zM1902.7 978.4h23.1v26.1h-23.1zM1605.4 1004.2h23.1v26.1h-23.1zM1651.1 1004.2h23.1v26.1h-23.1zM1674 1004.2h23.1v26.1h-23.1zM1696.9 1004.2h23.1v26.1h-23.1zM1811.2 1004.2h23.1v26.1h-23.1zM1834.1 1004.2h23.1v26.1h-23.1zM1856.9 1004.2h23.1v26.1h-23.1zM1879.8 1004.2h23.1v26.1h-23.1zM1902.7 1004.2h23.1v26.1h-23.1zM1696.9 1030h23.1v26.1h-23.1zM1879.8 1055.9h23.1v26.1h-23.1zM1925.5 1055.9h23.1v26.1h-23.1zM1651.1 1081.7h23.1v26.1h-23.1zM1925.5 1081.7h23.1v26.1h-23.1zM1879.8 1107.5h23.1v26.1h-23.1zM1902.7 1107.5h23.1v26.1h-23.1zM1605.4 1133.3h23.1v26.1h-23.1zM1719.7 1159.2h23.1v26.1h-23.1zM1742.6 1159.2h23.1v26.1h-23.1zM1811.2 1159.2h23.1v26.1h-23.1zM1925.5 1159.2h23.1v26.1h-23.1zM1158.1 1455h22.8v26h-22.8zM1158.1 1480.8h22.8v26h-22.8zM1180.7 1480.8h22.8v26h-22.8zM1225.8 1480.8h22.8v26h-22.8zM1293.5 1480.8h22.8v26h-22.8zM1203.2 1506.6h22.8v26h-22.8zM1270.9 1506.6h22.8v26h-22.8zM1338.6 1506.6h22.8v26h-22.8zM1270.9 1532.4h22.8v26h-22.8zM1316 1532.4h22.8v26h-22.8zM1158.1 1558.2h22.8v26h-22.8zM1225.8 1558.2h22.8v26h-22.8zM1316 1558.2h22.8v26h-22.8zM1203.2 1584h22.8v26h-22.8zM1293.5 1584h22.8v26h-22.8zM1316 1584h22.8v26h-22.8zM1270.9 1609.8h22.8v26h-22.8zM1718.4 1302h22.8v26.1h-22.8zM1740.9 1302h22.8v26.1h-22.8zM1786 1482.7h22.8v26.1h-22.8zM1808.5 1482.7h22.8v26.1h-22.8zM1831 1482.7h22.8v26.1h-22.8zM1921.2 1482.7h22.8v26.1h-22.8zM1718.4 1508.6h22.8v26.1h-22.8zM1763.4 1508.6h22.8v26.1h-22.8zM1786 1508.6h22.8v26.1h-22.8zM1921.2 1508.6h22.8v26.1h-22.8zM1628.2 1560.2h22.8v26.1h-22.8zM1718.4 1560.2h22.8v26.1h-22.8zM1808.5 1586h22.8v26.1h-22.8zM1786 1611.9h22.8v26.1h-22.8zM1808.5 1611.9h22.8v26.1h-22.8zM1876.1 1611.9h22.8v26.1h-22.8z"/>
<path fill="#a3ccf8" d="M1203.3 1031.1h22.9v26.1h-22.9zM1406.8 1031.1h22.9v26.1h-22.9zM1180.7 1057h22.9v26.1h-22.9zM1225.9 1057h22.9v26.1h-22.9zM1271.1 1057h22.9v26.1h-22.9zM1293.7 1057h22.9v26.1h-22.9zM1339 1057h22.9v26.1h-22.9zM1316.3 1082.9h22.9v26.1h-22.9zM1406.8 1082.9h22.9v26.1h-22.9zM1225.9 1108.8h22.9v26.1h-22.9zM1271.1 1108.8h22.9v26.1h-22.9zM1293.7 1108.8h22.9v26.1h-22.9zM1316.3 1108.8h22.9v26.1h-22.9zM1384.2 1108.8h22.9v26.1h-22.9zM1316.3 1160.5h22.9v26.1h-22.9zM1406.8 1160.5h22.9v26.1h-22.9zM1429.4 1160.5h22.9v26.1h-22.9zM1765.5 1081.7h23.1v26.1h-23.1zM1696.9 1107.5h23.1v26.1h-23.1zM1765.5 1107.5h23.1v26.1h-23.1zM1879.8 1133.3h23.1v26.1h-23.1zM1902.7 1133.3h23.1v26.1h-23.1zM1180.7 1248.7h22.8v26h-22.8zM1203.2 1248.7h22.8v26h-22.8zM1225.8 1248.7h22.8v26h-22.8zM1248.3 1248.7h22.8v26h-22.8zM1270.9 1248.7h22.8v26h-22.8zM1293.5 1248.7h22.8v26h-22.8zM1316 1248.7h22.8v26h-22.8zM1338.6 1248.7h22.8v26h-22.8zM1361.1 1248.7h22.8v26h-22.8zM1383.7 1248.7h22.8v26h-22.8zM1406.3 1248.7h22.8v26h-22.8zM1428.8 1248.7h22.8v26h-22.8zM1451.4 1248.7h22.8v26h-22.8zM1473.9 1248.7h22.8v26h-22.8zM1158.1 1274.5h22.8v26h-22.8zM1203.2 1274.5h22.8v26h-22.8zM1270.9 1274.5h22.8v26h-22.8zM1293.5 1274.5h22.8v26h-22.8zM1338.6 1274.5h22.8v26h-22.8zM1361.1 1274.5h22.8v26h-22.8zM1383.7 1274.5h22.8v26h-22.8zM1406.3 1274.5h22.8v26h-22.8zM1428.8 1274.5h22.8v26h-22.8zM1451.4 1274.5h22.8v26h-22.8zM1473.9 1274.5h22.8v26h-22.8zM1158.1 1300.3h22.8v26h-22.8zM1180.7 1300.3h22.8v26h-22.8zM1225.8 1300.3h22.8v26h-22.8zM1248.3 1300.3h22.8v26h-22.8zM1316 1300.3h22.8v26h-22.8zM1338.6 1300.3h22.8v26h-22.8zM1361.1 1300.3h22.8v26h-22.8zM1383.7 1300.3h22.8v26h-22.8zM1406.3 1300.3h22.8v26h-22.8zM1428.8 1300.3h22.8v26h-22.8zM1451.4 1300.3h22.8v26h-22.8zM1473.9 1300.3h22.8v26h-22.8zM1158.1 1326.1h22.8v26h-22.8zM1203.2 1326.1h22.8v26h-22.8zM1248.3 1326.1h22.8v26h-22.8zM1270.9 1326.1h22.8v26h-22.8zM1293.5 1326.1h22.8v26h-22.8zM1316 1326.1h22.8v26h-22.8zM1338.6 1326.1h22.8v26h-22.8zM1361.1 1326.1h22.8v26h-22.8zM1383.7 1326.1h22.8v26h-22.8zM1406.3 1326.1h22.8v26h-22.8zM1428.8 1326.1h22.8v26h-22.8zM1451.4 1326.1h22.8v26h-22.8zM1473.9 1326.1h22.8v26h-22.8zM1158.1 1351.9h22.8v26h-22.8zM1203.2 1351.9h22.8v26h-22.8zM1225.8 1351.9h22.8v26h-22.8zM1270.9 1351.9h22.8v26h-22.8zM1293.5 1351.9h22.8v26h-22.8zM1338.6 1351.9h22.8v26h-22.8zM1361.1 1351.9h22.8v26h-22.8zM1383.7 1351.9h22.8v26h-22.8zM1406.3 1351.9h22.8v26h-22.8zM1428.8 1351.9h22.8v26h-22.8zM1451.4 1351.9h22.8v26h-22.8zM1473.9 1351.9h22.8v26h-22.8zM1158.1 1377.7h22.8v26h-22.8zM1180.7 1377.7h22.8v26h-22.8zM1225.8 1377.7h22.8v26h-22.8zM1248.3 1377.7h22.8v26h-22.8zM1338.6 1377.7h22.8v26h-22.8zM1361.1 1377.7h22.8v26h-22.8zM1383.7 1377.7h22.8v26h-22.8zM1406.3 1377.7h22.8v26h-22.8zM1428.8 1377.7h22.8v26h-22.8zM1451.4 1377.7h22.8v26h-22.8zM1473.9 1377.7h22.8v26h-22.8zM1158.1 1403.5h22.8v26h-22.8zM1180.7 1403.5h22.8v26h-22.8zM1225.8 1403.5h22.8v26h-22.8zM1248.3 1403.5h22.8v26h-22.8zM1316 1403.5h22.8v26h-22.8zM1338.6 1403.5h22.8v26h-22.8zM1361.1 1403.5h22.8v26h-22.8zM1383.7 1403.5h22.8v26h-22.8zM1406.3 1403.5h22.8v26h-22.8zM1428.8 1403.5h22.8v26h-22.8zM1451.4 1403.5h22.8v26h-22.8zM1473.9 1403.5h22.8v26h-22.8zM1158.1 1429.3h22.8v26h-22.8zM1225.8 1429.3h22.8v26h-22.8zM1248.3 1429.3h22.8v26h-22.8zM1270.9 1429.3h22.8v26h-22.8zM1293.5 1429.3h22.8v26h-22.8zM1361.1 1429.3h22.8v26h-22.8zM1383.7 1429.3h22.8v26h-22.8zM1406.3 1429.3h22.8v26h-22.8zM1428.8 1429.3h22.8v26h-22.8zM1451.4 1429.3h22.8v26h-22.8zM1473.9 1429.3h22.8v26h-22.8zM1180.7 1455h22.8v26h-22.8zM1293.5 1455h22.8v26h-22.8zM1248.3 1480.8h22.8v26h-22.8zM1270.9 1558.2h22.8v26h-22.8zM1248.3 1584h22.8v26h-22.8zM1158.1 1609.8h22.8v26h-22.8zM1718.4 1250.3h22.8v26.1h-22.8zM1740.9 1250.3h22.8v26.1h-22.8zM1763.4 1250.3h22.8v26.1h-22.8zM1786 1250.3h22.8v26.1h-22.8zM1853.6 1250.3h22.8v26.1h-22.8zM1876.1 1250.3h22.8v26.1h-22.8zM1898.6 1250.3h22.8v26.1h-22.8zM1605.7 1276.1h22.8v26.1h-22.8zM1650.8 1276.1h22.8v26.1h-22.8zM1673.3 1276.1h22.8v26.1h-22.8zM1695.8 1276.1h22.8v26.1h-22.8zM1763.4 1276.1h22.8v26.1h-22.8zM1786 1276.1h22.8v26.1h-22.8zM1808.5 1276.1h22.8v26.1h-22.8zM1876.1 1276.1h22.8v26.1h-22.8zM1898.6 1276.1h22.8v26.1h-22.8zM1921.2 1276.1h22.8v26.1h-22.8zM1605.7 1302h22.8v26.1h-22.8zM1628.2 1302h22.8v26.1h-22.8zM1650.8 1302h22.8v26.1h-22.8zM1673.3 1302h22.8v26.1h-22.8zM1831 1302h22.8v26.1h-22.8zM1853.6 1302h22.8v26.1h-22.8zM1921.2 1302h22.8v26.1h-22.8zM1628.2 1379.4h22.8v26.1h-22.8zM1763.4 1379.4h22.8v26.1h-22.8zM1786 1405.3h22.8v26.1h-22.8zM1605.7 1431.1h22.8v26.1h-22.8zM1650.8 1431.1h22.8v26.1h-22.8zM1673.3 1431.1h22.8v26.1h-22.8zM1695.8 1431.1h22.8v26.1h-22.8zM1808.5 1431.1h22.8v26.1h-22.8zM1831 1431.1h22.8v26.1h-22.8zM1853.6 1431.1h22.8v26.1h-22.8zM1876.1 1431.1h22.8v26.1h-22.8zM1898.6 1431.1h22.8v26.1h-22.8zM1650.8 1456.9h22.8v26.1h-22.8zM1695.8 1456.9h22.8v26.1h-22.8zM1718.4 1456.9h22.8v26.1h-22.8zM1921.2 1456.9h22.8v26.1h-22.8zM1673.3 1508.6h22.8v26.1h-22.8zM1876.1 1534.4h22.8v26.1h-22.8zM1650.8 1560.2h22.8v26.1h-22.8zM1831 1560.2h22.8v26.1h-22.8zM1876.1 1560.2h22.8v26.1h-22.8zM1898.6 1560.2h22.8v26.1h-22.8zM1605.7 1586h22.8v26.1h-22.8zM1650.8 1586h22.8v26.1h-22.8zM1718.4 1586h22.8v26.1h-22.8zM1853.6 1586h22.8v26.1h-22.8zM1831 1611.9h22.8v26.1h-22.8zM1921.2 1611.9h22.8v26.1h-22.8z"/>
<path fill="#ffbcb6" d="M1248.5 1031.1h22.9v26.1h-22.9zM1429.4 1057h22.9v26.1h-22.9zM1248.5 1082.9h22.9v26.1h-22.9zM1429.4 1082.9h22.9v26.1h-22.9zM1248.5 1108.8h22.9v26.1h-22.9zM1429.4 1108.8h22.9v26.1h-22.9zM1248.5 1134.6h22.9v26.1h-22.9zM1902.7 1081.7h23.1v26.1h-23.1zM1879.8 1159.2h23.1v26.1h-23.1zM1406.3 1480.8h22.8v26h-22.8zM1361.1 1506.6h22.8v26h-22.8zM1473.9 1506.6h22.8v26h-22.8zM1876.1 1456.9h22.8v26.1h-22.8zM1673.3 1560.2h22.8v26.1h-22.8z"/>
<path fill="#ffe7df" d="M1271.1 1031.1h22.9v26.1h-22.9zM1361.6 1031.1h22.9v26.1h-22.9zM1361.6 1057h22.9v26.1h-22.9zM1361.6 1108.8h22.9v26.1h-22.9zM1452 1160.5h22.9v26.1h-22.9zM1765.5 849.3h23.1v26.1h-23.1zM1788.3 849.3h23.1v26.1h-23.1zM1788.3 978.4h23.1v26.1h-23.1zM1605.4 1030h23.1v26.1h-23.1zM1628.3 1030h23.1v26.1h-23.1zM1742.6 1030h23.1v26.1h-23.1zM1902.7 1030h23.1v26.1h-23.1zM1651.1 1107.5h23.1v26.1h-23.1zM1605.4 1159.2h23.1v26.1h-23.1zM1361.1 1480.8h22.8v26h-22.8zM1383.7 1480.8h22.8v26h-22.8zM1428.8 1480.8h22.8v26h-22.8zM1158.1 1532.4h22.8v26h-22.8zM1361.1 1532.4h22.8v26h-22.8zM1428.8 1532.4h22.8v26h-22.8zM1451.4 1558.2h22.8v26h-22.8zM1451.4 1584h22.8v26h-22.8zM1473.9 1584h22.8v26h-22.8zM1383.7 1609.8h22.8v26h-22.8zM1451.4 1609.8h22.8v26h-22.8zM1473.9 1609.8h22.8v26h-22.8zM1763.4 1302h22.8v26.1h-22.8zM1786 1302h22.8v26.1h-22.8zM1763.4 1405.3h22.8v26.1h-22.8zM1786 1431.1h22.8v26.1h-22.8zM1605.7 1456.9h22.8v26.1h-22.8zM1740.9 1456.9h22.8v26.1h-22.8zM1808.5 1456.9h22.8v26.1h-22.8zM1628.2 1482.7h22.8v26.1h-22.8zM1650.8 1482.7h22.8v26.1h-22.8zM1673.3 1482.7h22.8v26.1h-22.8zM1853.6 1508.6h22.8v26.1h-22.8zM1876.1 1508.6h22.8v26.1h-22.8zM1673.3 1534.4h22.8v26.1h-22.8zM1921.2 1560.2h22.8v26.1h-22.8zM1831 1586h22.8v26.1h-22.8zM1921.2 1586h22.8v26.1h-22.8zM1718.4 1611.9h22.8v26.1h-22.8z"/>
<path fill="#ffd2cb" d="M1293.7 1031.1h22.9v26.1h-22.9zM1452 1031.1h22.9v26.1h-22.9zM1248.5 1057h22.9v26.1h-22.9zM1452 1057h22.9v26.1h-22.9zM1474.6 1082.9h22.9v26.1h-22.9zM1406.8 1108.8h22.9v26.1h-22.9zM1474.6 1108.8h22.9v26.1h-22.9zM1180.7 1134.6h22.9v26.1h-22.9zM1452 1134.6h22.9v26.1h-22.9zM1605.4 797.6h23.1v26.1h-23.1zM1651.1 797.6h23.1v26.1h-23.1zM1674 797.6h23.1v26.1h-23.1zM1696.9 797.6h23.1v26.1h-23.1zM1788.3 1004.2h23.1v26.1h-23.1zM1674 1055.9h23.1v26.1h-23.1zM1856.9 1081.7h23.1v26.1h-23.1zM1879.8 1081.7h23.1v26.1h-23.1zM1651.1 1133.3h23.1v26.1h-23.1zM1719.7 1133.3h23.1v26.1h-23.1zM1856.9 1133.3h23.1v26.1h-23.1zM1834.1 1159.2h23.1v26.1h-23.1zM1383.7 1455h22.8v26h-22.8zM1473.9 1480.8h22.8v26h-22.8zM1428.8 1506.6h22.8v26h-22.8zM1383.7 1558.2h22.8v26h-22.8zM1428.8 1558.2h22.8v26h-22.8zM1473.9 1558.2h22.8v26h-22.8zM1361.1 1584h22.8v26h-22.8zM1406.3 1584h22.8v26h-22.8zM1361.1 1609.8h22.8v26h-22.8zM1428.8 1609.8h22.8v26h-22.8zM1605.7 1250.3h22.8v26.1h-22.8zM1650.8 1250.3h22.8v26.1h-22.8zM1673.3 1250.3h22.8v26.1h-22.8zM1695.8 1250.3h22.8v26.1h-22.8zM1853.6 1456.9h22.8v26.1h-22.8zM1853.6 1482.7h22.8v26.1h-22.8zM1605.7 1534.4h22.8v26.1h-22.8zM1650.8 1534.4h22.8v26.1h-22.8zM1740.9 1534.4h22.8v26.1h-22.8zM1605.7 1560.2h22.8v26.1h-22.8zM1605.7 1611.9h22.8v26.1h-22.8z"/>
<path fill="#f6f2ed" d="M1474.6 1031.1h22.9v26.1h-22.9zM1316.3 1057h22.9v26.1h-22.9zM1384.2 1057h22.9v26.1h-22.9zM1384.2 1082.9h22.9v26.1h-22.9zM1452 1082.9h22.9v26.1h-22.9zM1384.2 1134.6h22.9v26.1h-22.9zM1158.1 1160.5h22.9v26.1h-22.9zM1180.7 1160.5h22.9v26.1h-22.9zM1834.1 823.4h23.1v26.1h-23.1zM1811.2 1030h23.1v26.1h-23.1zM1856.9 1030h23.1v26.1h-23.1zM1742.6 1081.7h23.1v26.1h-23.1zM1674 1107.5h23.1v26.1h-23.1zM1742.6 1107.5h23.1v26.1h-23.1zM1674 1133.3h23.1v26.1h-23.1zM1742.6 1133.3h23.1v26.1h-23.1zM1788.3 1159.2h23.1v26.1h-23.1zM1270.9 1455h22.8v26h-22.8zM1361.1 1455h22.8v26h-22.8zM1451.4 1480.8h22.8v26h-22.8zM1158.1 1506.6h22.8v26h-22.8zM1451.4 1506.6h22.8v26h-22.8zM1473.9 1532.4h22.8v26h-22.8zM1338.6 1558.2h22.8v26h-22.8zM1406.3 1609.8h22.8v26h-22.8zM1628.2 1250.3h22.8v26.1h-22.8zM1831 1276.1h22.8v26.1h-22.8zM1876.1 1302h22.8v26.1h-22.8zM1718.4 1327.8h22.8v26.1h-22.8zM1628.2 1508.6h22.8v26.1h-22.8zM1628.2 1534.4h22.8v26.1h-22.8zM1853.6 1534.4h22.8v26.1h-22.8zM1898.6 1586h22.8v26.1h-22.8zM1650.8 1611.9h22.8v26.1h-22.8zM1673.3 1611.9h22.8v26.1h-22.8zM1740.9 1611.9h22.8v26.1h-22.8z"/>
<path fill="#238fff" d="M1406.8 1057h22.9v26.1h-22.9zM1834.1 1030h23.1v26.1h-23.1zM1925.5 1030h23.1v26.1h-23.1zM1902.7 1055.9h23.1v26.1h-23.1zM1696.9 1081.7h23.1v26.1h-23.1zM1811.2 1081.7h23.1v26.1h-23.1zM1811.2 1107.5h23.1v26.1h-23.1zM1925.5 1107.5h23.1v26.1h-23.1zM1834.1 1133.3h23.1v26.1h-23.1zM1696.9 1159.2h23.1v26.1h-23.1zM1765.5 1159.2h23.1v26.1h-23.1zM1225.8 1455h22.8v26h-22.8zM1225.8 1506.6h22.8v26h-22.8zM1338.6 1532.4h22.8v26h-22.8zM1203.2 1558.2h22.8v26h-22.8zM1180.7 1584h22.8v26h-22.8zM1831 1456.9h22.8v26.1h-22.8zM1808.5 1534.4h22.8v26.1h-22.8zM1628.2 1586h22.8v26.1h-22.8zM1898.6 1611.9h22.8v26.1h-22.8z"/>
<path fill="#66acfa" d="M1225.9 1134.6h22.9v26.1h-22.9zM1339 1134.6h22.9v26.1h-22.9zM1925.5 797.6h23.1v26.1h-23.1zM1719.7 849.3h23.1v26.1h-23.1zM1742.6 849.3h23.1v26.1h-23.1zM1651.1 1030h23.1v26.1h-23.1zM1674 1030h23.1v26.1h-23.1zM1765.5 1030h23.1v26.1h-23.1zM1788.3 1030h23.1v26.1h-23.1zM1696.9 1055.9h23.1v26.1h-23.1zM1765.5 1055.9h23.1v26.1h-23.1zM1674 1081.7h23.1v26.1h-23.1zM1834.1 1081.7h23.1v26.1h-23.1zM1788.3 1107.5h23.1v26.1h-23.1zM1765.5 1133.3h23.1v26.1h-23.1zM1788.3 1133.3h23.1v26.1h-23.1zM1811.2 1133.3h23.1v26.1h-23.1zM1925.5 1133.3h23.1v26.1h-23.1zM1316 1455h22.8v26h-22.8zM1338.6 1455h22.8v26h-22.8zM1203.2 1480.8h22.8v26h-22.8zM1270.9 1480.8h22.8v26h-22.8zM1316 1480.8h22.8v26h-22.8zM1338.6 1480.8h22.8v26h-22.8zM1180.7 1506.6h22.8v26h-22.8zM1293.5 1506.6h22.8v26h-22.8zM1316 1506.6h22.8v26h-22.8zM1203.2 1532.4h22.8v26h-22.8zM1225.8 1532.4h22.8v26h-22.8zM1293.5 1532.4h22.8v26h-22.8zM1180.7 1558.2h22.8v26h-22.8zM1293.5 1558.2h22.8v26h-22.8zM1158.1 1584h22.8v26h-22.8zM1180.7 1609.8h22.8v26h-22.8zM1203.2 1609.8h22.8v26h-22.8zM1225.8 1609.8h22.8v26h-22.8zM1293.5 1609.8h22.8v26h-22.8zM1316 1609.8h22.8v26h-22.8zM1763.4 1456.9h22.8v26.1h-22.8zM1763.4 1482.7h22.8v26.1h-22.8zM1898.6 1482.7h22.8v26.1h-22.8zM1831 1508.6h22.8v26.1h-22.8zM1898.6 1508.6h22.8v26.1h-22.8zM1786 1534.4h22.8v26.1h-22.8zM1831 1534.4h22.8v26.1h-22.8zM1898.6 1534.4h22.8v26.1h-22.8zM1695.8 1560.2h22.8v26.1h-22.8zM1763.4 1560.2h22.8v26.1h-22.8zM1740.9 1586h22.8v26.1h-22.8z"/>
<path fill="#fa6c6c" d="M1271.1 1160.5h22.9v26.1h-22.9zM1811.2 849.3h23.1v26.1h-23.1zM1808.5 1302h22.8v26.1h-22.8zM1605.7 1508.6h22.8v26.1h-22.8zM1695.8 1586h22.8v26.1h-22.8z"/>
<path fill="#000000" d="M1158.1 779.2h22.8v16h-22.8zM1140 798.2h15.3v26.1h-15.3zM1605.4 777.8h114.5v16.2h-114.5zM1587 797.6h15.4v26h-15.4zM1158.1 1229.9h22.8v16h-22.8zM1140 1248.7h15v26h-15zM1605.7 1230.6h112.9v16.4h-112.9zM1587.6 1250.3h15.1v26h-15.1z"/>
<path fill="#ff0000" d="M1180.7 779.2h22.8v16h-22.8zM1140 824.1h15.3v26.1h-15.3zM1719.7 777.8h45.9v16.2h-45.9zM1587 823.4h15.4v26h-15.4zM1180.7 1229.9h22.8v16h-22.8zM1140 1274.5h15v26h-15zM1718.4 1230.6h45.3v16.4h-45.3zM1587.6 1276.1h15.1v26h-15.1z"/>
<path fill="#1e90ff" d="M1203.3 779.2h22.8v16h-22.8zM1140 850h15.3v26.1h-15.3zM1765.5 777.8h68.8v16.2h-68.8zM1587 849.3h15.4v26h-15.4zM1203.2 1229.9h22.8v16h-22.8zM1140 1300.3h15v26h-15zM1763.4 1230.6h67.8v16.4h-67.8zM1587.6 1302h15.1v26h-15.1z"/>
<path fill="#228b22" d="M1225.9 779.2h135.8v16h-135.8zM1140 875.8h15.3v155.5h-15.3zM1834.1 777.8h114.5v16.2h-114.5zM1587 875.1h15.4v155.2h-15.4zM1225.8 1229.9h135.6v16h-135.6zM1140 1326.1h15v129.2h-15zM1831 1230.6h112.9v16.4h-112.9zM1587.6 1327.8h15.1v129.3h-15.1z"/>
<path fill="#bebebe" d="M1361.6 779.2h135.8v16h-135.8zM1140 1031.1h15.3v155.5h-15.3zM1587 1030h15.4v155.2h-15.4zM1361.1 1229.9h135.6v16h-135.6zM1140 1455h15v180.8h-15zM1587.6 1456.9h15.1v181h-15.1z"/>
<path fill="#96c5f9" d="M1628.3 823.4h23.1v26.1h-23.1zM1696.9 849.3h23.1v26.1h-23.1zM1628.3 875.1h23.1v26.1h-23.1zM1742.6 875.1h23.1v26.1h-23.1zM1925.5 875.1h23.1v26.1h-23.1zM1605.4 900.9h23.1v26.1h-23.1zM1628.3 900.9h23.1v26.1h-23.1zM1651.1 900.9h23.1v26.1h-23.1zM1674 900.9h23.1v26.1h-23.1zM1925.5 900.9h23.1v26.1h-23.1zM1605.4 926.7h23.1v26.1h-23.1zM1651.1 926.7h23.1v26.1h-23.1zM1811.2 926.7h23.1v26.1h-23.1zM1811.2 952.6h23.1v26.1h-23.1zM1879.8 952.6h23.1v26.1h-23.1zM1628.3 978.4h23.1v26.1h-23.1zM1719.7 978.4h23.1v26.1h-23.1zM1742.6 978.4h23.1v26.1h-23.1zM1628.3 1004.2h23.1v26.1h-23.1zM1719.7 1004.2h23.1v26.1h-23.1zM1742.6 1004.2h23.1v26.1h-23.1zM1831 1250.3h22.8v26.1h-22.8zM1921.2 1250.3h22.8v26.1h-22.8z"/>
<path fill="#ff9896" d="M1719.7 823.4h23.1v26.1h-23.1zM1742.6 823.4h23.1v26.1h-23.1zM1605.4 1055.9h23.1v26.1h-23.1zM1856.9 1107.5h23.1v26.1h-23.1zM1473.9 1455h22.8v26h-22.8zM1451.4 1532.4h22.8v26h-22.8zM1718.4 1276.1h22.8v26.1h-22.8zM1740.9 1276.1h22.8v26.1h-22.8zM1605.7 1482.7h22.8v26.1h-22.8zM1853.6 1560.2h22.8v26.1h-22.8zM1853.6 1611.9h22.8v26.1h-22.8z"/>
<path fill="#aed2f6" d="M1248.3 1274.5h22.8v26h-22.8zM1316 1274.5h22.8v26h-22.8zM1293.5 1300.3h22.8v26h-22.8zM1180.7 1351.9h22.8v26h-22.8zM1316 1351.9h22.8v26h-22.8zM1203.2 1377.7h22.8v26h-22.8zM1316 1377.7h22.8v26h-22.8zM1203.2 1403.5h22.8v26h-22.8zM1270.9 1403.5h22.8v26h-22.8zM1180.7 1429.3h22.8v26h-22.8zM1203.2 1429.3h22.8v26h-22.8zM1338.6 1429.3h22.8v26h-22.8zM1605.7 1327.8h22.8v26.1h-22.8zM1628.2 1327.8h22.8v26.1h-22.8zM1650.8 1327.8h22.8v26.1h-22.8zM1673.3 1327.8h22.8v26.1h-22.8zM1695.8 1327.8h22.8v26.1h-22.8zM1740.9 1327.8h22.8v26.1h-22.8zM1763.4 1327.8h22.8v26.1h-22.8zM1786 1327.8h22.8v26.1h-22.8zM1808.5 1327.8h22.8v26.1h-22.8zM1853.6 1327.8h22.8v26.1h-22.8zM1876.1 1327.8h22.8v26.1h-22.8zM1898.6 1327.8h22.8v26.1h-22.8zM1921.2 1327.8h22.8v26.1h-22.8zM1605.7 1353.6h22.8v26.1h-22.8zM1628.2 1353.6h22.8v26.1h-22.8zM1650.8 1353.6h22.8v26.1h-22.8zM1673.3 1353.6h22.8v26.1h-22.8zM1695.8 1353.6h22.8v26.1h-22.8zM1718.4 1353.6h22.8v26.1h-22.8zM1763.4 1353.6h22.8v26.1h-22.8zM1786 1353.6h22.8v26.1h-22.8zM1808.5 1353.6h22.8v26.1h-22.8zM1831 1353.6h22.8v26.1h-22.8zM1876.1 1353.6h22.8v26.1h-22.8zM1898.6 1353.6h22.8v26.1h-22.8zM1921.2 1353.6h22.8v26.1h-22.8zM1605.7 1379.4h22.8v26.1h-22.8zM1650.8 1379.4h22.8v26.1h-22.8zM1673.3 1379.4h22.8v26.1h-22.8zM1695.8 1379.4h22.8v26.1h-22.8zM1718.4 1379.4h22.8v26.1h-22.8zM1740.9 1379.4h22.8v26.1h-22.8zM1808.5 1379.4h22.8v26.1h-22.8zM1831 1379.4h22.8v26.1h-22.8zM1853.6 1379.4h22.8v26.1h-22.8zM1921.2 1379.4h22.8v26.1h-22.8zM1605.7 1405.3h22.8v26.1h-22.8zM1628.2 1405.3h22.8v26.1h-22.8zM1650.8 1405.3h22.8v26.1h-22.8zM1673.3 1405.3h22.8v26.1h-22.8zM1695.8 1405.3h22.8v26.1h-22.8zM1718.4 1405.3h22.8v26.1h-22.8zM1740.9 1405.3h22.8v26.1h-22.8zM1808.5 1405.3h22.8v26.1h-22.8zM1831 1405.3h22.8v26.1h-22.8zM1853.6 1405.3h22.8v26.1h-22.8zM1921.2 1405.3h22.8v26.1h-22.8z"/>
<text x="1056.3" y="762.5" font-size="29.5" font-weight="bold" style="stroke:none">e</text>
<text x="1320" y="761.1" font-size="25.1" text-anchor="middle">CGS (cisTopic)</text>
<text text-anchor="middle" transform="translate(1120.5 990) rotate(-90)" font-size="24.9">CGS (pycisTopic)</text>
<text x="1782" y="760.6" font-size="25.1" text-anchor="middle">WarpLDA (cisTopic)</text>
<text text-anchor="middle" transform="translate(1569.8 978.3) rotate(-90)" font-size="24.9">CGS (pycisTopic)</text>
<text x="1951.5" y="813.5" font-size="20.8">Topic11</text>
<text x="1951.5" y="839.33" font-size="20.8">Topic14</text>
<text x="1951.5" y="865.15" font-size="20.8">Topic12</text>
<text x="1951.5" y="890.98" font-size="20.8">Topic3</text>
<text x="1951.5" y="916.81" font-size="20.8">Topic2</text>
<text x="1951.5" y="942.63" font-size="20.8">Topic6</text>
<text x="1951.5" y="968.46" font-size="20.8">Topic4</text>
<text x="1951.5" y="994.29" font-size="20.8">Topic1</text>
<text x="1951.5" y="1020.11" font-size="20.8">Topic15</text>
<text x="1951.5" y="1045.94" font-size="20.8">Topic5</text>
<text x="1951.5" y="1071.77" font-size="20.8">Topic7</text>
<text x="1951.5" y="1097.59" font-size="20.8">Topic8</text>
<text x="1951.5" y="1123.42" font-size="20.8">Topic9</text>
<text x="1951.5" y="1149.25" font-size="20.8">Topic10</text>
<text x="1951.5" y="1175.07" font-size="20.8">Topic13</text>
<text x="1315.6" y="1215.3" font-size="25.1" text-anchor="middle">CGS (cisTopic)</text>
<text text-anchor="middle" transform="translate(1120.5 1426.1) rotate(-90)" font-size="24.9">Mallet (pycisTopic)</text>
<text text-anchor="end" transform="translate(1173.48 1642.2) rotate(-90)" font-size="20.5">Topic3</text>
<text text-anchor="end" transform="translate(1196.04 1642.2) rotate(-90)" font-size="20.5">Topic5</text>
<text text-anchor="end" transform="translate(1218.6 1642.2) rotate(-90)" font-size="20.5">Topic12</text>
<text text-anchor="end" transform="translate(1241.16 1642.2) rotate(-90)" font-size="20.5">Topic1</text>
<text text-anchor="end" transform="translate(1263.72 1642.2) rotate(-90)" font-size="20.5">Topic2</text>
<text text-anchor="end" transform="translate(1286.28 1642.2) rotate(-90)" font-size="20.5">Topic8</text>
<text text-anchor="end" transform="translate(1308.84 1642.2) rotate(-90)" font-size="20.5">Topic6</text>
<text text-anchor="end" transform="translate(1331.4 1642.2) rotate(-90)" font-size="20.5">Topic10</text>
<text text-anchor="end" transform="translate(1353.96 1642.2) rotate(-90)" font-size="20.5">Topic9</text>
<text text-anchor="end" transform="translate(1376.52 1642.2) rotate(-90)" font-size="20.5">Topic4</text>
<text text-anchor="end" transform="translate(1399.08 1642.2) rotate(-90)" font-size="20.5">Topic7</text>
<text text-anchor="end" transform="translate(1421.64 1642.2) rotate(-90)" font-size="20.5">Topic11</text>
<text text-anchor="end" transform="translate(1444.2 1642.2) rotate(-90)" font-size="20.5">Topic13</text>
<text text-anchor="end" transform="translate(1466.76 1642.2) rotate(-90)" font-size="20.5">Topic14</text>
<text text-anchor="end" transform="translate(1489.32 1642.2) rotate(-90)" font-size="20.5">Topic15</text>
<text x="1777.7" y="1213.9" font-size="25.1" text-anchor="middle">WarpLDA (cisTopic)</text>
<text text-anchor="middle" transform="translate(1569.8 1414.1) rotate(-90)" font-size="24.9">Mallet (pycisTopic)</text>
<text x="1946.8" y="1266.7" font-size="20.8">Topic2</text>
<text x="1946.8" y="1292.53" font-size="20.8">Topic3</text>
<text x="1946.8" y="1318.35" font-size="20.8">Topic8</text>
<text x="1946.8" y="1344.18" font-size="20.8">Topic4</text>
<text x="1946.8" y="1370.01" font-size="20.8">Topic5</text>
<text x="1946.8" y="1395.83" font-size="20.8">Topic9</text>
<text x="1946.8" y="1421.66" font-size="20.8">Topic7</text>
<text x="1946.8" y="1447.49" font-size="20.8">Topic12</text>
<text x="1946.8" y="1473.31" font-size="20.8">Topic1</text>
<text x="1946.8" y="1499.14" font-size="20.8">Topic6</text>
<text x="1946.8" y="1524.97" font-size="20.8">Topic10</text>
<text x="1946.8" y="1550.79" font-size="20.8">Topic11</text>
<text x="1946.8" y="1576.62" font-size="20.8">Topic13</text>
<text x="1946.8" y="1602.45" font-size="20.8">Topic14</text>
<text x="1946.8" y="1628.27" font-size="20.8">Topic15</text>
<text text-anchor="end" transform="translate(1621.07 1642) rotate(-90)" font-size="20.5">Topic4</text>
<text text-anchor="end" transform="translate(1643.95 1642) rotate(-90)" font-size="20.5">Topic6</text>
<text text-anchor="end" transform="translate(1666.83 1642) rotate(-90)" font-size="20.5">Topic11</text>
<text text-anchor="end" transform="translate(1689.71 1642) rotate(-90)" font-size="20.5">Topic13</text>
<text text-anchor="end" transform="translate(1712.59 1642) rotate(-90)" font-size="20.5">Topic15</text>
<text text-anchor="end" transform="translate(1735.47 1642) rotate(-90)" font-size="20.5">Topic8</text>
<text text-anchor="end" transform="translate(1758.35 1642) rotate(-90)" font-size="20.5">Topic12</text>
<text text-anchor="end" transform="translate(1781.23 1642) rotate(-90)" font-size="20.5">Topic1</text>
<text text-anchor="end" transform="translate(1804.11 1642) rotate(-90)" font-size="20.5">Topic2</text>
<text text-anchor="end" transform="translate(1826.99 1642) rotate(-90)" font-size="20.5">Topic7</text>
<text text-anchor="end" transform="translate(1849.87 1642) rotate(-90)" font-size="20.5">Topic10</text>
<text text-anchor="end" transform="translate(1872.75 1642) rotate(-90)" font-size="20.5">Topic14</text>
<text text-anchor="end" transform="translate(1895.63 1642) rotate(-90)" font-size="20.5">Topic5</text>
<text text-anchor="end" transform="translate(1918.51 1642) rotate(-90)" font-size="20.5">Topic9</text>
<text text-anchor="end" transform="translate(1941.39 1642) rotate(-90)" font-size="20.5">Topic3</text>
</g>
<g id="panel_f">
<text x="9" y="1782.2" font-size="29.5" font-weight="bold" style="stroke:none">f</text>
<rect x="116.6" y="1782.3" width="264.8" height="259.2" fill="#fff"/>
<line x1="116.6" y1="1820.18" x2="381.4" y2="1820.18" stroke="#efefef" stroke-width="1"/>
<line x1="116.6" y1="1871.95" x2="381.4" y2="1871.95" stroke="#efefef" stroke-width="1"/>
<line x1="116.6" y1="1923.72" x2="381.4" y2="1923.72" stroke="#efefef" stroke-width="1"/>
<line x1="116.6" y1="1975.49" x2="381.4" y2="1975.49" stroke="#efefef" stroke-width="1"/>
<line x1="116.6" y1="2027.26" x2="381.4" y2="2027.26" stroke="#efefef" stroke-width="1"/>
<line x1="116.6" y1="1794.3" x2="381.4" y2="1794.3" stroke="#e6e6e6" stroke-width="1.6"/>
<line x1="116.6" y1="1846.07" x2="381.4" y2="1846.07" stroke="#e6e6e6" stroke-width="1.6"/>
<line x1="116.6" y1="1897.84" x2="381.4" y2="1897.84" stroke="#e6e6e6" stroke-width="1.6"/>
<line x1="116.6" y1="1949.61" x2="381.4" y2="1949.61" stroke="#e6e6e6" stroke-width="1.6"/>
<line x1="116.6" y1="2001.38" x2="381.4" y2="2001.38" stroke="#e6e6e6" stroke-width="1.6"/>
<line x1="154.7" y1="1782.3" x2="154.7" y2="2041.5" stroke="#e6e6e6" stroke-width="1.6"/>
<line x1="217.6" y1="1782.3" x2="217.6" y2="2041.5" stroke="#e6e6e6" stroke-width="1.6"/>
<line x1="280.6" y1="1782.3" x2="280.6" y2="2041.5" stroke="#e6e6e6" stroke-width="1.6"/>
<line x1="343.8" y1="1782.3" x2="343.8" y2="2041.5" stroke="#e6e6e6" stroke-width="1.6"/>
<polyline points="154.7,1794.3 217.6,1794.3 280.6,1794.3 343.8,1794.3" fill="none" stroke="#df2b35" stroke-width="1.9" stroke-linejoin="round"/>
<polyline points="154.7,1794.3 217.6,1794.3 280.6,1794.3 343.8,2029.34" fill="none" stroke="#a235e0" stroke-width="1.9" stroke-linejoin="round"/>
<polyline points="154.7,1794.3 217.6,1794.3 280.6,1795.34 343.8,1901.46" fill="none" stroke="#2a8de2" stroke-width="1.9" stroke-linejoin="round"/>
<circle cx="154.7" cy="1794.3" r="2.3" fill="#df2b35"/>
<circle cx="217.6" cy="1794.3" r="2.3" fill="#df2b35"/>
<circle cx="280.6" cy="1794.3" r="2.3" fill="#df2b35"/>
<circle cx="343.8" cy="1794.3" r="2.3" fill="#df2b35"/>
<circle cx="154.7" cy="1794.3" r="2.3" fill="#2a8de2"/>
<circle cx="217.6" cy="1794.3" r="2.3" fill="#2a8de2"/>
<circle cx="280.6" cy="1795.34" r="2.3" fill="#2a8de2"/>
<circle cx="343.8" cy="1901.46" r="2.3" fill="#2a8de2"/>
<circle cx="154.7" cy="1794.3" r="2.3" fill="#a235e0"/>
<circle cx="217.6" cy="1794.3" r="2.3" fill="#a235e0"/>
<circle cx="280.6" cy="1794.3" r="2.3" fill="#a235e0"/>
<circle cx="343.8" cy="2029.34" r="2.3" fill="#a235e0"/>
<rect x="116.6" y="1782.3" width="264.8" height="259.2" fill="none" stroke="#555" stroke-width="1.3"/>
<line x1="154.7" y1="2041.5" x2="154.7" y2="2044.5" stroke="#444" stroke-width="1.1"/>
<line x1="217.6" y1="2041.5" x2="217.6" y2="2044.5" stroke="#444" stroke-width="1.1"/>
<line x1="280.6" y1="2041.5" x2="280.6" y2="2044.5" stroke="#444" stroke-width="1.1"/>
<line x1="343.8" y1="2041.5" x2="343.8" y2="2044.5" stroke="#444" stroke-width="1.1"/>
<line x1="113.6" y1="1794.3" x2="116.6" y2="1794.3" stroke="#444" stroke-width="1.1"/>
<line x1="113.6" y1="1846.07" x2="116.6" y2="1846.07" stroke="#444" stroke-width="1.1"/>
<line x1="113.6" y1="1897.84" x2="116.6" y2="1897.84" stroke="#444" stroke-width="1.1"/>
<line x1="113.6" y1="1949.61" x2="116.6" y2="1949.61" stroke="#444" stroke-width="1.1"/>
<line x1="113.6" y1="2001.38" x2="116.6" y2="2001.38" stroke="#444" stroke-width="1.1"/>
<text x="105.7" y="1796" font-size="20.3" text-anchor="end" style="fill:#3d3d3d;stroke:#3d3d3d">1.0</text>
<text x="105.7" y="1847.77" font-size="20.3" text-anchor="end" style="fill:#3d3d3d;stroke:#3d3d3d">0.9</text>
<text x="105.7" y="1899.54" font-size="20.3" text-anchor="end" style="fill:#3d3d3d;stroke:#3d3d3d">0.8</text>
<text x="105.7" y="1951.31" font-size="20.3" text-anchor="end" style="fill:#3d3d3d;stroke:#3d3d3d">0.7</text>
<text x="105.7" y="2003.08" font-size="20.3" text-anchor="end" style="fill:#3d3d3d;stroke:#3d3d3d">0.6</text>
<text x="163" y="2062.2" font-size="20.6" text-anchor="middle">25K</text>
<text x="226.6" y="2062.2" font-size="20.6" text-anchor="middle">10K</text>
<text x="285.7" y="2062.2" font-size="20.6" text-anchor="middle">1K</text>
<text x="347.3" y="2062.2" font-size="20.6" text-anchor="middle">80</text>
<text x="229.3" y="1770.8" font-size="20.65" text-anchor="middle">High coverage</text>
<text x="196.5" y="2081.4" font-size="20.6">Number of cells</text>
<text text-anchor="middle" transform="translate(62.8 1902.2) rotate(-90)" font-size="19.8">ARI</text>
<rect x="429.7" y="1784.8" width="267.3" height="255.2" fill="#fff"/>
<line x1="429.7" y1="1827.7" x2="697" y2="1827.7" stroke="#efefef" stroke-width="1"/>
<line x1="429.7" y1="1891.1" x2="697" y2="1891.1" stroke="#efefef" stroke-width="1"/>
<line x1="429.7" y1="1954.5" x2="697" y2="1954.5" stroke="#efefef" stroke-width="1"/>
<line x1="429.7" y1="2017.9" x2="697" y2="2017.9" stroke="#efefef" stroke-width="1"/>
<line x1="429.7" y1="1796" x2="697" y2="1796" stroke="#e6e6e6" stroke-width="1.6"/>
<line x1="429.7" y1="1859.4" x2="697" y2="1859.4" stroke="#e6e6e6" stroke-width="1.6"/>
<line x1="429.7" y1="1922.8" x2="697" y2="1922.8" stroke="#e6e6e6" stroke-width="1.6"/>
<line x1="429.7" y1="1986.2" x2="697" y2="1986.2" stroke="#e6e6e6" stroke-width="1.6"/>
<line x1="467.7" y1="1784.8" x2="467.7" y2="2040" stroke="#e6e6e6" stroke-width="1.6"/>
<line x1="531.3" y1="1784.8" x2="531.3" y2="2040" stroke="#e6e6e6" stroke-width="1.6"/>
<line x1="595.1" y1="1784.8" x2="595.1" y2="2040" stroke="#e6e6e6" stroke-width="1.6"/>
<line x1="658.9" y1="1784.8" x2="658.9" y2="2040" stroke="#e6e6e6" stroke-width="1.6"/>
<polyline points="467.7,1796 531.3,1796 595.1,1794.73 658.9,1810.58" fill="none" stroke="#df2b35" stroke-width="1.9" stroke-linejoin="round"/>
<polyline points="467.7,1796 531.3,1796 595.1,1796 658.9,2029.31" fill="none" stroke="#a235e0" stroke-width="1.9" stroke-linejoin="round"/>
<polyline points="467.7,1796 531.3,1796 595.1,1797.27 658.9,1935.48" fill="none" stroke="#2a8de2" stroke-width="1.9" stroke-linejoin="round"/>
<circle cx="467.7" cy="1796" r="2.3" fill="#df2b35"/>
<circle cx="531.3" cy="1796" r="2.3" fill="#df2b35"/>
<circle cx="595.1" cy="1794.73" r="2.3" fill="#df2b35"/>
<circle cx="658.9" cy="1810.58" r="2.3" fill="#df2b35"/>
<circle cx="467.7" cy="1796" r="2.3" fill="#2a8de2"/>
<circle cx="531.3" cy="1796" r="2.3" fill="#2a8de2"/>
<circle cx="595.1" cy="1797.27" r="2.3" fill="#2a8de2"/>
<circle cx="658.9" cy="1935.48" r="2.3" fill="#2a8de2"/>
<circle cx="467.7" cy="1796" r="2.3" fill="#a235e0"/>
<circle cx="531.3" cy="1796" r="2.3" fill="#a235e0"/>
<circle cx="595.1" cy="1796" r="2.3" fill="#a235e0"/>
<circle cx="658.9" cy="2029.31" r="2.3" fill="#a235e0"/>
<rect x="429.7" y="1784.8" width="267.3" height="255.2" fill="none" stroke="#555" stroke-width="1.3"/>
<line x1="467.7" y1="2040" x2="467.7" y2="2043" stroke="#444" stroke-width="1.1"/>
<line x1="531.3" y1="2040" x2="531.3" y2="2043" stroke="#444" stroke-width="1.1"/>
<line x1="595.1" y1="2040" x2="595.1" y2="2043" stroke="#444" stroke-width="1.1"/>
<line x1="658.9" y1="2040" x2="658.9" y2="2043" stroke="#444" stroke-width="1.1"/>
<line x1="426.7" y1="1796" x2="429.7" y2="1796" stroke="#444" stroke-width="1.1"/>
<line x1="426.7" y1="1859.4" x2="429.7" y2="1859.4" stroke="#444" stroke-width="1.1"/>
<line x1="426.7" y1="1922.8" x2="429.7" y2="1922.8" stroke="#444" stroke-width="1.1"/>
<line x1="426.7" y1="1986.2" x2="429.7" y2="1986.2" stroke="#444" stroke-width="1.1"/>
<text x="425" y="1797.7" font-size="20.3" text-anchor="end" style="fill:#3d3d3d;stroke:#3d3d3d">1.0</text>
<text x="425" y="1861.1" font-size="20.3" text-anchor="end" style="fill:#3d3d3d;stroke:#3d3d3d">0.9</text>
<text x="425" y="1924.5" font-size="20.3" text-anchor="end" style="fill:#3d3d3d;stroke:#3d3d3d">0.8</text>
<text x="425" y="1987.9" font-size="20.3" text-anchor="end" style="fill:#3d3d3d;stroke:#3d3d3d">0.7</text>
<text x="477.3" y="2061.2" font-size="20.6" text-anchor="middle">25K</text>
<text x="541.3" y="2061.2" font-size="20.6" text-anchor="middle">10K</text>
<text x="600.8" y="2061.2" font-size="20.6" text-anchor="middle">1K</text>
<text x="663.7" y="2061.2" font-size="20.6" text-anchor="middle">80</text>
<text x="555.2" y="1770.8" font-size="20.65" text-anchor="middle">Medium coverage</text>
<text x="505.3" y="2081.4" font-size="20.6">Number of cells</text>
<rect x="756.5" y="1783.7" width="264.8" height="257.4" fill="#fff"/>
<line x1="756.5" y1="1826.78" x2="1021.3" y2="1826.78" stroke="#efefef" stroke-width="1"/>
<line x1="756.5" y1="1889.53" x2="1021.3" y2="1889.53" stroke="#efefef" stroke-width="1"/>
<line x1="756.5" y1="1952.28" x2="1021.3" y2="1952.28" stroke="#efefef" stroke-width="1"/>
<line x1="756.5" y1="2015.03" x2="1021.3" y2="2015.03" stroke="#efefef" stroke-width="1"/>
<line x1="756.5" y1="1795.4" x2="1021.3" y2="1795.4" stroke="#e6e6e6" stroke-width="1.6"/>
<line x1="756.5" y1="1858.15" x2="1021.3" y2="1858.15" stroke="#e6e6e6" stroke-width="1.6"/>
<line x1="756.5" y1="1920.9" x2="1021.3" y2="1920.9" stroke="#e6e6e6" stroke-width="1.6"/>
<line x1="756.5" y1="1983.65" x2="1021.3" y2="1983.65" stroke="#e6e6e6" stroke-width="1.6"/>
<line x1="793.7" y1="1783.7" x2="793.7" y2="2041.1" stroke="#e6e6e6" stroke-width="1.6"/>
<line x1="857.1" y1="1783.7" x2="857.1" y2="2041.1" stroke="#e6e6e6" stroke-width="1.6"/>
<line x1="920.5" y1="1783.7" x2="920.5" y2="2041.1" stroke="#e6e6e6" stroke-width="1.6"/>
<line x1="983.6" y1="1783.7" x2="983.6" y2="2041.1" stroke="#e6e6e6" stroke-width="1.6"/>
<polyline points="793.7,1795.4 857.1,1795.4 920.5,1795.4 983.6,1854.13" fill="none" stroke="#df2b35" stroke-width="1.9" stroke-linejoin="round"/>
<polyline points="793.7,1795.4 857.1,1795.4 920.5,1803.43 983.6,2029.83" fill="none" stroke="#a235e0" stroke-width="1.9" stroke-linejoin="round"/>
<polyline points="793.7,1795.4 857.1,1795.4 920.5,1795.4 983.6,1986.66" fill="none" stroke="#2a8de2" stroke-width="1.9" stroke-linejoin="round"/>
<circle cx="793.7" cy="1795.4" r="2.3" fill="#df2b35"/>
<circle cx="857.1" cy="1795.4" r="2.3" fill="#df2b35"/>
<circle cx="920.5" cy="1795.4" r="2.3" fill="#df2b35"/>
<circle cx="983.6" cy="1854.13" r="2.3" fill="#df2b35"/>
<circle cx="793.7" cy="1795.4" r="2.3" fill="#2a8de2"/>
<circle cx="857.1" cy="1795.4" r="2.3" fill="#2a8de2"/>
<circle cx="920.5" cy="1795.4" r="2.3" fill="#2a8de2"/>
<circle cx="983.6" cy="1986.66" r="2.3" fill="#2a8de2"/>
<circle cx="793.7" cy="1795.4" r="2.3" fill="#a235e0"/>
<circle cx="857.1" cy="1795.4" r="2.3" fill="#a235e0"/>
<circle cx="920.5" cy="1803.43" r="2.3" fill="#a235e0"/>
<circle cx="983.6" cy="2029.83" r="2.3" fill="#a235e0"/>
<rect x="756.5" y="1783.7" width="264.8" height="257.4" fill="none" stroke="#555" stroke-width="1.3"/>
<line x1="793.7" y1="2041.1" x2="793.7" y2="2044.1" stroke="#444" stroke-width="1.1"/>
<line x1="857.1" y1="2041.1" x2="857.1" y2="2044.1" stroke="#444" stroke-width="1.1"/>
<line x1="920.5" y1="2041.1" x2="920.5" y2="2044.1" stroke="#444" stroke-width="1.1"/>
<line x1="983.6" y1="2041.1" x2="983.6" y2="2044.1" stroke="#444" stroke-width="1.1"/>
<line x1="753.5" y1="1795.4" x2="756.5" y2="1795.4" stroke="#444" stroke-width="1.1"/>
<line x1="753.5" y1="1858.15" x2="756.5" y2="1858.15" stroke="#444" stroke-width="1.1"/>
<line x1="753.5" y1="1920.9" x2="756.5" y2="1920.9" stroke="#444" stroke-width="1.1"/>
<line x1="753.5" y1="1983.65" x2="756.5" y2="1983.65" stroke="#444" stroke-width="1.1"/>
<text x="749.7" y="1797.1" font-size="20.3" text-anchor="end" style="fill:#3d3d3d;stroke:#3d3d3d">1.00</text>
<text x="749.7" y="1859.85" font-size="20.3" text-anchor="end" style="fill:#3d3d3d;stroke:#3d3d3d">0.75</text>
<text x="749.7" y="1922.6" font-size="20.3" text-anchor="end" style="fill:#3d3d3d;stroke:#3d3d3d">0.50</text>
<text x="749.7" y="1985.35" font-size="20.3" text-anchor="end" style="fill:#3d3d3d;stroke:#3d3d3d">0.25</text>
<text x="802.3" y="2063.3" font-size="20.6" text-anchor="middle">25K</text>
<text x="866.8" y="2063.3" font-size="20.6" text-anchor="middle">10K</text>
<text x="925.5" y="2063.3" font-size="20.6" text-anchor="middle">1K</text>
<text x="987.2" y="2063.3" font-size="20.6" text-anchor="middle">80</text>
<text x="889.7" y="1770.8" font-size="20.65" text-anchor="middle">Low coverage</text>
<text x="828.5" y="2081.4" font-size="20.6">Number of cells</text>
<text x="354.6" y="2114" font-size="20.3">Method</text>
<rect x="462" y="2098.2" width="20.9" height="17.9" fill="#1e90ff"/>
<text x="488.2" y="2114" font-size="20.4">Signac</text>
<rect x="576.1" y="2098.2" width="20.5" height="17.9" fill="#a020f0"/>
<text x="601.9" y="2114" font-size="20.4">ArchR</text>
<rect x="687.2" y="2098.2" width="20.9" height="17.9" fill="#ff4040"/>
<text x="712.8" y="2114" font-size="20.7">pycisTopic</text>
</g>
<g id="panel_g">
<text x="1056.5" y="1782" font-size="29.5" font-weight="bold" style="stroke:none">g</text>
<rect x="1157.9" y="1782.4" width="201.5" height="262.7" fill="#fff"/>
<line x1="1191.48" y1="1782.4" x2="1191.48" y2="2045.1" stroke="#6e6e6e" stroke-width="1.1"/>
<line x1="1224.9" y1="1782.4" x2="1224.9" y2="2045.1" stroke="#6e6e6e" stroke-width="1.1"/>
<line x1="1258.52" y1="1782.4" x2="1258.52" y2="2045.1" stroke="#6e6e6e" stroke-width="1.1"/>
<line x1="1292.34" y1="1782.4" x2="1292.34" y2="2045.1" stroke="#6e6e6e" stroke-width="1.1"/>
<line x1="1325.57" y1="1782.4" x2="1325.57" y2="2045.1" stroke="#6e6e6e" stroke-width="1.1"/>
<line x1="1157.9" y1="1795.39" x2="1359.4" y2="1795.39" stroke="#6e6e6e" stroke-width="1.1"/>
<line x1="1157.9" y1="1845.53" x2="1359.4" y2="1845.53" stroke="#6e6e6e" stroke-width="1.1"/>
<line x1="1157.9" y1="1895.47" x2="1359.4" y2="1895.47" stroke="#6e6e6e" stroke-width="1.1"/>
<line x1="1157.9" y1="1945.41" x2="1359.4" y2="1945.41" stroke="#6e6e6e" stroke-width="1.1"/>
<line x1="1157.9" y1="1995.55" x2="1359.4" y2="1995.55" stroke="#6e6e6e" stroke-width="1.1"/>
<rect x="1157.9" y="1782.4" width="201.5" height="262.7" fill="none" stroke="#c4c4c4" stroke-width="1.6"/>
<line x1="1244.34" y1="1797.39" x2="1244.34" y2="2045.1" stroke="#555" stroke-width="1.5" stroke-dasharray="5 2.6"/>
<clipPath id="cg1"><rect x="1156.9" y="1781.4" width="203.5" height="264.7"/></clipPath>
<g clip-path="url(#cg1)">
<polyline points="1157.86,2045.11 1162.23,2036 1166.6,2027.62 1169.84,2023.43 1173.08,2018.81 1176.32,2014.02 1179.56,2009.88 1182.8,2006.24 1186.04,2002.35 1191.48,1996.52 1194.85,1993.24 1198.21,1990.2 1201.58,1986.81 1204.82,1983.53 1208.06,1979.28 1211.3,1976.12 1214.7,1972.73 1218.1,1970.63 1221.5,1967.31 1224.9,1964.46 1228.79,1960.35 1232.68,1955.71 1236.56,1953.4 1240.45,1952.03 1244.34,1950.27 1250.17,1943.67 1254.35,1940.78 1258.52,1937.45 1262.22,1934.58 1265.91,1932.71 1269.6,1929.67 1273.49,1927.81 1277.37,1924.67 1281.26,1922.87 1284.95,1920.13 1288.65,1918.38 1292.34,1916.07 1296.52,1913.79 1300.69,1910.63 1304.1,1909.29 1307.5,1907.92 1310.9,1906.91 1314.3,1905.77 1318.06,1903.36 1321.81,1901.6 1325.57,1899.94 1328.94,1898.19 1332.31,1896.57 1335.68,1894.89 1338.91,1892.74 1342.15,1890.86 1345.39,1889.25 1349.28,1887.9 1353.17,1887.11 1356.28,1885.42 1359.38,1883.81" fill="none" stroke="#4a86e0" stroke-width="1.5" stroke-linejoin="round"/>
<polyline points="1157.86,2045.11 1162.23,2036.82 1166.6,2027.62 1169.84,2023.53 1173.08,2018.11 1176.32,2014.02 1179.56,2009.71 1182.8,2006.58 1186.04,2002.35 1191.48,1996.52 1194.85,1993.52 1198.21,1990.22 1201.58,1986.81 1204.82,1983.05 1208.06,1979.79 1211.3,1976.12 1214.7,1973.55 1218.1,1970.86 1221.5,1967.76 1224.9,1965.43 1228.14,1962.77 1231.38,1960.14 1234.62,1957.66 1237.86,1955.94 1241.1,1954.27 1244.34,1951.83 1250.17,1944.05 1254.35,1941.59 1258.52,1938.22 1262.22,1935.68 1265.91,1932.99 1269.6,1930.45 1273.49,1927.95 1277.37,1925.45 1281.26,1923.65 1284.95,1920.91 1288.65,1919.08 1292.34,1916.85 1295.77,1915.05 1299.2,1913.49 1302.64,1911.99 1306.52,1910.44 1310.41,1908.13 1314.3,1906.16 1318.06,1904.28 1321.81,1902.01 1325.57,1900.33 1328.94,1898.23 1332.31,1896.91 1335.68,1895.47 1338.91,1893.16 1342.15,1891.59 1345.39,1889.64 1349.28,1889.17 1353.17,1887.7 1356.28,1886.12 1359.38,1884.2" fill="none" stroke="#e63946" stroke-width="1.6" stroke-linejoin="round"/>
<polyline points="1157.86,2045.11 1162.23,2033.19 1166.6,2021.79 1169.84,2015.36 1173.08,2008.7 1176.32,2002.35 1179.56,1997.92 1182.8,1993.41 1186.04,1988.75 1191.48,1981.95 1194.98,1977.39 1198.47,1973.2 1201.97,1969.9 1205.47,1965.43 1208.71,1961.3 1211.95,1957.39 1215.19,1953.77 1218.43,1950.38 1221.66,1945.97 1224.9,1942.11 1228.14,1938.88 1231.38,1934.96 1234.62,1931.42 1237.86,1928.97 1241.1,1925.89 1244.34,1923.65 1247.58,1920.54 1250.81,1917.54 1254.05,1913.93 1257.29,1910.72 1260.53,1907.69 1263.77,1904.21 1267.01,1901.47 1270.25,1897.95 1273.49,1895.47 1276.73,1892.81 1279.97,1889.73 1283.2,1886.72 1286.25,1884.26 1289.29,1881.72 1292.34,1879.92 1295.77,1879.32 1299.2,1877.95 1302.64,1877.01 1305.88,1875.93 1309.12,1874.8 1312.35,1873.12 1315.66,1871.39 1318.96,1869.66 1322.27,1867.19 1325.57,1865.35 1328.94,1864.35 1332.31,1862.7 1335.68,1861.46 1338.91,1860.28 1342.15,1858.6 1345.39,1856.6 1349.28,1855.03 1353.17,1854.27 1356.28,1852.35 1359.38,1851.16" fill="none" stroke="#9a2ee6" stroke-width="2" stroke-linejoin="round"/>
<polyline points="1157.86,2045.11 1162.72,2027.62 1168.55,2008.19 1172.43,1998.2 1176.32,1988.75 1179.56,1981.88 1182.8,1975.69 1186.04,1969.32 1191.48,1959.6 1194.85,1955.37 1198.21,1951.39 1201.58,1947.94 1204.82,1943.31 1208.06,1939.29 1211.3,1934.34 1214.7,1930.75 1218.1,1926.83 1221.5,1922.4 1224.9,1918.79 1228.14,1915.91 1231.38,1912.74 1234.62,1910.04 1237.86,1906.48 1241.1,1903.17 1244.34,1900.33 1247.88,1897.37 1251.43,1895.41 1254.98,1892.64 1258.52,1889.64 1262.22,1886.71 1265.91,1883.46 1269.6,1879.92 1273.49,1877.02 1277.37,1874.55 1281.26,1872.15 1284.95,1870.01 1288.65,1867.85 1292.34,1865.35 1295.77,1864.08 1299.2,1862.49 1302.64,1860.49 1305.75,1858.91 1308.86,1858.26 1311.97,1857.16 1315.08,1855.83 1318.19,1854.66 1321.88,1851.42 1325.57,1848.83 1329.65,1846.86 1333.73,1844.94 1337.62,1843.24 1341.51,1842.79 1345.39,1841.06 1349.28,1839.96 1353.17,1838.14 1356.28,1837.41 1359.38,1836.59" fill="none" stroke="#7d1a20" stroke-width="2" stroke-linejoin="round"/>
</g>
<text x="1261.1" y="1776" font-size="20.6" text-anchor="middle">HCT116</text>
<text x="1155.9" y="1799.39" font-size="20.1" text-anchor="end">1000</text>
<text x="1155.9" y="1849.53" font-size="20.1" text-anchor="end">800</text>
<text x="1155.9" y="1899.47" font-size="20.1" text-anchor="end">600</text>
<text x="1155.9" y="1949.41" font-size="20.1" text-anchor="end">400</text>
<text x="1155.9" y="1999.55" font-size="20.1" text-anchor="end">200</text>
<text x="1155.9" y="2049.1" font-size="20.1" text-anchor="end">0</text>
<text x="1157.9" y="2063.6" font-size="20" text-anchor="middle">0</text>
<text x="1358" y="2063.6" font-size="19.8" text-anchor="end">15000</text>
<text text-anchor="middle" transform="translate(1086 1909) rotate(-90)" font-size="21">Cumulative number</text>
<text text-anchor="middle" transform="translate(1111.2 1906.6) rotate(-90)" font-size="21">of regions</text>
<rect x="1390.4" y="1782.4" width="201.1" height="262.7" fill="#fff"/>
<line x1="1423.83" y1="1782.4" x2="1423.83" y2="2045.1" stroke="#6e6e6e" stroke-width="1.1"/>
<line x1="1457.06" y1="1782.4" x2="1457.06" y2="2045.1" stroke="#6e6e6e" stroke-width="1.1"/>
<line x1="1490.49" y1="1782.4" x2="1490.49" y2="2045.1" stroke="#6e6e6e" stroke-width="1.1"/>
<line x1="1524.5" y1="1782.4" x2="1524.5" y2="2045.1" stroke="#6e6e6e" stroke-width="1.1"/>
<line x1="1557.73" y1="1782.4" x2="1557.73" y2="2045.1" stroke="#6e6e6e" stroke-width="1.1"/>
<line x1="1390.4" y1="1795.39" x2="1591.5" y2="1795.39" stroke="#6e6e6e" stroke-width="1.1"/>
<line x1="1390.4" y1="1845.53" x2="1591.5" y2="1845.53" stroke="#6e6e6e" stroke-width="1.1"/>
<line x1="1390.4" y1="1895.47" x2="1591.5" y2="1895.47" stroke="#6e6e6e" stroke-width="1.1"/>
<line x1="1390.4" y1="1945.41" x2="1591.5" y2="1945.41" stroke="#6e6e6e" stroke-width="1.1"/>
<line x1="1390.4" y1="1995.55" x2="1591.5" y2="1995.55" stroke="#6e6e6e" stroke-width="1.1"/>
<rect x="1390.4" y="1782.4" width="201.1" height="262.7" fill="none" stroke="#c4c4c4" stroke-width="1.6"/>
<line x1="1476.89" y1="1797.39" x2="1476.89" y2="2045.1" stroke="#555" stroke-width="1.5" stroke-dasharray="5 2.6"/>
<clipPath id="cg2"><rect x="1389.4" y="1781.4" width="203.1" height="264.7"/></clipPath>
<g clip-path="url(#cg2)">
<polyline points="1390.41,2045.11 1394.78,2042.32 1399.15,2039.28 1402.39,2036.93 1405.63,2034.39 1408.87,2031.51 1412.61,2029.52 1416.35,2026.89 1420.09,2024.64 1423.83,2021.79 1427.38,2018.89 1430.92,2016.9 1434.47,2014.94 1438.02,2012.07 1441.19,2010.6 1444.37,2009.23 1447.54,2006.83 1450.71,2005.56 1453.89,2003.72 1457.06,2002.35 1460.37,2000.29 1463.67,1998.22 1466.97,1995.55 1470.28,1993.65 1473.58,1991.61 1476.89,1989.72 1480.29,1987.71 1483.69,1985.13 1487.09,1982.1 1490.49,1980.01 1493.6,1978.55 1496.71,1976.15 1499.82,1974.88 1502.93,1972.64 1506.04,1971.26 1509.11,1968.82 1512.19,1967.75 1515.27,1965.14 1518.34,1963.2 1521.42,1962.03 1524.5,1959.6 1527.9,1957.06 1531.3,1953.77 1534.7,1952.1 1538.1,1951.32 1541.5,1949.44 1544.9,1947.94 1548.11,1946.9 1551.32,1945.22 1554.52,1944.74 1557.73,1943.08 1561.32,1941.57 1564.92,1940.15 1568.52,1938.37 1572.11,1936.28 1576,1933.81 1579.88,1931.61 1583.77,1929.48 1587.66,1926.91 1591.54,1925.01" fill="none" stroke="#4a86e0" stroke-width="1.5" stroke-linejoin="round"/>
<polyline points="1390.41,2045.11 1394.78,2040.54 1399.15,2035.39 1402.39,2031.83 1405.63,2027.6 1408.87,2023.73 1412.61,2020.58 1416.35,2017.4 1420.09,2015.15 1423.83,2012.07 1427.38,2009.13 1430.92,2006.5 1434.47,2003.2 1438.02,2000.41 1441.19,1997.93 1444.37,1994.68 1447.54,1992.45 1450.71,1989.63 1453.89,1986.56 1457.06,1983.89 1460.37,1981.83 1463.67,1979.86 1466.97,1977.27 1470.28,1975.53 1473.58,1973.67 1476.89,1971.26 1480.29,1968.84 1483.69,1967.19 1487.09,1964.89 1490.49,1962.52 1493.6,1960.33 1496.71,1957.3 1499.82,1954.53 1502.93,1952.71 1506.04,1949.88 1509.11,1948.25 1512.19,1945.94 1515.27,1943.65 1518.34,1941.81 1521.42,1940.3 1524.5,1938.22 1527.9,1934.61 1531.3,1931.42 1534.7,1930.17 1538.1,1928.11 1541.5,1926.02 1544.9,1924.62 1548.11,1923.22 1551.32,1921.37 1554.52,1920.39 1557.73,1918.4 1561.32,1917.45 1564.92,1915.7 1568.52,1914.46 1572.11,1912.96 1576,1910.57 1579.88,1908.08 1583.77,1905.19 1587.66,1903.53 1591.54,1900.91" fill="none" stroke="#e63946" stroke-width="1.6" stroke-linejoin="round"/>
<polyline points="1390.41,2045.11 1394.78,2038.13 1399.15,2031.51 1402.39,2026.62 1405.63,2022.59 1408.87,2017.9 1412.61,2013.59 1416.35,2010.16 1420.09,2006.11 1423.83,2002.35 1427.38,1999 1430.92,1996.53 1434.47,1993.15 1438.02,1990.69 1441.19,1988.69 1444.37,1986.38 1447.54,1984.46 1450.71,1982.85 1453.89,1981.3 1457.06,1979.03 1460.43,1976.39 1463.8,1974.22 1467.17,1972.23 1470.41,1971.26 1473.65,1970.48 1476.89,1968.93 1480.29,1966.67 1483.69,1964.16 1487.09,1962.41 1490.49,1959.6 1493.6,1957.2 1496.71,1956.07 1499.82,1953.56 1502.93,1951.47 1506.04,1949.88 1509.11,1947.23 1512.19,1945.16 1515.27,1943.4 1518.34,1940.5 1521.42,1938.63 1524.5,1936.28 1527.9,1933.5 1531.3,1930.45 1534.7,1928.38 1538.1,1926.61 1541.5,1924.18 1544.9,1922.68 1548.11,1920.29 1551.32,1918.5 1554.52,1917.03 1557.73,1914.9 1561.32,1912.89 1564.92,1910.83 1568.52,1909.16 1572.11,1907.13 1576,1904.17 1579.88,1901.1 1583.77,1898.38 1587.66,1896.25 1591.54,1893.53" fill="none" stroke="#9a2ee6" stroke-width="2" stroke-linejoin="round"/>
<polyline points="1390.41,2045.11 1395.26,2029.56 1401.09,2015.96 1404.98,2007.91 1408.87,2000.41 1412.61,1995.04 1416.35,1988.38 1420.09,1983.13 1423.83,1977.09 1427.38,1972.3 1430.92,1968.09 1434.47,1964.47 1438.02,1959.6 1441.19,1955.75 1444.37,1952.62 1447.54,1948.87 1450.71,1945.3 1453.89,1941.78 1457.06,1938.22 1460.37,1934.35 1463.67,1931.43 1466.97,1927.12 1470.28,1923.71 1473.58,1919.93 1476.89,1916.85 1480.29,1913.7 1483.69,1910.92 1487.09,1908.5 1490.49,1905.19 1493.6,1902.34 1496.71,1899.36 1499.82,1896.78 1502.93,1894.8 1506.04,1891.58 1509.11,1887.91 1512.19,1885.23 1515.27,1881.74 1518.34,1878.79 1521.42,1875.23 1524.5,1872.15 1527.9,1869.43 1531.3,1866.32 1534.7,1864.37 1538.1,1862.58 1541.5,1860.89 1544.9,1858.55 1548.11,1856.68 1551.32,1854.3 1554.52,1852.28 1557.73,1850.77 1561.32,1848.79 1564.92,1845.9 1568.52,1843.18 1572.11,1841.06 1576,1836.97 1579.88,1832.07 1583.77,1827.45 1587.66,1825.54 1591.54,1823.18" fill="none" stroke="#7d1a20" stroke-width="2" stroke-linejoin="round"/>
</g>
<text x="1488.5" y="1776" font-size="20.6" text-anchor="middle">MCF7</text>
<text x="1386.5" y="2063.6" font-size="20" text-anchor="middle">0</text>
<text x="1586.3" y="2063.6" font-size="19.8" text-anchor="end">15000</text>
<text x="1511.9" y="2080.5" font-size="20.65">Rank of consensus peaks</text>
<rect x="1621.4" y="1781.4" width="198.6" height="262.7" fill="#fff"/>
<line x1="1654.41" y1="1781.4" x2="1654.41" y2="2044.1" stroke="#6e6e6e" stroke-width="1.1"/>
<line x1="1687.45" y1="1781.4" x2="1687.45" y2="2044.1" stroke="#6e6e6e" stroke-width="1.1"/>
<line x1="1720.49" y1="1781.4" x2="1720.49" y2="2044.1" stroke="#6e6e6e" stroke-width="1.1"/>
<line x1="1753.53" y1="1781.4" x2="1753.53" y2="2044.1" stroke="#6e6e6e" stroke-width="1.1"/>
<line x1="1786.56" y1="1781.4" x2="1786.56" y2="2044.1" stroke="#6e6e6e" stroke-width="1.1"/>
<line x1="1621.4" y1="1794.41" x2="1820" y2="1794.41" stroke="#6e6e6e" stroke-width="1.1"/>
<line x1="1621.4" y1="1844.55" x2="1820" y2="1844.55" stroke="#6e6e6e" stroke-width="1.1"/>
<line x1="1621.4" y1="1894.5" x2="1820" y2="1894.5" stroke="#6e6e6e" stroke-width="1.1"/>
<line x1="1621.4" y1="1944.44" x2="1820" y2="1944.44" stroke="#6e6e6e" stroke-width="1.1"/>
<line x1="1621.4" y1="1994.19" x2="1820" y2="1994.19" stroke="#6e6e6e" stroke-width="1.1"/>
<rect x="1621.4" y="1781.4" width="198.6" height="262.7" fill="none" stroke="#c4c4c4" stroke-width="1.6"/>
<line x1="1706.89" y1="1796.41" x2="1706.89" y2="2044.1" stroke="#555" stroke-width="1.5" stroke-dasharray="5 2.6"/>
<clipPath id="cg3"><rect x="1620.4" y="1780.4" width="200.6" height="264.7"/></clipPath>
<g clip-path="url(#cg3)">
<polyline points="1621.38,2044.14 1625.26,2028.07 1629.15,2012.07 1632.39,2003.52 1635.63,1994.87 1638.87,1986.81 1641.98,1980.57 1645.09,1973.1 1648.2,1966.99 1651.3,1960.78 1654.41,1953.77 1657.91,1948.3 1661.41,1943.72 1664.91,1938.73 1668.41,1933.1 1671.9,1928.51 1675.01,1925.28 1678.12,1922.49 1681.23,1919.13 1684.34,1916.29 1687.45,1912.96 1690.69,1908.73 1693.93,1904.92 1697.17,1900.91 1700.41,1897.42 1703.65,1893.95 1706.89,1889.64 1710.29,1886.09 1713.69,1882.63 1717.09,1878.59 1720.49,1875.06 1723.6,1872.01 1726.71,1868.06 1729.82,1864.94 1732.93,1862.02 1736.04,1858.55 1739.53,1854.88 1743.03,1850.69 1746.53,1846.47 1750.03,1842.77 1753.53,1839.11 1757.41,1834.29 1761.3,1829.82 1765.19,1825.51 1768.43,1822.9 1771.66,1819.38 1774.9,1816.76 1778.79,1813.91 1782.68,1810.66 1786.56,1807.05 1789.96,1803.93 1793.37,1801.58 1796.77,1799.02 1800.17,1796.36 1803.41,1792.64 1806.65,1789.8 1809.88,1786.64 1814.74,1781.78 1818.63,1777.9" fill="none" stroke="#4a86e0" stroke-width="1.5" stroke-linejoin="round"/>
<polyline points="1621.38,2044.14 1625.26,2030.12 1629.15,2015.96 1632.39,2008.11 1635.63,2000.49 1638.87,1992.64 1641.98,1986.71 1645.09,1981.68 1648.2,1976.05 1651.3,1970.25 1654.41,1964.46 1657.91,1959.84 1661.41,1955.93 1664.91,1951.46 1668.41,1947.11 1671.9,1943.08 1675.01,1940.62 1678.12,1937.75 1681.23,1933.88 1684.34,1931.78 1687.45,1928.51 1690.69,1925.37 1693.93,1921.91 1697.17,1918.57 1700.41,1915.73 1703.65,1912.27 1706.89,1909.07 1710.29,1906.1 1713.69,1902.92 1717.09,1899.23 1720.49,1896.44 1723.6,1894.77 1726.71,1893.04 1729.82,1891.08 1732.93,1888.78 1736.04,1886.72 1739.53,1883.55 1743.03,1880.79 1746.53,1878.2 1750.03,1876.28 1753.53,1873.12 1757.41,1869.36 1761.3,1865.86 1765.19,1862.43 1768.43,1859.92 1771.66,1856.42 1774.9,1853.69 1778.79,1851.14 1782.68,1848.44 1786.56,1845.91 1789.96,1843.54 1793.37,1842.11 1796.77,1840.43 1800.17,1838.14 1803.41,1835.21 1806.65,1832.68 1809.88,1830.37 1813.25,1828.66 1816.62,1826.66 1819.99,1825.51" fill="none" stroke="#9a2ee6" stroke-width="2" stroke-linejoin="round"/>
<polyline points="1621.38,2044.14 1625.26,2029.03 1629.15,2014.02 1632.39,2005.65 1635.63,1997.6 1638.87,1988.75 1641.98,1982.5 1645.09,1976.32 1648.2,1970.18 1651.3,1963.56 1654.41,1957.66 1657.91,1953.01 1661.41,1948.46 1664.91,1943.96 1668.41,1938.6 1671.9,1934.34 1675.01,1931.03 1678.12,1927.71 1681.23,1925.32 1684.34,1922.09 1687.45,1918.79 1690.69,1914.45 1693.93,1911.5 1697.17,1907.59 1700.41,1903.4 1703.65,1899.47 1706.89,1895.47 1710.29,1892.21 1713.69,1889.15 1717.09,1886.75 1720.49,1883.81 1723.6,1881.23 1726.71,1879.22 1729.82,1877.14 1732.93,1874.79 1736.04,1873.12 1739.53,1869.78 1743.03,1866.45 1746.53,1863.55 1750.03,1859.93 1753.53,1856.6 1757.41,1853.5 1761.3,1850.12 1765.19,1846.89 1768.43,1843.81 1771.66,1840.36 1774.9,1837.17 1778.79,1833.71 1782.68,1831.19 1786.56,1827.45 1789.96,1825.03 1793.37,1821.96 1796.77,1818.91 1800.17,1815.79 1803.41,1812.69 1806.65,1809.69 1809.88,1807.05 1813.25,1804.24 1816.62,1801.43 1819.99,1799.27" fill="none" stroke="#e63946" stroke-width="1.6" stroke-linejoin="round"/>
<polyline points="1621.38,2044.14 1625.26,2027.59 1629.15,2011.1 1632.39,2002.84 1635.63,1994.42 1638.87,1985.84 1641.98,1979.45 1645.09,1973.3 1648.2,1967.64 1651.3,1961.51 1654.41,1955.71 1657.91,1951.17 1661.41,1946.19 1664.91,1941.24 1668.41,1936.34 1671.9,1931.42 1675.01,1928.86 1678.12,1925.63 1681.23,1923.2 1684.34,1920.2 1687.45,1917.82 1690.69,1914.82 1693.93,1910.58 1697.17,1907.93 1700.41,1903.79 1703.65,1901 1706.89,1897.41 1710.29,1893.61 1713.69,1890.03 1717.09,1886.82 1720.49,1882.84 1723.6,1880.22 1726.71,1878.12 1729.82,1876.84 1732.93,1874.3 1736.04,1872.15 1739.53,1868.83 1743.03,1866.81 1746.53,1863.85 1750.03,1860.1 1753.53,1857.57 1757.41,1854.26 1761.3,1850.73 1765.19,1847.86 1768.43,1844.43 1771.66,1841.5 1774.9,1838.14 1778.79,1834.89 1782.68,1832.51 1786.56,1829.4 1789.96,1826.52 1793.37,1824.21 1796.77,1822.42 1800.17,1819.68 1803.41,1816.66 1806.65,1813.77 1809.88,1810.93 1813.25,1808.76 1816.62,1806.38 1819.99,1804.13" fill="none" stroke="#7d1a20" stroke-width="2" stroke-linejoin="round"/>
</g>
<text x="1716.8" y="1775.6" font-size="20.6" text-anchor="middle">K562</text>
<text x="1624.3" y="2063.6" font-size="20" text-anchor="middle">0</text>
<text x="1819.2" y="2063.6" font-size="19.8" text-anchor="end">15000</text>
<rect x="1849.9" y="1781.8" width="198.3" height="262.4" fill="#fff"/>
<line x1="1882.98" y1="1781.8" x2="1882.98" y2="2044.2" stroke="#6e6e6e" stroke-width="1.1"/>
<line x1="1916.03" y1="1781.8" x2="1916.03" y2="2044.2" stroke="#6e6e6e" stroke-width="1.1"/>
<line x1="1949.08" y1="1781.8" x2="1949.08" y2="2044.2" stroke="#6e6e6e" stroke-width="1.1"/>
<line x1="1982.13" y1="1781.8" x2="1982.13" y2="2044.2" stroke="#6e6e6e" stroke-width="1.1"/>
<line x1="2015.17" y1="1781.8" x2="2015.17" y2="2044.2" stroke="#6e6e6e" stroke-width="1.1"/>
<line x1="1849.9" y1="1794.43" x2="2048.2" y2="1794.43" stroke="#6e6e6e" stroke-width="1.1"/>
<line x1="1849.9" y1="1844.59" x2="2048.2" y2="1844.59" stroke="#6e6e6e" stroke-width="1.1"/>
<line x1="1849.9" y1="1894.55" x2="2048.2" y2="1894.55" stroke="#6e6e6e" stroke-width="1.1"/>
<line x1="1849.9" y1="1944.51" x2="2048.2" y2="1944.51" stroke="#6e6e6e" stroke-width="1.1"/>
<line x1="1849.9" y1="1994.28" x2="2048.2" y2="1994.28" stroke="#6e6e6e" stroke-width="1.1"/>
<rect x="1849.9" y="1781.8" width="198.3" height="262.4" fill="none" stroke="#c4c4c4" stroke-width="1.6"/>
<line x1="1935.08" y1="1796.43" x2="1935.08" y2="2044.2" stroke="#555" stroke-width="1.5" stroke-dasharray="5 2.6"/>
<clipPath id="cg4"><rect x="1848.9" y="1780.8" width="200.3" height="264.4"/></clipPath>
<g clip-path="url(#cg4)">
<polyline points="1849.93,2044.24 1853.69,2040.89 1857.45,2038.2 1861.21,2034.91 1865.1,2031.2 1868.98,2027.48 1872.87,2023.24 1876.24,2020.98 1879.61,2019.09 1882.98,2017.41 1886.29,2014.19 1889.59,2011.4 1892.9,2009.04 1896.2,2005.94 1899.51,2003.76 1902.81,2002.34 1906.12,2000.21 1909.42,1998.48 1912.72,1996.8 1916.03,1995.05 1919.2,1993.38 1922.38,1991.15 1925.56,1988.54 1928.73,1986.8 1931.91,1984.66 1935.08,1983 1938.58,1981.91 1942.08,1980.4 1945.58,1978.93 1949.08,1977.17 1952.11,1975.94 1955.14,1974.3 1958.18,1972.95 1961.21,1971.24 1964.24,1969.39 1967.82,1967.01 1971.4,1965.47 1974.97,1962.97 1978.55,1961.09 1982.13,1958.7 1985.88,1956.5 1989.64,1954.09 1993.4,1951.9 1996.51,1950.23 1999.62,1948.77 2002.73,1947.13 2005.84,1945.4 2008.95,1944.58 2012.06,1943.03 2015.17,1941.21 2018.6,1939.36 2022.02,1936.73 2025.44,1934.26 2028.86,1932.12 2032.28,1929.54 2035.63,1927.43 2038.97,1926.22 2042.31,1924.24 2045.66,1922.22 2049,1920.79" fill="none" stroke="#4a86e0" stroke-width="1.5" stroke-linejoin="round"/>
<polyline points="1849.93,2044.24 1853.69,2040.6 1857.45,2037.96 1861.21,2034.52 1865.1,2030.78 1868.98,2027.18 1872.87,2022.85 1876.24,2020.68 1879.61,2018.72 1882.98,2017.02 1886.29,2014.34 1889.59,2011.35 1892.9,2008.08 1896.2,2005.36 1899.51,2003.76 1902.81,2001.69 1906.12,2000.29 1909.42,1997.85 1912.72,1996.17 1916.03,1994.67 1919.2,1992.96 1922.38,1990.31 1925.56,1988.11 1928.73,1986.55 1931.91,1984.27 1935.08,1982.03 1938.58,1979.98 1942.08,1978.68 1945.58,1977.09 1949.08,1975.23 1952.11,1973.14 1955.14,1971.88 1958.18,1969.6 1961.21,1968.06 1964.24,1966.48 1967.82,1963.92 1971.4,1961.91 1974.97,1960.54 1978.55,1957.83 1982.13,1955.79 1985.88,1953.68 1989.64,1950.54 1993.4,1948.01 1996.51,1946.31 1999.62,1944.77 2002.73,1942.78 2005.84,1940.4 2008.95,1939.07 2012.06,1937.31 2015.17,1935.37 2018.6,1932.72 2022.02,1930.3 2025.44,1928.75 2028.86,1926.06 2032.28,1923.71 2035.63,1921.46 2038.97,1919.77 2042.31,1917.6 2045.66,1916.23 2049,1913.99" fill="none" stroke="#9a2ee6" stroke-width="2" stroke-linejoin="round"/>
<polyline points="1849.93,2044.24 1853.69,2041.14 1857.45,2036.62 1861.21,2033.55 1865.1,2029.89 1868.98,2025.43 1872.87,2021.88 1876.24,2020.42 1879.61,2017.51 1882.98,2016.05 1886.29,2013.51 1889.59,2010.4 1892.9,2007.66 1896.2,2004.39 1899.51,2002.94 1902.81,2000.24 1906.12,1998.39 1909.42,1996.82 1912.72,1994.45 1916.03,1992.72 1919.14,1990.86 1922.25,1989.21 1925.36,1987.86 1928.6,1985.63 1931.84,1983.05 1935.08,1980.09 1938.58,1978.44 1942.08,1975.92 1945.58,1974.68 1949.08,1972.31 1952.11,1970.57 1955.14,1968.54 1958.18,1967.02 1961.21,1965.23 1964.24,1963.56 1967.82,1961 1971.4,1959.35 1974.97,1957.01 1978.55,1955.08 1982.13,1952.87 1985.88,1950.38 1989.64,1947.18 1993.4,1944.12 1996.51,1942.22 1999.62,1940.87 2002.73,1939.2 2005.84,1936.89 2008.95,1935.54 2012.06,1932.81 2015.17,1931.49 2018.6,1928.79 2022.02,1926.49 2025.44,1924.92 2028.86,1922.34 2032.28,1919.82 2035.63,1918.1 2038.97,1915.72 2042.31,1913.98 2045.66,1912.43 2049,1910.1" fill="none" stroke="#e63946" stroke-width="1.6" stroke-linejoin="round"/>
<polyline points="1849.93,2044.24 1855.38,2031.6 1861.21,2021.88 1865.1,2017.86 1868.98,2014.09 1872.87,2010.22 1876.24,2006.25 1879.61,2002.39 1882.98,1998.55 1886.29,1994.58 1889.59,1990.94 1892.9,1986.65 1896.2,1983 1899.51,1980.54 1902.81,1977.33 1906.12,1975.03 1909.42,1972.47 1912.72,1969.68 1916.03,1967.45 1919.14,1965.75 1922.25,1963.37 1925.36,1961.62 1928.6,1958.99 1931.84,1956.24 1935.08,1952.87 1938.58,1950.44 1942.08,1948.89 1945.58,1946.62 1949.08,1944.12 1952.11,1941.37 1955.14,1937.82 1958.18,1935.33 1961.21,1932.58 1964.24,1929.54 1967.82,1926.42 1971.4,1923.43 1974.97,1920.6 1978.55,1917.64 1982.13,1914.96 1985.88,1912.01 1989.64,1908.33 1993.4,1905.24 1996.51,1903.22 1999.62,1901.5 2002.73,1899.86 2005.84,1897.26 2008.95,1895.07 2012.06,1894.05 2015.17,1891.63 2018.6,1888.86 2022.02,1885.7 2025.44,1882.33 2028.86,1878.93 2032.28,1876.08 2035.52,1874.12 2038.76,1872.65 2042,1871.22 2045.5,1869.92 2049,1868.69" fill="none" stroke="#7d1a20" stroke-width="2" stroke-linejoin="round"/>
</g>
<text x="1949.2" y="1775.6" font-size="20.6" text-anchor="middle">HepG2</text>
<text x="1852" y="2063.7" font-size="20" text-anchor="middle">0</text>
<text x="1993.4" y="2063.7" font-size="19.8">15000</text>
<text x="1224.9" y="2113.1" font-size="20.3">Method</text>
<rect x="1304.6" y="2096.6" width="21.4" height="17.5" fill="#1e90ff"/>
<text x="1331.4" y="2113.1" font-size="20.5">Signac (DARs)</text>
<rect x="1479.2" y="2096.6" width="22" height="17.5" fill="#a020f0"/>
<text x="1506.6" y="2113.1" font-size="20.5">ArchR (DARs)</text>
<rect x="1641" y="2096.6" width="21.6" height="17.5" fill="#ff4040"/>
<text x="1667.2" y="2113.1" font-size="20.7">pycisTopic (DARs)</text>
<rect x="1846.2" y="2096.6" width="21.5" height="17.5" fill="#8b1a1a"/>
<text x="1872.3" y="2113.1" font-size="20.7">pycisTopic (Topic)</text>
</g>
</svg>
</body></html>
